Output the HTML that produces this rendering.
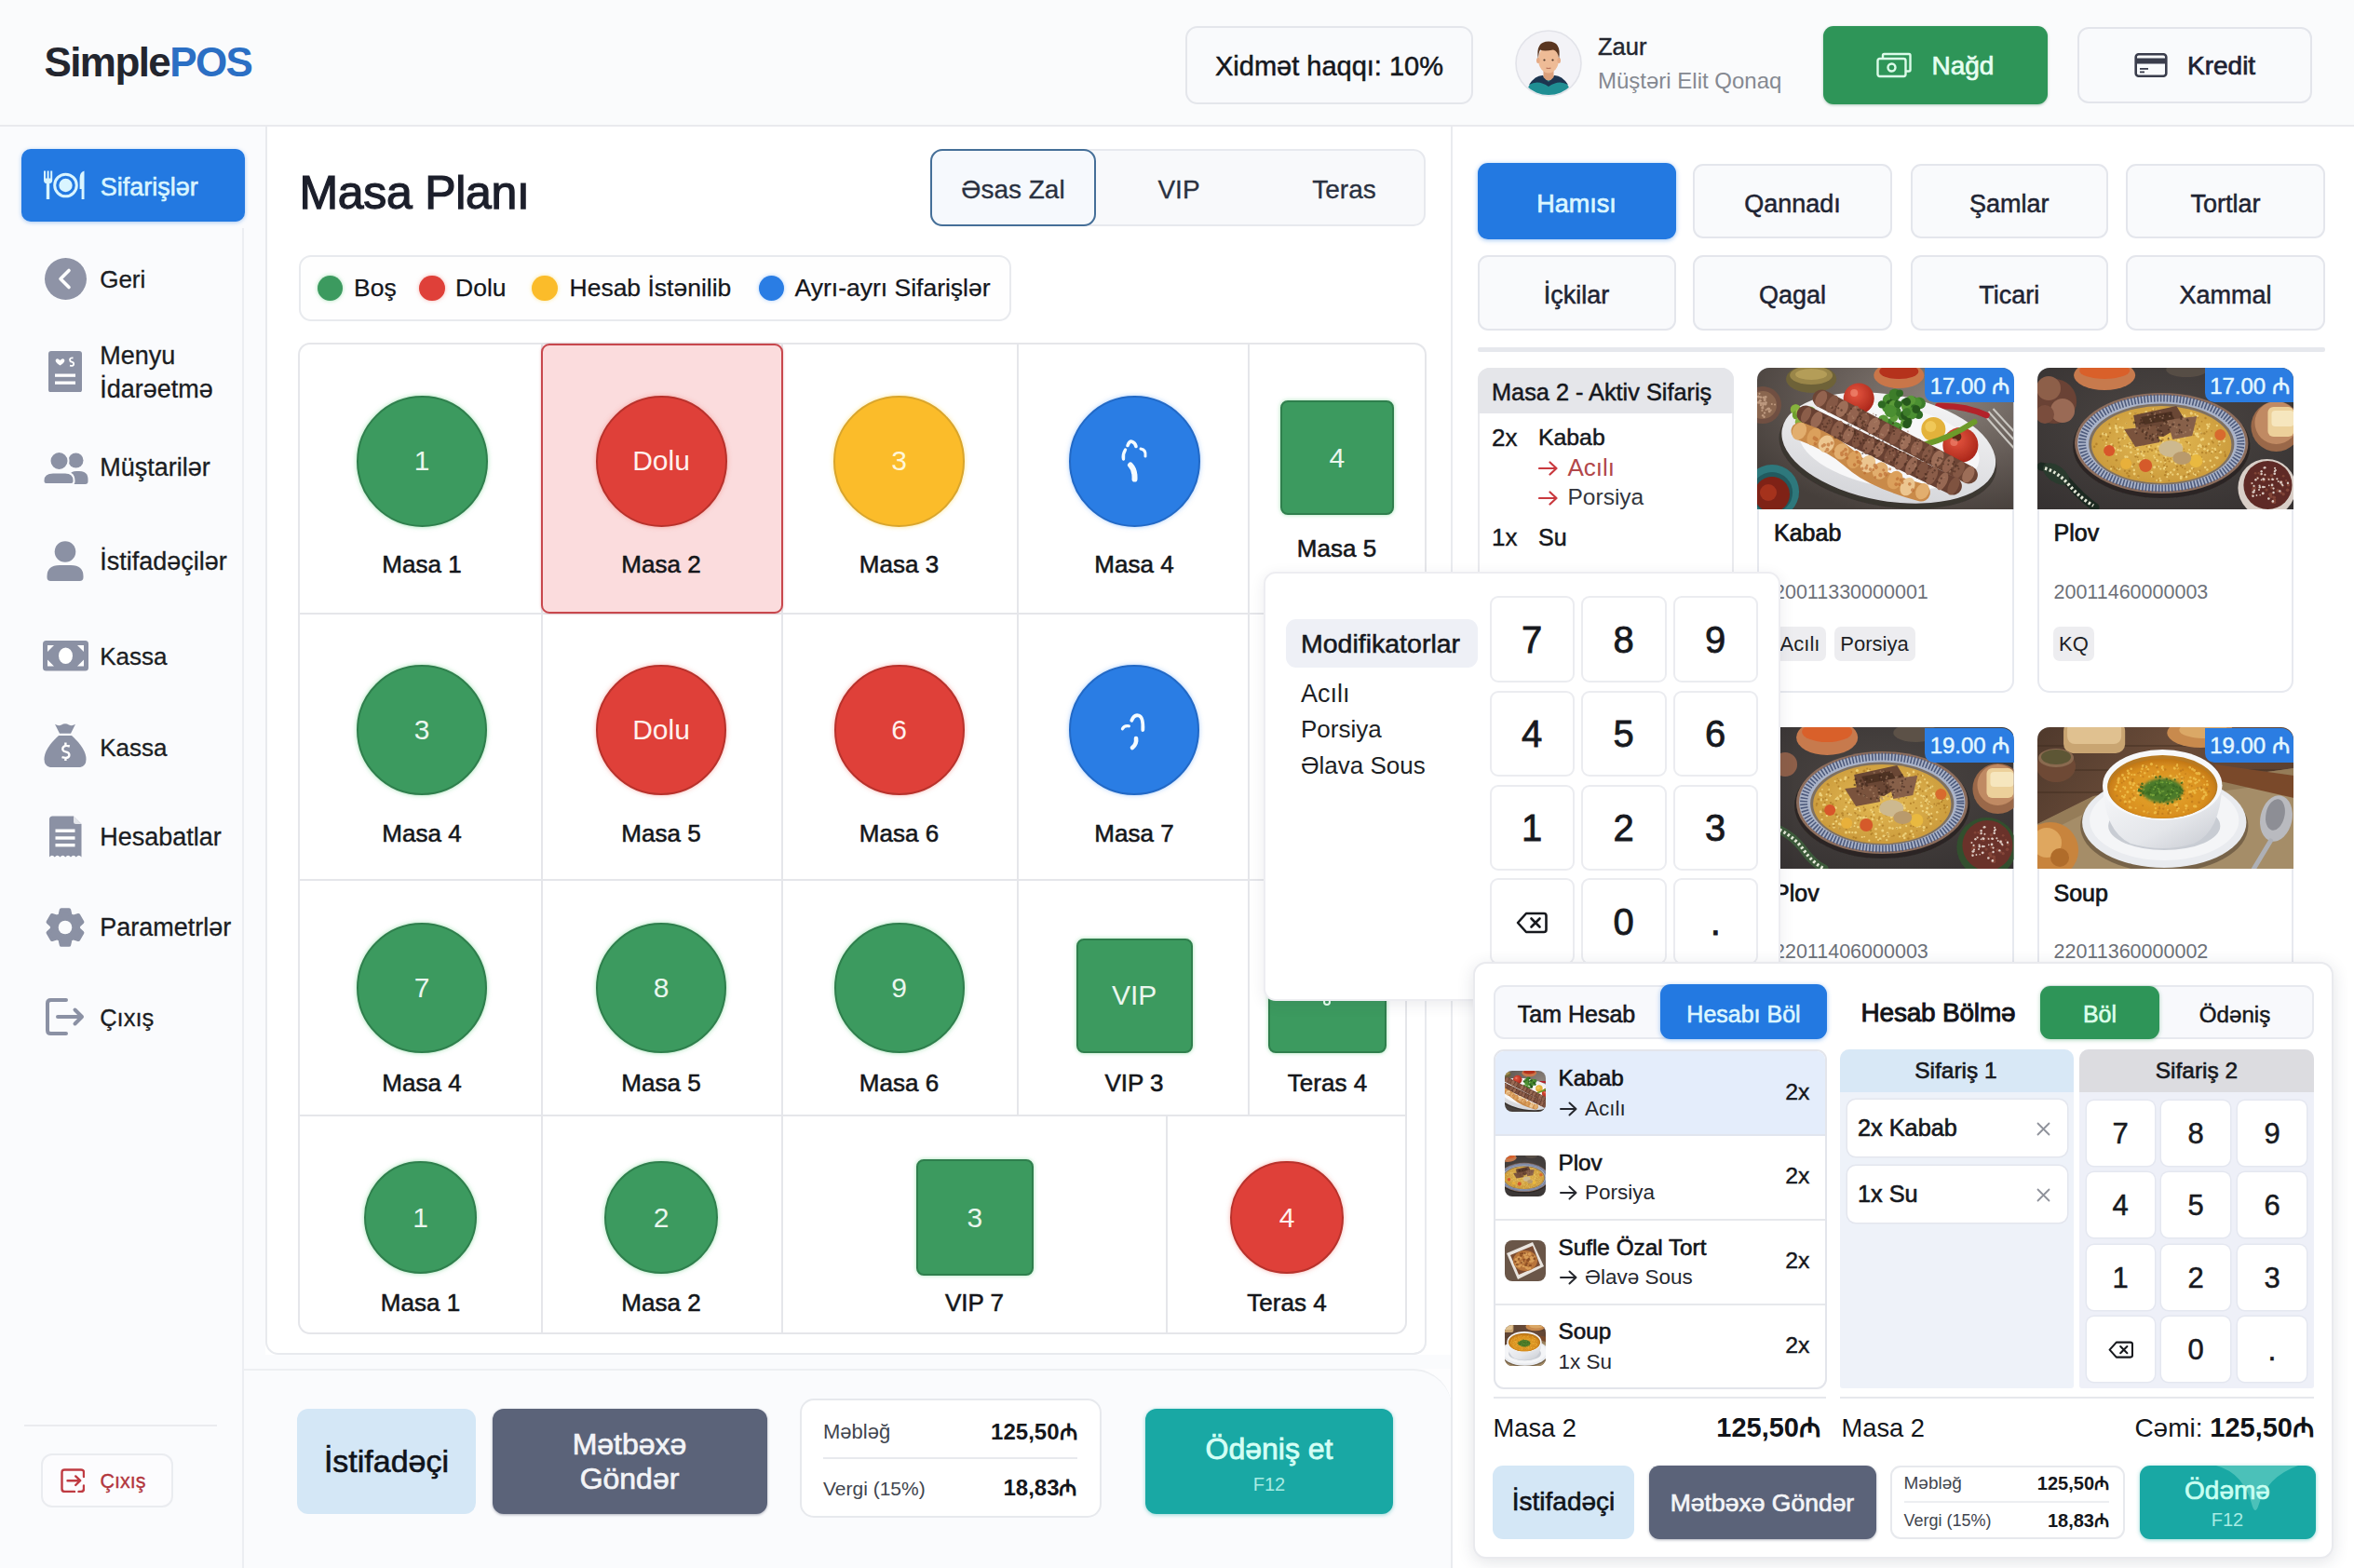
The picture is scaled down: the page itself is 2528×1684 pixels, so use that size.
<!DOCTYPE html><html lang="az"><head><meta charset="utf-8"><title>SimplePOS</title><style>
*{box-sizing:border-box;margin:0;padding:0}
html,body{width:2528px;height:1684px;overflow:hidden}
body{position:relative;background:#fdfdfe;font-family:"Liberation Sans","DejaVu Sans",sans-serif;color:#1b1d22}
div,.a,.t{position:absolute}
.t{line-height:1;white-space:nowrap;display:block}
.key{background:#fff;border:2px solid #ebecf0;border-radius:9px}
.key2{background:#fff;box-shadow:0 0 0 1.5px #e4e7f0;border-radius:8px}
.cat{border:2px solid #e4e6ec;border-radius:11px;background:#f9fafc}
.card{border:2px solid #e7e9ef;border-radius:13px;background:#fff;overflow:hidden}
.tag{background:#ededf0;border-radius:7px}
.circ{border-radius:50%}
</style></head><body>
<svg width="0" height="0" style="position:absolute;left:0;top:0">
<defs>
<filter id="soft" filterUnits="userSpaceOnUse" x="-10" y="-10" width="300" height="180"><feGaussianBlur stdDeviation="0.65"/></filter>
<filter id="soft2" filterUnits="userSpaceOnUse" x="-10" y="-10" width="300" height="180"><feGaussianBlur stdDeviation="1.600"/></filter>
<filter id="soft3" filterUnits="userSpaceOnUse" x="-10" y="-10" width="300" height="180"><feGaussianBlur stdDeviation="3.500"/></filter>
<radialGradient id="bg1" cx="72%" cy="22%" r="85%"><stop offset="0" stop-color="#8a817a"/><stop offset="0.55" stop-color="#645b56"/><stop offset="1" stop-color="#463f3b"/></radialGradient>
<radialGradient id="bg2" cx="50%" cy="40%" r="80%"><stop offset="0" stop-color="#4d4744"/><stop offset="1" stop-color="#343030"/></radialGradient>
<linearGradient id="wood" x1="0" y1="0" x2="1" y2="0.4"><stop offset="0" stop-color="#4f392c"/><stop offset="0.5" stop-color="#6a4c39"/><stop offset="1" stop-color="#5a3f2f"/></linearGradient>
<radialGradient id="rice" cx="50%" cy="45%" r="60%"><stop offset="0" stop-color="#e4bb55"/><stop offset="1" stop-color="#c9983a"/></radialGradient>
<radialGradient id="soupg" cx="50%" cy="55%" r="60%"><stop offset="0" stop-color="#e6a92f"/><stop offset="0.7" stop-color="#d98f1f"/><stop offset="1" stop-color="#b66b12"/></radialGradient>
<radialGradient id="tom" cx="40%" cy="35%" r="70%"><stop offset="0" stop-color="#e5553f"/><stop offset="1" stop-color="#a82418"/></radialGradient>
<linearGradient id="plateg" x1="0" y1="0" x2="0" y2="1"><stop offset="0" stop-color="#f3f3f4"/><stop offset="1" stop-color="#d5d6da"/></linearGradient>
<linearGradient id="bowlg" x1="0" y1="0" x2="1" y2="1"><stop offset="0" stop-color="#f7f8fa"/><stop offset="0.6" stop-color="#e4e6ea"/><stop offset="1" stop-color="#c6c9d0"/></linearGradient>

<symbol id="ph1" viewBox="0 0 275 152" preserveAspectRatio="xMidYMid slice">
 <rect width="275" height="152" fill="url(#bg1)"/>
 <g filter="url(#soft)">
  <circle cx="6" cy="40" r="20" fill="#6f5042"/><circle cx="6" cy="40" r="15" fill="#8a6650"/><g fill="#c9a58a" opacity="0.8"><circle cx="-1.7" cy="41.8" r="1.0"/><circle cx="6.7" cy="39.2" r="1.3"/><circle cx="9.0" cy="37.8" r="1.3"/><circle cx="4.0" cy="38.2" r="1.2"/><circle cx="3.5" cy="31.6" r="1.4"/><circle cx="9.5" cy="45.3" r="1.0"/><circle cx="-6.5" cy="39.5" r="1.3"/><circle cx="7.2" cy="32.0" r="1.4"/><circle cx="11.6" cy="44.2" r="1.4"/><circle cx="4.7" cy="31.7" r="1.0"/><circle cx="5.4" cy="45.9" r="1.1"/><circle cx="8.1" cy="34.6" r="1.5"/><circle cx="8.2" cy="37.9" r="1.2"/><circle cx="4.0" cy="40.1" r="1.2"/><circle cx="9.6" cy="37.6" r="1.3"/><circle cx="13.2" cy="46.8" r="1.5"/><circle cx="6.3" cy="41.1" r="1.0"/><circle cx="4.3" cy="39.6" r="1.0"/><circle cx="-6.5" cy="40.3" r="1.2"/><circle cx="-2.3" cy="46.2" r="1.0"/><circle cx="1.3" cy="37.4" r="1.3"/><circle cx="8.9" cy="39.2" r="1.3"/><circle cx="2.1" cy="36.9" r="1.1"/><circle cx="19.0" cy="39.6" r="1.0"/><circle cx="2.5" cy="27.8" r="1.1"/><circle cx="3.9" cy="38.3" r="1.2"/><circle cx="1.4" cy="31.1" r="1.5"/><circle cx="12.6" cy="44.0" r="1.5"/><circle cx="-1.5" cy="35.6" r="1.2"/><circle cx="15.8" cy="39.1" r="1.0"/><circle cx="8.3" cy="32.9" r="1.2"/><circle cx="8.0" cy="48.4" r="1.2"/><circle cx="14.7" cy="45.5" r="1.0"/><circle cx="6.4" cy="38.0" r="1.5"/><circle cx="9.2" cy="31.4" r="1.4"/><circle cx="6.1" cy="51.2" r="1.2"/><circle cx="7.5" cy="52.7" r="1.2"/><circle cx="-2.4" cy="48.6" r="1.2"/><circle cx="3.3" cy="35.3" r="1.5"/><circle cx="5.8" cy="42.9" r="1.6"/></g>
  <ellipse cx="58" cy="12" rx="27" ry="15" fill="#6e6238"/><ellipse cx="58" cy="8" rx="23" ry="10" fill="#9a8649"/><ellipse cx="58" cy="7" rx="17" ry="6" fill="#b49d58"/>
  <ellipse cx="152" cy="8" rx="27" ry="14" fill="#c9764a"/><ellipse cx="152" cy="4" rx="21" ry="8" fill="#b5301f"/>
  <circle cx="16" cy="133" r="29" fill="#2d787c"/><circle cx="16" cy="134" r="22" fill="#215a5e"/><circle cx="16" cy="136" r="19" fill="#7f2317"/><circle cx="12" cy="134" r="9" fill="#a5321f"/>
  <path d="M243 50 L275 86 M248 47 L275 77 M253 44 L275 68" stroke="#c9c6c0" stroke-width="2" fill="none"/>
  <path d="M194 41 Q222 40 246 51" stroke="#b3202a" stroke-width="6.500" stroke-linecap="round" fill="none"/>
  <g transform="rotate(10 141 86)">
   <ellipse cx="141" cy="91" rx="118" ry="58" fill="#2a2523" opacity=".55"/>
   <ellipse cx="141" cy="86" rx="116" ry="57" fill="url(#plateg)"/>
   <ellipse cx="141" cy="84" rx="98" ry="44" fill="#f7f7f8"/>
  </g>
  <circle cx="41.2" cy="44.7" r="5.5" fill="#86b23c"/><circle cx="56.9" cy="47.3" r="5.8" fill="#6f9f2f"/><circle cx="55.4" cy="51.1" r="5.9" fill="#9cc24a"/><circle cx="41.8" cy="43.3" r="3.9" fill="#86b23c"/><circle cx="42.6" cy="50.8" r="4.9" fill="#6f9f2f"/><circle cx="46.9" cy="49.5" r="4.1" fill="#9cc24a"/><circle cx="46.1" cy="58.3" r="5.4" fill="#86b23c"/><circle cx="53.3" cy="56.6" r="3.9" fill="#6f9f2f"/><circle cx="45.1" cy="47.9" r="3.6" fill="#9cc24a"/><circle cx="51.5" cy="47.1" r="4.1" fill="#86b23c"/><circle cx="58.2" cy="49.1" r="4.3" fill="#6f9f2f"/><circle cx="55.8" cy="48.5" r="5.2" fill="#9cc24a"/>
  <circle cx="155.7" cy="52.1" r="4.9" fill="#3c7d2a"/><circle cx="158.5" cy="50.1" r="4.9" fill="#2f6a22"/><circle cx="173.7" cy="37.5" r="5.9" fill="#4b8f30"/><circle cx="158.1" cy="59.8" r="4.6" fill="#5a9a38"/><circle cx="158.7" cy="51.5" r="4.5" fill="#28591d"/><circle cx="174.6" cy="38.3" r="6.0" fill="#3c7d2a"/><circle cx="158.3" cy="38.0" r="4.7" fill="#2f6a22"/><circle cx="140.7" cy="34.2" r="6.1" fill="#4b8f30"/><circle cx="160.2" cy="42.1" r="5.5" fill="#5a9a38"/><circle cx="146.9" cy="34.0" r="4.4" fill="#28591d"/><circle cx="147.9" cy="46.9" r="6.3" fill="#3c7d2a"/><circle cx="166.8" cy="35.4" r="4.7" fill="#2f6a22"/><circle cx="170.3" cy="38.1" r="6.2" fill="#4b8f30"/><circle cx="164.9" cy="34.8" r="5.0" fill="#5a9a38"/><circle cx="142.2" cy="38.7" r="4.3" fill="#28591d"/><circle cx="147.7" cy="62.3" r="4.0" fill="#3c7d2a"/><circle cx="173.2" cy="50.4" r="4.6" fill="#2f6a22"/><circle cx="138.9" cy="43.2" r="4.8" fill="#4b8f30"/><circle cx="165.6" cy="45.9" r="5.0" fill="#5a9a38"/><circle cx="160.6" cy="60.6" r="4.6" fill="#28591d"/><circle cx="142.2" cy="59.1" r="4.7" fill="#3c7d2a"/><circle cx="133.7" cy="39.4" r="4.2" fill="#2f6a22"/><circle cx="165.6" cy="49.5" r="5.9" fill="#4b8f30"/><circle cx="146.2" cy="39.8" r="4.8" fill="#5a9a38"/><circle cx="162.1" cy="57.7" r="4.0" fill="#28591d"/><circle cx="147.6" cy="28.8" r="6.4" fill="#3c7d2a"/><circle cx="152.8" cy="27.3" r="3.9" fill="#2f6a22"/><circle cx="149.3" cy="64.3" r="5.9" fill="#4b8f30"/><circle cx="135.3" cy="55.9" r="5.5" fill="#5a9a38"/><circle cx="160.4" cy="36.5" r="4.4" fill="#28591d"/><circle cx="146.7" cy="48.4" r="4.9" fill="#3c7d2a"/><circle cx="168.4" cy="43.4" r="3.9" fill="#2f6a22"/><circle cx="164.5" cy="48.2" r="5.9" fill="#4b8f30"/><circle cx="146.6" cy="53.9" r="4.2" fill="#5a9a38"/><circle cx="170.5" cy="44.6" r="4.4" fill="#28591d"/><circle cx="160.3" cy="47.6" r="4.3" fill="#3c7d2a"/><circle cx="150.9" cy="39.3" r="4.0" fill="#2f6a22"/><circle cx="143.0" cy="46.6" r="6.5" fill="#4b8f30"/>
  <circle cx="189" cy="66" r="13" fill="#e3b23a"/><circle cx="186" cy="63" r="6" fill="#f0c858"/>
  <circle cx="109" cy="33" r="16.500" fill="url(#tom)"/><circle cx="104" cy="27" r="4" fill="#f08a74" opacity=".7"/>
  <circle cx="218" cy="83" r="19" fill="url(#tom)"/><circle cx="214" cy="74" r="5" fill="#5c2a18"/><circle cx="211" cy="80" r="4" fill="#f08a74" opacity=".6"/>
  <path d="M181 82 Q205 76 233 58" stroke="#6d9a2a" stroke-width="6" stroke-linecap="round" fill="none"/>
  <path d="M69 33 L227 115" stroke="#6d4535" stroke-width="19" stroke-linecap="round"/><ellipse cx="68.6" cy="33.4" rx="5.6" ry="9.2" transform="rotate(27 68.6 33.4)" fill="#93644f"/><ellipse cx="80.3" cy="38.8" rx="5.4" ry="10.1" transform="rotate(27 80.3 38.8)" fill="#855845"/><ellipse cx="91.1" cy="44.1" rx="5.7" ry="9.5" transform="rotate(27 91.1 44.1)" fill="#9d6e58"/><ellipse cx="103.2" cy="50.0" rx="5.1" ry="10.0" transform="rotate(27 103.2 50.0)" fill="#93644f"/><ellipse cx="113.8" cy="57.0" rx="5.8" ry="8.8" transform="rotate(27 113.8 57.0)" fill="#855845"/><ellipse cx="124.9" cy="62.3" rx="5.9" ry="9.4" transform="rotate(27 124.9 62.3)" fill="#9d6e58"/><ellipse cx="136.4" cy="68.0" rx="4.4" ry="9.2" transform="rotate(27 136.4 68.0)" fill="#93644f"/><ellipse cx="147.9" cy="74.0" rx="4.8" ry="9.2" transform="rotate(27 147.9 74.0)" fill="#855845"/><ellipse cx="158.9" cy="79.8" rx="4.9" ry="8.8" transform="rotate(27 158.9 79.8)" fill="#9d6e58"/><ellipse cx="171.0" cy="85.8" rx="5.4" ry="9.1" transform="rotate(27 171.0 85.8)" fill="#93644f"/><ellipse cx="182.4" cy="92.0" rx="4.6" ry="9.3" transform="rotate(27 182.4 92.0)" fill="#855845"/><ellipse cx="193.4" cy="97.7" rx="5.9" ry="9.5" transform="rotate(27 193.4 97.7)" fill="#9d6e58"/><ellipse cx="204.8" cy="103.5" rx="4.9" ry="9.7" transform="rotate(27 204.8 103.5)" fill="#93644f"/><ellipse cx="216.2" cy="109.6" rx="5.2" ry="9.7" transform="rotate(27 216.2 109.6)" fill="#855845"/><ellipse cx="226.4" cy="114.7" rx="5.7" ry="9.5" transform="rotate(27 226.4 114.7)" fill="#9d6e58"/><path d="M52 50 L210 127" stroke="#684132" stroke-width="19" stroke-linecap="round"/><ellipse cx="52.5" cy="50.5" rx="4.5" ry="8.9" transform="rotate(26 52.5 50.5)" fill="#8b5d49"/><ellipse cx="63.7" cy="55.8" rx="5.5" ry="9.3" transform="rotate(26 63.7 55.8)" fill="#976852"/><ellipse cx="74.7" cy="61.1" rx="5.3" ry="9.1" transform="rotate(26 74.7 61.1)" fill="#7f5240"/><ellipse cx="85.8" cy="66.4" rx="5.6" ry="10.4" transform="rotate(26 85.8 66.4)" fill="#8b5d49"/><ellipse cx="97.7" cy="72.1" rx="5.1" ry="9.2" transform="rotate(26 97.7 72.1)" fill="#976852"/><ellipse cx="107.9" cy="76.9" rx="5.1" ry="9.3" transform="rotate(26 107.9 76.9)" fill="#7f5240"/><ellipse cx="119.6" cy="83.5" rx="5.2" ry="9.7" transform="rotate(26 119.6 83.5)" fill="#8b5d49"/><ellipse cx="130.7" cy="87.9" rx="4.9" ry="9.0" transform="rotate(26 130.7 87.9)" fill="#976852"/><ellipse cx="142.3" cy="94.6" rx="5.5" ry="9.1" transform="rotate(26 142.3 94.6)" fill="#7f5240"/><ellipse cx="154.0" cy="99.9" rx="5.6" ry="10.3" transform="rotate(26 154.0 99.9)" fill="#8b5d49"/><ellipse cx="165.2" cy="105.3" rx="5.0" ry="10.4" transform="rotate(26 165.2 105.3)" fill="#976852"/><ellipse cx="176.7" cy="110.1" rx="5.6" ry="9.9" transform="rotate(26 176.7 110.1)" fill="#7f5240"/><ellipse cx="187.4" cy="116.0" rx="5.2" ry="10.3" transform="rotate(26 187.4 116.0)" fill="#8b5d49"/><ellipse cx="198.7" cy="121.9" rx="5.0" ry="10.2" transform="rotate(26 198.7 121.9)" fill="#976852"/><ellipse cx="210.5" cy="127.0" rx="5.3" ry="10.3" transform="rotate(26 210.5 127.0)" fill="#7f5240"/><path d="M46 68 Q80 80 102 100 T176 134" stroke="#c98a4a" stroke-width="19" stroke-linecap="round" fill="none"/><ellipse cx="45.2" cy="68.1" rx="7.3" ry="9.7" transform="rotate(27 45.2 68.1)" fill="#e2ae6e"/><ellipse cx="60.8" cy="73.9" rx="6.7" ry="10.0" transform="rotate(27 60.8 73.9)" fill="#dba05c"/><ellipse cx="74.1" cy="81.8" rx="8.3" ry="9.5" transform="rotate(27 74.1 81.8)" fill="#ecc690"/><ellipse cx="90.4" cy="89.9" rx="7.7" ry="8.9" transform="rotate(27 90.4 89.9)" fill="#e2ae6e"/><ellipse cx="104.2" cy="98.5" rx="7.5" ry="9.9" transform="rotate(27 104.2 98.5)" fill="#dba05c"/><ellipse cx="118.8" cy="103.3" rx="7.9" ry="9.6" transform="rotate(27 118.8 103.3)" fill="#ecc690"/><ellipse cx="132.0" cy="110.5" rx="8.1" ry="9.5" transform="rotate(27 132.0 110.5)" fill="#e2ae6e"/><ellipse cx="147.8" cy="120.5" rx="7.8" ry="10.2" transform="rotate(27 147.8 120.5)" fill="#dba05c"/><ellipse cx="161.2" cy="127.6" rx="7.4" ry="10.2" transform="rotate(27 161.2 127.6)" fill="#ecc690"/><ellipse cx="177.2" cy="132.7" rx="6.9" ry="9.0" transform="rotate(27 177.2 132.7)" fill="#e2ae6e"/>
  <g transform="rotate(27.500 148 74)" fill="#3f2419" opacity="0.55"><circle cx="99.9" cy="66.8" r="1.2"/><circle cx="210.8" cy="70.3" r="1.3"/><circle cx="200.3" cy="75.5" r="1.3"/><circle cx="104.1" cy="64.8" r="0.8"/><circle cx="110.0" cy="75.2" r="1.1"/><circle cx="140.0" cy="73.4" r="0.9"/><circle cx="134.2" cy="85.3" r="1.2"/><circle cx="185.5" cy="83.0" r="0.9"/><circle cx="127.5" cy="71.1" r="0.8"/><circle cx="172.7" cy="70.0" r="0.9"/><circle cx="220.4" cy="72.8" r="0.9"/><circle cx="203.6" cy="71.9" r="1.1"/><circle cx="169.2" cy="85.2" r="1.1"/><circle cx="220.1" cy="71.6" r="0.9"/><circle cx="127.6" cy="77.7" r="0.9"/><circle cx="187.3" cy="76.6" r="1.1"/><circle cx="212.2" cy="74.2" r="1.0"/><circle cx="122.0" cy="84.1" r="1.0"/><circle cx="126.3" cy="81.6" r="1.1"/><circle cx="220.1" cy="78.2" r="0.8"/><circle cx="147.9" cy="63.0" r="0.8"/><circle cx="159.1" cy="66.9" r="1.1"/><circle cx="164.8" cy="74.1" r="0.9"/><circle cx="181.2" cy="72.5" r="1.2"/><circle cx="216.4" cy="69.0" r="1.0"/><circle cx="113.4" cy="80.9" r="1.2"/><circle cx="200.5" cy="80.5" r="1.2"/><circle cx="157.5" cy="72.2" r="1.3"/><circle cx="186.3" cy="77.8" r="1.1"/><circle cx="187.6" cy="70.6" r="1.3"/><circle cx="106.1" cy="72.1" r="0.9"/><circle cx="157.6" cy="77.0" r="0.9"/><circle cx="119.0" cy="62.9" r="0.9"/><circle cx="221.9" cy="77.6" r="1.1"/><circle cx="116.5" cy="77.3" r="1.1"/><circle cx="172.3" cy="66.8" r="1.0"/><circle cx="218.1" cy="77.9" r="0.8"/><circle cx="76.6" cy="74.4" r="0.8"/><circle cx="139.3" cy="62.4" r="1.1"/><circle cx="154.0" cy="70.2" r="1.0"/><circle cx="190.4" cy="82.9" r="0.9"/><circle cx="73.4" cy="77.5" r="1.2"/><circle cx="199.9" cy="72.8" r="1.0"/><circle cx="141.1" cy="65.8" r="0.9"/><circle cx="123.4" cy="76.6" r="1.0"/><circle cx="224.2" cy="73.1" r="1.1"/><circle cx="102.6" cy="74.0" r="0.8"/><circle cx="138.4" cy="84.5" r="1.2"/><circle cx="103.5" cy="82.1" r="1.2"/><circle cx="126.3" cy="64.8" r="1.2"/><circle cx="105.2" cy="81.6" r="0.9"/><circle cx="79.8" cy="74.9" r="1.1"/><circle cx="127.4" cy="85.2" r="1.1"/><circle cx="140.7" cy="73.4" r="1.1"/><circle cx="147.7" cy="83.8" r="1.0"/><circle cx="173.5" cy="65.2" r="1.2"/><circle cx="111.9" cy="81.9" r="1.2"/><circle cx="169.8" cy="67.7" r="1.2"/><circle cx="192.3" cy="66.7" r="1.3"/><circle cx="202.1" cy="71.7" r="1.1"/><circle cx="183.9" cy="83.5" r="1.3"/><circle cx="83.8" cy="75.4" r="1.2"/><circle cx="144.0" cy="69.1" r="1.2"/><circle cx="92.4" cy="69.2" r="1.0"/><circle cx="99.1" cy="66.6" r="1.1"/><circle cx="145.6" cy="72.0" r="0.9"/><circle cx="89.4" cy="77.5" r="0.9"/><circle cx="123.7" cy="65.2" r="0.8"/><circle cx="111.5" cy="75.0" r="0.8"/><circle cx="177.4" cy="79.0" r="0.9"/><circle cx="153.1" cy="76.1" r="1.0"/><circle cx="103.4" cy="80.4" r="1.1"/><circle cx="153.7" cy="85.4" r="0.8"/><circle cx="113.9" cy="77.5" r="1.0"/><circle cx="201.3" cy="81.2" r="1.0"/><circle cx="207.5" cy="76.1" r="0.8"/><circle cx="104.4" cy="72.0" r="1.1"/><circle cx="216.2" cy="71.2" r="1.0"/><circle cx="172.1" cy="65.1" r="1.0"/><circle cx="185.8" cy="81.2" r="1.1"/><circle cx="222.0" cy="70.9" r="1.1"/><circle cx="104.2" cy="83.1" r="0.8"/><circle cx="193.7" cy="79.7" r="1.1"/><circle cx="187.2" cy="81.4" r="1.2"/><circle cx="111.6" cy="79.5" r="0.9"/><circle cx="128.2" cy="85.4" r="1.0"/><circle cx="220.3" cy="71.2" r="1.1"/><circle cx="143.2" cy="85.9" r="1.0"/><circle cx="110.0" cy="77.4" r="1.3"/><circle cx="106.3" cy="74.3" r="1.0"/></g><g transform="rotate(26 131 88)" fill="#3f2419" opacity="0.55"><circle cx="150.0" cy="77.5" r="1.0"/><circle cx="130.9" cy="88.3" r="1.1"/><circle cx="64.2" cy="89.9" r="1.0"/><circle cx="136.1" cy="81.8" r="1.2"/><circle cx="124.7" cy="80.3" r="1.1"/><circle cx="116.8" cy="83.2" r="1.1"/><circle cx="144.6" cy="82.2" r="1.2"/><circle cx="102.8" cy="77.9" r="1.0"/><circle cx="189.2" cy="93.9" r="1.2"/><circle cx="108.5" cy="89.2" r="0.9"/><circle cx="103.1" cy="83.1" r="1.3"/><circle cx="101.3" cy="85.2" r="1.1"/><circle cx="82.8" cy="96.9" r="1.3"/><circle cx="68.6" cy="87.1" r="1.1"/><circle cx="157.3" cy="76.9" r="0.8"/><circle cx="92.0" cy="95.1" r="0.9"/><circle cx="111.2" cy="86.1" r="1.2"/><circle cx="104.7" cy="87.4" r="1.1"/><circle cx="117.8" cy="92.9" r="1.0"/><circle cx="154.1" cy="92.2" r="1.2"/><circle cx="128.2" cy="86.7" r="1.2"/><circle cx="175.7" cy="88.7" r="1.3"/><circle cx="99.6" cy="83.4" r="1.0"/><circle cx="109.7" cy="90.7" r="1.3"/><circle cx="178.9" cy="90.6" r="1.2"/><circle cx="69.1" cy="95.1" r="0.9"/><circle cx="204.1" cy="86.5" r="1.1"/><circle cx="171.1" cy="82.9" r="1.2"/><circle cx="147.0" cy="79.7" r="1.0"/><circle cx="117.3" cy="80.6" r="0.8"/><circle cx="130.1" cy="81.8" r="1.0"/><circle cx="137.9" cy="83.1" r="0.8"/><circle cx="173.7" cy="94.5" r="1.0"/><circle cx="128.9" cy="96.1" r="1.3"/><circle cx="129.5" cy="95.7" r="1.2"/><circle cx="100.2" cy="84.0" r="1.0"/><circle cx="101.9" cy="88.6" r="1.0"/><circle cx="107.0" cy="98.1" r="0.9"/><circle cx="89.5" cy="78.0" r="1.3"/><circle cx="87.9" cy="94.5" r="0.9"/><circle cx="87.3" cy="93.0" r="1.2"/><circle cx="169.8" cy="85.5" r="0.8"/><circle cx="113.3" cy="88.9" r="0.8"/><circle cx="134.9" cy="84.0" r="1.2"/><circle cx="82.1" cy="96.9" r="1.2"/><circle cx="162.6" cy="90.0" r="1.3"/><circle cx="92.7" cy="82.9" r="1.2"/><circle cx="152.3" cy="80.2" r="1.0"/><circle cx="168.9" cy="92.2" r="0.9"/><circle cx="88.2" cy="81.4" r="0.9"/><circle cx="114.1" cy="85.3" r="0.8"/><circle cx="98.6" cy="81.5" r="1.2"/><circle cx="86.0" cy="80.7" r="0.8"/><circle cx="142.2" cy="85.0" r="1.1"/><circle cx="194.1" cy="82.0" r="1.2"/><circle cx="69.0" cy="91.0" r="1.2"/><circle cx="180.4" cy="96.8" r="1.3"/><circle cx="66.9" cy="91.8" r="1.0"/><circle cx="120.1" cy="98.0" r="0.8"/><circle cx="154.9" cy="76.7" r="0.9"/><circle cx="152.0" cy="86.7" r="1.2"/><circle cx="116.7" cy="99.6" r="1.0"/><circle cx="143.3" cy="87.0" r="0.8"/><circle cx="156.2" cy="79.2" r="1.1"/><circle cx="162.8" cy="89.0" r="1.0"/><circle cx="204.6" cy="91.8" r="1.2"/><circle cx="193.1" cy="84.9" r="1.0"/><circle cx="189.9" cy="92.8" r="0.8"/><circle cx="80.2" cy="85.6" r="1.0"/><circle cx="149.9" cy="89.5" r="1.1"/><circle cx="186.5" cy="89.7" r="0.9"/><circle cx="125.0" cy="92.6" r="1.1"/><circle cx="102.9" cy="91.7" r="0.9"/><circle cx="62.5" cy="83.5" r="1.0"/><circle cx="153.8" cy="93.8" r="0.9"/><circle cx="68.9" cy="83.3" r="1.1"/><circle cx="147.9" cy="94.3" r="1.0"/><circle cx="85.2" cy="90.7" r="1.3"/><circle cx="70.8" cy="84.9" r="1.2"/><circle cx="88.1" cy="79.5" r="1.0"/><circle cx="92.5" cy="77.8" r="0.9"/><circle cx="96.9" cy="82.7" r="0.8"/><circle cx="196.8" cy="90.6" r="0.8"/><circle cx="125.0" cy="84.3" r="1.0"/><circle cx="187.3" cy="89.8" r="1.2"/><circle cx="140.0" cy="96.9" r="1.3"/><circle cx="116.6" cy="95.9" r="1.2"/><circle cx="152.1" cy="84.3" r="1.1"/><circle cx="150.0" cy="90.8" r="1.3"/><circle cx="202.1" cy="91.6" r="1.2"/></g><g transform="rotate(27 140 80)" fill="#b58a70" opacity="0.5"><circle cx="126.1" cy="87.6" r="0.9"/><circle cx="192.6" cy="87.1" r="0.8"/><circle cx="193.2" cy="85.6" r="0.7"/><circle cx="120.7" cy="82.4" r="0.7"/><circle cx="75.3" cy="89.1" r="0.7"/><circle cx="150.6" cy="97.2" r="1.1"/><circle cx="95.4" cy="73.5" r="1.1"/><circle cx="211.0" cy="85.9" r="0.8"/><circle cx="156.9" cy="85.9" r="0.8"/><circle cx="153.7" cy="71.4" r="0.9"/><circle cx="108.6" cy="69.7" r="0.9"/><circle cx="158.0" cy="82.1" r="0.8"/><circle cx="117.8" cy="67.0" r="0.8"/><circle cx="93.7" cy="72.4" r="0.8"/><circle cx="158.4" cy="62.3" r="0.8"/><circle cx="88.2" cy="72.8" r="1.0"/><circle cx="134.5" cy="68.3" r="1.1"/><circle cx="178.1" cy="89.6" r="1.0"/><circle cx="172.3" cy="92.6" r="0.7"/><circle cx="105.6" cy="63.2" r="0.9"/><circle cx="171.8" cy="71.3" r="1.0"/><circle cx="89.5" cy="70.6" r="0.9"/><circle cx="181.7" cy="61.9" r="0.9"/><circle cx="129.9" cy="75.4" r="1.0"/><circle cx="92.0" cy="62.5" r="1.0"/><circle cx="129.3" cy="93.3" r="1.0"/><circle cx="193.8" cy="82.1" r="0.7"/><circle cx="154.4" cy="83.6" r="1.0"/><circle cx="167.4" cy="87.9" r="0.8"/><circle cx="155.7" cy="75.5" r="0.9"/><circle cx="68.4" cy="73.7" r="1.0"/><circle cx="167.7" cy="71.2" r="0.8"/><circle cx="92.5" cy="96.0" r="1.1"/><circle cx="159.6" cy="87.5" r="0.8"/><circle cx="145.8" cy="95.2" r="0.9"/><circle cx="139.6" cy="81.4" r="0.8"/><circle cx="99.0" cy="92.1" r="1.1"/><circle cx="119.0" cy="65.3" r="0.9"/><circle cx="131.7" cy="75.4" r="1.1"/><circle cx="154.0" cy="59.8" r="1.0"/><circle cx="100.6" cy="88.7" r="0.7"/><circle cx="126.7" cy="75.9" r="0.7"/><circle cx="148.3" cy="88.6" r="0.8"/><circle cx="141.2" cy="80.1" r="0.7"/><circle cx="178.8" cy="87.9" r="0.7"/><circle cx="184.1" cy="67.8" r="0.7"/><circle cx="139.3" cy="93.0" r="0.8"/><circle cx="192.8" cy="94.1" r="1.1"/><circle cx="85.6" cy="83.2" r="0.7"/><circle cx="177.5" cy="87.7" r="0.8"/><circle cx="155.3" cy="72.2" r="0.7"/><circle cx="195.4" cy="75.2" r="0.7"/><circle cx="127.3" cy="79.0" r="0.9"/><circle cx="213.7" cy="77.2" r="1.0"/><circle cx="136.6" cy="93.3" r="0.7"/><circle cx="148.0" cy="64.1" r="1.0"/><circle cx="121.9" cy="89.1" r="1.0"/><circle cx="213.5" cy="78.1" r="1.0"/><circle cx="168.6" cy="62.8" r="0.8"/><circle cx="92.6" cy="78.5" r="0.7"/><circle cx="181.6" cy="82.0" r="0.8"/><circle cx="112.4" cy="59.9" r="0.9"/><circle cx="213.4" cy="71.6" r="1.1"/><circle cx="115.2" cy="87.8" r="0.8"/><circle cx="151.9" cy="89.4" r="0.9"/><circle cx="199.4" cy="68.2" r="0.9"/><circle cx="99.0" cy="63.9" r="0.7"/><circle cx="99.4" cy="62.2" r="1.0"/><circle cx="140.0" cy="64.8" r="0.7"/><circle cx="151.2" cy="67.7" r="1.0"/></g><g transform="rotate(27 111 101)" fill="#b9662c" opacity="0.6"><circle cx="120.4" cy="109.7" r="1.4"/><circle cx="105.6" cy="98.5" r="1.5"/><circle cx="141.2" cy="101.0" r="1.9"/><circle cx="68.0" cy="102.5" r="1.8"/><circle cx="132.4" cy="108.7" r="1.4"/><circle cx="111.9" cy="102.3" r="1.6"/><circle cx="58.6" cy="105.7" r="1.7"/><circle cx="136.3" cy="104.0" r="2.2"/><circle cx="158.9" cy="103.7" r="1.7"/><circle cx="90.6" cy="96.6" r="1.9"/><circle cx="57.8" cy="101.1" r="2.1"/><circle cx="89.3" cy="99.3" r="1.4"/><circle cx="154.5" cy="98.9" r="1.5"/><circle cx="158.4" cy="98.7" r="2.0"/><circle cx="136.9" cy="97.7" r="1.6"/><circle cx="128.5" cy="98.7" r="2.0"/><circle cx="155.8" cy="105.3" r="1.9"/><circle cx="168.6" cy="98.4" r="1.8"/><circle cx="119.3" cy="104.3" r="1.8"/><circle cx="93.4" cy="100.9" r="2.1"/><circle cx="55.8" cy="100.6" r="1.5"/><circle cx="111.3" cy="102.0" r="1.6"/><circle cx="106.5" cy="106.8" r="1.7"/><circle cx="142.5" cy="93.7" r="1.5"/><circle cx="89.6" cy="103.2" r="1.9"/><circle cx="140.3" cy="100.4" r="2.0"/><circle cx="108.7" cy="102.0" r="2.0"/><circle cx="96.2" cy="104.1" r="1.7"/><circle cx="115.8" cy="106.7" r="1.7"/><circle cx="66.9" cy="104.4" r="1.6"/><circle cx="126.9" cy="102.5" r="1.4"/><circle cx="71.7" cy="100.3" r="2.0"/><circle cx="55.5" cy="100.8" r="2.2"/><circle cx="118.9" cy="101.5" r="1.4"/><circle cx="73.2" cy="105.5" r="2.0"/><circle cx="72.4" cy="108.1" r="1.3"/><circle cx="126.5" cy="97.5" r="2.1"/><circle cx="174.4" cy="102.8" r="2.0"/><circle cx="161.2" cy="100.6" r="1.5"/><circle cx="154.1" cy="99.9" r="1.4"/><circle cx="74.3" cy="97.1" r="1.7"/><circle cx="124.0" cy="103.6" r="1.8"/><circle cx="88.6" cy="101.9" r="1.7"/><circle cx="102.4" cy="93.5" r="1.7"/><circle cx="79.9" cy="104.3" r="1.5"/></g>
 </g>
</symbol>

<symbol id="ph2" viewBox="0 0 275 152" preserveAspectRatio="xMidYMid slice">
 <rect width="275" height="152" fill="url(#bg2)"/>
 <g filter="url(#soft)">
  <circle cx="18" cy="36" r="24" fill="#6a4234"/><circle cx="12" cy="22" r="13" fill="#8d5e4a"/><circle cx="27" cy="46" r="13" fill="#9a6a55"/><circle cx="8" cy="50" r="10" fill="#7a4e3e"/>
  <ellipse cx="72" cy="8" rx="33" ry="16" fill="#c77a4e"/><ellipse cx="72" cy="3" rx="27" ry="9" fill="#d9602c"/>
  <ellipse cx="160" cy="2" rx="22" ry="8" fill="#574d45"/>
  <circle cx="256" cy="63" r="27" fill="#9a6848"/><circle cx="256" cy="59" r="23" fill="#c08a63"/>
  <rect x="247" y="42" width="28" height="32" rx="6" fill="#ecd09a"/><rect x="251" y="46" width="24" height="17" rx="4" fill="#f6e6be"/>
  <circle cx="246" cy="129" r="31" fill="#d9cfc8"/><circle cx="247" cy="126" r="26" fill="#5f2c25"/><g fill="#8a4a3c" opacity="0.8"><circle cx="231.3" cy="130.4" r="1.7"/><circle cx="231.7" cy="129.1" r="1.5"/><circle cx="253.3" cy="139.1" r="1.5"/><circle cx="248.8" cy="120.1" r="1.3"/><circle cx="263.7" cy="135.7" r="1.6"/><circle cx="268.1" cy="131.2" r="1.8"/><circle cx="237.2" cy="113.1" r="1.2"/><circle cx="262.9" cy="127.4" r="1.1"/><circle cx="251.0" cy="135.2" r="1.1"/><circle cx="232.8" cy="129.0" r="1.7"/><circle cx="229.5" cy="124.1" r="1.4"/><circle cx="239.2" cy="114.5" r="1.3"/><circle cx="269.0" cy="125.7" r="1.7"/><circle cx="243.8" cy="115.2" r="1.2"/><circle cx="245.6" cy="131.1" r="1.6"/><circle cx="230.6" cy="136.8" r="1.4"/><circle cx="266.6" cy="121.2" r="1.1"/><circle cx="252.3" cy="144.5" r="1.4"/><circle cx="260.8" cy="124.4" r="1.1"/><circle cx="233.7" cy="113.2" r="1.3"/><circle cx="257.8" cy="132.0" r="1.8"/><circle cx="247.4" cy="119.1" r="1.3"/><circle cx="251.3" cy="128.9" r="1.7"/><circle cx="254.2" cy="139.4" r="1.4"/><circle cx="253.9" cy="141.9" r="1.2"/><circle cx="242.3" cy="120.6" r="1.4"/><circle cx="249.6" cy="136.1" r="1.8"/><circle cx="251.0" cy="115.6" r="1.7"/><circle cx="250.4" cy="138.2" r="1.7"/><circle cx="242.6" cy="121.1" r="1.8"/><circle cx="249.6" cy="135.9" r="1.6"/><circle cx="241.3" cy="135.6" r="1.1"/><circle cx="261.2" cy="134.2" r="1.3"/><circle cx="236.2" cy="118.8" r="1.4"/><circle cx="261.8" cy="122.5" r="1.5"/><circle cx="253.3" cy="119.6" r="1.2"/><circle cx="263.7" cy="116.2" r="1.3"/><circle cx="254.0" cy="142.0" r="1.8"/><circle cx="254.1" cy="144.4" r="1.7"/><circle cx="235.6" cy="118.1" r="1.2"/></g><g fill="#efe6df" opacity="0.85"><circle cx="234.0" cy="120.3" r="1.2"/><circle cx="252.4" cy="143.4" r="1.3"/><circle cx="242.0" cy="119.4" r="1.1"/><circle cx="241.8" cy="134.8" r="1.4"/><circle cx="251.6" cy="125.9" r="1.3"/><circle cx="236.2" cy="118.5" r="1.0"/><circle cx="240.2" cy="114.0" r="1.2"/><circle cx="242.8" cy="119.8" r="1.3"/><circle cx="268.5" cy="123.8" r="1.2"/><circle cx="248.3" cy="126.3" r="0.9"/><circle cx="258.3" cy="122.0" r="1.0"/><circle cx="256.9" cy="119.3" r="1.1"/><circle cx="241.8" cy="128.0" r="1.2"/><circle cx="251.8" cy="119.4" r="1.0"/><circle cx="243.4" cy="128.0" r="1.1"/><circle cx="254.4" cy="111.2" r="1.1"/><circle cx="252.2" cy="119.9" r="1.2"/><circle cx="235.0" cy="137.0" r="0.9"/><circle cx="248.1" cy="119.9" r="0.9"/><circle cx="254.6" cy="107.8" r="1.1"/><circle cx="237.6" cy="131.1" r="1.0"/><circle cx="240.1" cy="120.3" r="0.9"/><circle cx="238.4" cy="128.2" r="1.2"/><circle cx="255.4" cy="110.1" r="1.1"/><circle cx="238.7" cy="136.8" r="0.8"/><circle cx="244.0" cy="114.8" r="1.0"/><circle cx="259.9" cy="132.4" r="1.2"/><circle cx="231.1" cy="137.8" r="1.2"/><circle cx="247.9" cy="140.5" r="1.3"/><circle cx="230.1" cy="124.0" r="0.9"/><circle cx="232.1" cy="126.9" r="1.1"/><circle cx="232.2" cy="133.3" r="1.1"/><circle cx="238.1" cy="126.5" r="1.1"/><circle cx="260.9" cy="123.5" r="0.9"/><circle cx="263.1" cy="126.3" r="0.9"/><circle cx="253.1" cy="129.6" r="1.1"/><circle cx="262.3" cy="125.4" r="1.1"/><circle cx="232.6" cy="131.5" r="1.1"/><circle cx="243.9" cy="107.3" r="1.2"/><circle cx="231.3" cy="133.5" r="1.3"/><circle cx="253.1" cy="134.0" r="1.2"/><circle cx="240.2" cy="111.2" r="1.2"/><circle cx="254.3" cy="113.8" r="1.3"/><circle cx="261.1" cy="122.9" r="1.3"/><circle cx="242.9" cy="107.5" r="0.9"/></g>
  <path d="M4 106 Q20 108 34 124 T62 150" stroke="#1f2a22" stroke-width="9" stroke-linecap="round" fill="none"/>
  <ellipse cx="20" cy="114" rx="16" ry="9" transform="rotate(35 20 114)" fill="#2a3a2e"/>
  <path d="M8 108 Q22 112 34 126 T60 148" stroke="#e4e8d8" stroke-width="3.500" stroke-dasharray="2.500 2.500" fill="none"/>
  
  <ellipse cx="133" cy="84" rx="95" ry="56" fill="#241f1d" opacity=".7"/>
  <ellipse cx="133" cy="81" rx="93" ry="54" fill="#8d6d5c"/>
  <ellipse cx="133" cy="81" rx="90" ry="51.5" fill="#aab3c8"/>
  <ellipse cx="133" cy="81" rx="85" ry="48.5" fill="none" stroke="#4d5a7c" stroke-width="8" stroke-dasharray="1.600 1.900"/>
  <ellipse cx="133" cy="82" rx="78" ry="43.5" fill="#7d6f62"/>
  <ellipse cx="133" cy="82.5" rx="75" ry="41.5" fill="url(#rice)"/><g fill="#f3d984" opacity="0.85"><circle cx="163.5" cy="110.9" r="1.3"/><circle cx="99.8" cy="85.4" r="1.4"/><circle cx="151.3" cy="56.9" r="1.2"/><circle cx="133.4" cy="85.2" r="1.1"/><circle cx="116.7" cy="77.8" r="1.4"/><circle cx="136.9" cy="101.7" r="0.9"/><circle cx="194.9" cy="82.5" r="1.4"/><circle cx="123.1" cy="78.2" r="1.1"/><circle cx="108.5" cy="83.2" r="1.5"/><circle cx="113.8" cy="94.3" r="1.4"/><circle cx="182.1" cy="109.5" r="1.2"/><circle cx="93.1" cy="75.7" r="1.2"/><circle cx="138.4" cy="89.9" r="1.4"/><circle cx="139.0" cy="117.3" r="1.0"/><circle cx="199.8" cy="75.8" r="1.4"/><circle cx="137.4" cy="53.4" r="1.3"/><circle cx="168.7" cy="101.7" r="1.4"/><circle cx="153.9" cy="118.7" r="1.4"/><circle cx="96.3" cy="95.7" r="1.2"/><circle cx="78.9" cy="108.6" r="1.1"/><circle cx="154.7" cy="85.0" r="1.3"/><circle cx="183.7" cy="81.8" r="1.2"/><circle cx="73.8" cy="72.5" r="1.0"/><circle cx="91.4" cy="64.6" r="1.3"/><circle cx="145.5" cy="97.6" r="1.1"/><circle cx="171.0" cy="72.8" r="1.3"/><circle cx="124.9" cy="94.7" r="0.9"/><circle cx="157.7" cy="51.3" r="1.1"/><circle cx="108.9" cy="53.7" r="1.4"/><circle cx="177.4" cy="76.6" r="1.5"/><circle cx="186.7" cy="75.8" r="1.4"/><circle cx="88.9" cy="84.4" r="1.0"/><circle cx="153.7" cy="72.0" r="0.9"/><circle cx="154.6" cy="50.7" r="1.2"/><circle cx="141.5" cy="75.4" r="1.1"/><circle cx="121.4" cy="107.5" r="1.0"/><circle cx="170.9" cy="92.6" r="1.4"/><circle cx="194.8" cy="79.5" r="1.2"/><circle cx="132.0" cy="121.2" r="1.2"/><circle cx="131.4" cy="76.5" r="1.0"/><circle cx="166.8" cy="53.4" r="1.4"/><circle cx="95.2" cy="67.9" r="1.2"/><circle cx="156.4" cy="65.4" r="1.2"/><circle cx="122.7" cy="116.7" r="0.9"/><circle cx="105.2" cy="48.0" r="0.9"/><circle cx="85.0" cy="65.6" r="1.4"/><circle cx="101.5" cy="73.0" r="1.1"/><circle cx="199.2" cy="73.5" r="1.0"/><circle cx="151.3" cy="89.7" r="0.9"/><circle cx="107.5" cy="87.8" r="1.4"/><circle cx="118.6" cy="71.5" r="1.2"/><circle cx="110.2" cy="107.5" r="1.0"/><circle cx="148.5" cy="97.5" r="1.1"/><circle cx="119.7" cy="55.0" r="0.9"/><circle cx="116.6" cy="47.6" r="1.4"/><circle cx="134.6" cy="79.7" r="1.2"/><circle cx="191.0" cy="96.2" r="1.0"/><circle cx="124.3" cy="64.0" r="1.3"/><circle cx="127.3" cy="90.4" r="1.1"/><circle cx="108.1" cy="117.5" r="1.1"/><circle cx="79.6" cy="82.4" r="1.5"/><circle cx="178.5" cy="100.6" r="1.2"/><circle cx="126.1" cy="44.8" r="1.1"/><circle cx="116.7" cy="56.1" r="1.2"/><circle cx="192.8" cy="96.7" r="1.5"/><circle cx="108.1" cy="100.4" r="1.5"/><circle cx="148.5" cy="89.7" r="0.9"/><circle cx="157.7" cy="51.7" r="1.2"/><circle cx="125.7" cy="79.2" r="1.3"/><circle cx="84.5" cy="92.9" r="1.1"/><circle cx="105.2" cy="93.7" r="0.9"/><circle cx="100.3" cy="90.8" r="1.3"/><circle cx="158.1" cy="52.7" r="1.2"/><circle cx="136.8" cy="107.1" r="1.2"/><circle cx="85.2" cy="54.8" r="1.0"/><circle cx="82.9" cy="86.5" r="1.3"/><circle cx="182.1" cy="61.1" r="1.3"/><circle cx="136.2" cy="51.2" r="1.4"/><circle cx="114.3" cy="52.4" r="1.0"/><circle cx="171.7" cy="70.9" r="1.3"/><circle cx="165.0" cy="48.9" r="1.5"/><circle cx="173.2" cy="83.9" r="1.1"/><circle cx="111.7" cy="92.4" r="1.2"/><circle cx="167.8" cy="93.3" r="1.5"/><circle cx="130.6" cy="56.5" r="1.0"/><circle cx="191.1" cy="74.1" r="1.0"/><circle cx="103.6" cy="109.9" r="1.3"/><circle cx="128.2" cy="120.9" r="1.1"/><circle cx="131.2" cy="118.8" r="1.0"/><circle cx="119.5" cy="67.2" r="1.3"/><circle cx="125.4" cy="106.7" r="1.5"/><circle cx="86.4" cy="88.3" r="1.3"/><circle cx="127.3" cy="99.0" r="1.1"/><circle cx="128.6" cy="99.8" r="1.5"/><circle cx="196.3" cy="90.5" r="1.5"/><circle cx="130.2" cy="77.8" r="1.2"/><circle cx="187.4" cy="90.4" r="1.3"/><circle cx="133.4" cy="86.4" r="1.2"/><circle cx="166.2" cy="95.1" r="1.2"/><circle cx="167.5" cy="68.4" r="1.0"/><circle cx="149.9" cy="48.8" r="1.2"/><circle cx="162.7" cy="88.1" r="1.1"/><circle cx="100.6" cy="77.1" r="1.4"/><circle cx="171.4" cy="51.8" r="1.4"/><circle cx="187.6" cy="86.3" r="0.9"/><circle cx="183.3" cy="63.1" r="1.4"/><circle cx="139.6" cy="91.8" r="1.4"/><circle cx="88.5" cy="63.9" r="1.2"/><circle cx="146.0" cy="61.4" r="1.1"/><circle cx="109.3" cy="100.0" r="1.3"/><circle cx="147.8" cy="76.4" r="0.9"/><circle cx="73.9" cy="80.6" r="1.0"/><circle cx="130.8" cy="92.4" r="0.9"/><circle cx="73.6" cy="84.0" r="1.3"/><circle cx="145.7" cy="93.5" r="1.5"/><circle cx="88.3" cy="77.0" r="1.3"/><circle cx="125.8" cy="55.0" r="0.9"/><circle cx="148.5" cy="67.1" r="0.9"/><circle cx="101.5" cy="105.8" r="1.3"/><circle cx="160.8" cy="112.2" r="1.2"/><circle cx="167.9" cy="113.6" r="1.4"/><circle cx="182.4" cy="65.2" r="1.0"/><circle cx="144.8" cy="46.5" r="1.2"/><circle cx="192.5" cy="62.1" r="1.1"/><circle cx="198.1" cy="69.5" r="1.4"/><circle cx="175.6" cy="84.6" r="1.3"/><circle cx="84.1" cy="61.9" r="1.3"/><circle cx="169.7" cy="115.0" r="1.2"/><circle cx="157.1" cy="71.0" r="1.5"/><circle cx="73.3" cy="71.4" r="1.3"/><circle cx="165.1" cy="67.2" r="0.9"/><circle cx="107.8" cy="92.2" r="1.2"/><circle cx="150.2" cy="61.5" r="1.0"/><circle cx="179.2" cy="87.3" r="1.2"/><circle cx="190.9" cy="88.2" r="1.0"/><circle cx="187.2" cy="106.4" r="1.2"/><circle cx="173.8" cy="65.9" r="1.0"/><circle cx="135.9" cy="108.4" r="1.3"/><circle cx="141.2" cy="49.5" r="1.3"/><circle cx="132.1" cy="108.6" r="1.1"/><circle cx="96.0" cy="84.3" r="1.2"/><circle cx="119.9" cy="84.9" r="1.4"/><circle cx="77.8" cy="64.9" r="1.3"/><circle cx="124.4" cy="44.4" r="1.1"/><circle cx="129.5" cy="84.5" r="1.3"/><circle cx="85.3" cy="68.5" r="1.5"/><circle cx="144.2" cy="100.6" r="1.3"/><circle cx="152.1" cy="58.0" r="0.9"/><circle cx="88.1" cy="108.8" r="1.2"/><circle cx="89.4" cy="88.8" r="1.3"/><circle cx="84.2" cy="64.2" r="1.4"/><circle cx="133.4" cy="59.1" r="1.1"/><circle cx="145.8" cy="49.0" r="1.5"/><circle cx="154.0" cy="117.1" r="1.4"/><circle cx="168.3" cy="93.1" r="1.3"/><circle cx="172.9" cy="111.3" r="1.1"/><circle cx="116.9" cy="63.7" r="1.0"/><circle cx="146.6" cy="109.5" r="1.3"/><circle cx="145.0" cy="114.7" r="1.1"/><circle cx="107.2" cy="63.9" r="1.0"/><circle cx="143.9" cy="90.3" r="1.3"/><circle cx="111.4" cy="90.1" r="1.4"/><circle cx="127.1" cy="78.3" r="1.3"/><circle cx="93.3" cy="68.4" r="1.2"/><circle cx="175.8" cy="77.4" r="1.3"/><circle cx="104.4" cy="65.2" r="1.1"/><circle cx="134.8" cy="51.9" r="1.2"/><circle cx="99.1" cy="81.4" r="1.4"/><circle cx="190.3" cy="86.9" r="1.2"/><circle cx="142.9" cy="112.4" r="1.2"/><circle cx="176.1" cy="97.2" r="1.0"/><circle cx="145.5" cy="61.8" r="1.1"/><circle cx="136.4" cy="91.4" r="1.0"/><circle cx="165.9" cy="108.1" r="1.4"/><circle cx="137.4" cy="95.8" r="1.2"/><circle cx="167.3" cy="99.5" r="1.4"/><circle cx="150.5" cy="114.2" r="1.2"/><circle cx="163.5" cy="92.8" r="1.3"/><circle cx="159.7" cy="93.0" r="1.2"/><circle cx="154.6" cy="57.4" r="1.3"/><circle cx="172.5" cy="84.2" r="1.1"/><circle cx="169.8" cy="70.9" r="1.4"/><circle cx="182.7" cy="88.9" r="1.4"/><circle cx="140.3" cy="53.6" r="1.0"/><circle cx="151.2" cy="78.1" r="1.5"/><circle cx="143.0" cy="50.4" r="1.2"/><circle cx="154.6" cy="102.5" r="1.3"/><circle cx="108.0" cy="62.8" r="1.4"/><circle cx="169.4" cy="89.9" r="1.0"/><circle cx="104.0" cy="114.0" r="1.4"/><circle cx="156.6" cy="100.5" r="1.0"/><circle cx="107.8" cy="60.9" r="1.0"/><circle cx="85.9" cy="108.8" r="1.2"/><circle cx="112.3" cy="54.2" r="1.2"/><circle cx="92.3" cy="74.8" r="1.0"/><circle cx="93.3" cy="83.8" r="1.1"/><circle cx="159.7" cy="117.3" r="1.2"/><circle cx="136.9" cy="89.6" r="1.0"/><circle cx="161.3" cy="66.4" r="1.3"/><circle cx="140.1" cy="114.2" r="1.2"/><circle cx="128.5" cy="54.8" r="1.1"/><circle cx="122.6" cy="112.5" r="1.4"/><circle cx="115.1" cy="57.8" r="1.1"/><circle cx="184.4" cy="60.4" r="1.0"/><circle cx="105.8" cy="52.1" r="1.3"/><circle cx="198.8" cy="74.9" r="1.0"/><circle cx="174.2" cy="82.5" r="1.1"/><circle cx="162.1" cy="80.6" r="1.1"/><circle cx="106.6" cy="68.5" r="1.1"/><circle cx="148.5" cy="53.6" r="1.3"/><circle cx="149.7" cy="47.7" r="1.4"/><circle cx="164.7" cy="48.5" r="1.2"/><circle cx="117.5" cy="56.3" r="1.5"/><circle cx="106.5" cy="61.8" r="1.3"/><circle cx="125.8" cy="96.5" r="1.1"/><circle cx="136.0" cy="84.9" r="1.0"/><circle cx="72.7" cy="92.6" r="0.9"/><circle cx="117.3" cy="73.1" r="1.2"/><circle cx="119.4" cy="108.0" r="1.3"/><circle cx="94.4" cy="95.6" r="1.3"/><circle cx="164.8" cy="98.3" r="1.3"/><circle cx="169.2" cy="49.8" r="1.1"/><circle cx="104.6" cy="67.6" r="1.3"/><circle cx="148.0" cy="71.2" r="1.1"/><circle cx="172.4" cy="74.0" r="1.3"/><circle cx="148.9" cy="64.3" r="1.4"/><circle cx="175.0" cy="83.5" r="1.0"/><circle cx="114.2" cy="97.8" r="0.9"/><circle cx="142.8" cy="67.7" r="1.2"/><circle cx="70.4" cy="71.0" r="1.4"/><circle cx="111.6" cy="71.9" r="1.4"/><circle cx="189.8" cy="104.6" r="1.1"/><circle cx="132.4" cy="101.1" r="1.1"/><circle cx="150.2" cy="48.2" r="1.3"/><circle cx="128.4" cy="63.9" r="1.1"/><circle cx="117.2" cy="107.2" r="1.4"/><circle cx="153.8" cy="82.7" r="1.5"/><circle cx="175.6" cy="70.0" r="1.3"/><circle cx="139.7" cy="66.5" r="1.3"/><circle cx="200.1" cy="78.8" r="1.4"/><circle cx="185.4" cy="99.7" r="1.2"/><circle cx="157.8" cy="74.4" r="1.2"/><circle cx="179.9" cy="107.0" r="1.3"/><circle cx="172.3" cy="87.2" r="1.0"/><circle cx="95.3" cy="59.7" r="0.9"/><circle cx="200.4" cy="71.4" r="1.2"/><circle cx="94.2" cy="72.4" r="1.3"/><circle cx="94.6" cy="98.4" r="1.3"/><circle cx="148.3" cy="102.6" r="1.4"/><circle cx="136.0" cy="93.1" r="1.4"/><circle cx="157.9" cy="104.1" r="1.1"/><circle cx="129.9" cy="106.1" r="1.2"/><circle cx="172.2" cy="102.0" r="0.9"/><circle cx="161.5" cy="91.3" r="1.0"/><circle cx="111.9" cy="100.7" r="1.4"/><circle cx="105.9" cy="60.5" r="1.4"/><circle cx="117.1" cy="62.9" r="1.3"/><circle cx="131.5" cy="54.5" r="1.4"/><circle cx="86.4" cy="55.2" r="1.1"/><circle cx="99.3" cy="49.0" r="1.2"/></g><g fill="#a87522" opacity="0.65"><circle cx="159.1" cy="79.2" r="0.8"/><circle cx="163.9" cy="82.9" r="0.8"/><circle cx="108.4" cy="64.3" r="1.2"/><circle cx="141.1" cy="121.0" r="0.9"/><circle cx="77.1" cy="60.7" r="1.1"/><circle cx="186.8" cy="67.9" r="0.8"/><circle cx="173.6" cy="62.7" r="0.9"/><circle cx="157.4" cy="116.4" r="1.1"/><circle cx="191.6" cy="70.0" r="1.3"/><circle cx="78.0" cy="69.8" r="1.1"/><circle cx="129.3" cy="121.1" r="0.9"/><circle cx="146.7" cy="45.6" r="1.1"/><circle cx="174.0" cy="110.6" r="1.1"/><circle cx="139.3" cy="90.9" r="1.1"/><circle cx="200.8" cy="90.6" r="1.0"/><circle cx="87.2" cy="80.3" r="1.1"/><circle cx="167.5" cy="72.2" r="1.0"/><circle cx="98.9" cy="72.5" r="1.1"/><circle cx="87.3" cy="76.1" r="1.1"/><circle cx="112.0" cy="81.0" r="1.3"/><circle cx="103.8" cy="103.2" r="1.0"/><circle cx="196.5" cy="66.7" r="1.0"/><circle cx="114.8" cy="90.1" r="1.2"/><circle cx="158.2" cy="108.4" r="1.0"/><circle cx="112.7" cy="103.5" r="0.9"/><circle cx="184.3" cy="89.6" r="1.2"/><circle cx="113.5" cy="69.0" r="1.1"/><circle cx="176.7" cy="91.0" r="1.2"/><circle cx="176.0" cy="70.4" r="1.2"/><circle cx="80.9" cy="83.3" r="1.1"/><circle cx="195.0" cy="81.2" r="1.0"/><circle cx="124.8" cy="52.0" r="1.0"/><circle cx="146.9" cy="48.5" r="1.1"/><circle cx="142.1" cy="81.1" r="1.0"/><circle cx="105.1" cy="66.0" r="0.9"/><circle cx="116.1" cy="59.0" r="0.9"/><circle cx="201.4" cy="93.0" r="1.0"/><circle cx="157.7" cy="95.3" r="0.9"/><circle cx="153.4" cy="70.6" r="0.9"/><circle cx="173.4" cy="98.4" r="0.9"/><circle cx="98.6" cy="110.8" r="1.3"/><circle cx="140.1" cy="76.4" r="1.0"/><circle cx="140.6" cy="77.2" r="0.9"/><circle cx="88.6" cy="84.5" r="1.2"/><circle cx="123.2" cy="57.0" r="0.9"/><circle cx="137.5" cy="103.0" r="0.8"/><circle cx="118.6" cy="69.6" r="1.2"/><circle cx="122.6" cy="75.6" r="1.0"/><circle cx="121.2" cy="78.1" r="1.0"/><circle cx="194.9" cy="89.4" r="0.8"/><circle cx="84.7" cy="54.4" r="1.2"/><circle cx="138.5" cy="111.4" r="0.9"/><circle cx="96.3" cy="113.3" r="1.2"/><circle cx="177.3" cy="84.4" r="1.1"/><circle cx="162.1" cy="114.2" r="1.2"/><circle cx="91.9" cy="75.6" r="1.2"/><circle cx="101.9" cy="81.6" r="0.9"/><circle cx="168.6" cy="113.1" r="1.0"/><circle cx="111.6" cy="49.7" r="1.3"/><circle cx="149.7" cy="106.1" r="1.2"/><circle cx="136.3" cy="58.8" r="1.1"/><circle cx="142.8" cy="97.8" r="0.8"/><circle cx="107.5" cy="96.0" r="1.0"/><circle cx="160.6" cy="80.1" r="1.1"/><circle cx="169.7" cy="60.3" r="1.1"/><circle cx="134.2" cy="77.3" r="1.3"/><circle cx="107.9" cy="50.7" r="1.2"/><circle cx="148.1" cy="88.8" r="0.9"/><circle cx="63.3" cy="81.9" r="1.3"/><circle cx="84.7" cy="99.2" r="1.2"/><circle cx="97.9" cy="116.4" r="1.3"/><circle cx="123.1" cy="46.4" r="1.2"/><circle cx="109.5" cy="64.9" r="0.9"/><circle cx="134.2" cy="92.3" r="1.3"/><circle cx="129.7" cy="88.8" r="0.9"/><circle cx="171.3" cy="98.7" r="1.0"/><circle cx="155.4" cy="107.0" r="1.0"/><circle cx="93.5" cy="110.9" r="0.9"/><circle cx="67.8" cy="73.6" r="1.3"/><circle cx="122.8" cy="88.6" r="1.3"/><circle cx="99.5" cy="81.4" r="0.8"/><circle cx="135.8" cy="104.7" r="0.9"/><circle cx="201.4" cy="94.8" r="1.2"/><circle cx="170.8" cy="100.7" r="1.2"/><circle cx="114.1" cy="82.7" r="1.0"/><circle cx="82.6" cy="108.4" r="1.1"/><circle cx="77.7" cy="90.9" r="0.8"/><circle cx="107.7" cy="50.7" r="1.1"/><circle cx="108.3" cy="99.0" r="0.8"/><circle cx="157.6" cy="90.6" r="1.0"/><circle cx="138.9" cy="65.1" r="1.0"/><circle cx="95.5" cy="59.7" r="0.8"/><circle cx="181.4" cy="68.7" r="0.9"/><circle cx="137.0" cy="115.3" r="1.3"/><circle cx="109.3" cy="104.0" r="1.1"/><circle cx="153.8" cy="105.1" r="1.3"/><circle cx="71.7" cy="70.7" r="0.9"/><circle cx="176.2" cy="57.7" r="0.9"/><circle cx="74.6" cy="77.0" r="1.1"/><circle cx="104.7" cy="71.6" r="1.1"/><circle cx="93.7" cy="110.6" r="1.0"/><circle cx="187.4" cy="79.2" r="0.9"/><circle cx="110.8" cy="90.1" r="1.2"/><circle cx="186.7" cy="91.6" r="0.9"/><circle cx="137.3" cy="69.3" r="1.1"/><circle cx="125.2" cy="64.6" r="0.8"/><circle cx="92.6" cy="105.6" r="0.9"/><circle cx="180.8" cy="84.4" r="1.2"/><circle cx="171.2" cy="114.7" r="1.0"/><circle cx="145.1" cy="93.4" r="1.0"/><circle cx="103.2" cy="85.4" r="0.8"/><circle cx="96.7" cy="82.8" r="1.0"/><circle cx="75.7" cy="92.9" r="1.1"/><circle cx="137.1" cy="99.4" r="1.2"/><circle cx="157.0" cy="87.3" r="0.8"/><circle cx="157.4" cy="57.5" r="1.3"/><circle cx="103.8" cy="66.9" r="1.0"/><circle cx="129.2" cy="64.4" r="1.2"/><circle cx="120.6" cy="87.4" r="1.0"/><circle cx="107.4" cy="77.5" r="1.3"/><circle cx="179.0" cy="70.5" r="1.3"/><circle cx="113.5" cy="56.4" r="0.9"/><circle cx="199.0" cy="72.1" r="1.0"/><circle cx="118.4" cy="90.0" r="1.1"/><circle cx="160.5" cy="63.8" r="0.9"/><circle cx="84.3" cy="60.4" r="0.9"/><circle cx="121.4" cy="113.6" r="0.8"/><circle cx="149.5" cy="63.0" r="1.2"/><circle cx="104.9" cy="87.4" r="0.8"/><circle cx="160.8" cy="96.0" r="1.2"/><circle cx="148.6" cy="53.2" r="0.9"/><circle cx="101.3" cy="54.4" r="1.0"/><circle cx="176.0" cy="96.1" r="0.9"/><circle cx="149.9" cy="105.6" r="0.8"/><circle cx="163.6" cy="70.6" r="1.2"/><circle cx="132.4" cy="79.0" r="1.2"/><circle cx="152.0" cy="56.7" r="1.2"/><circle cx="121.7" cy="83.8" r="0.9"/><circle cx="108.2" cy="116.5" r="1.2"/><circle cx="164.4" cy="98.6" r="0.8"/><circle cx="138.8" cy="105.9" r="1.0"/><circle cx="167.3" cy="108.6" r="0.9"/><circle cx="171.5" cy="65.8" r="1.0"/><circle cx="137.2" cy="60.2" r="0.9"/><circle cx="161.1" cy="97.7" r="0.9"/><circle cx="129.0" cy="59.9" r="1.1"/><circle cx="130.0" cy="93.2" r="0.9"/><circle cx="79.4" cy="106.2" r="0.9"/><circle cx="139.8" cy="98.0" r="0.9"/><circle cx="200.4" cy="73.7" r="0.9"/><circle cx="180.8" cy="91.4" r="1.1"/><circle cx="168.6" cy="99.3" r="1.2"/><circle cx="194.0" cy="83.3" r="1.1"/><circle cx="144.4" cy="56.5" r="1.0"/><circle cx="106.6" cy="81.3" r="1.0"/><circle cx="135.7" cy="105.0" r="0.8"/><circle cx="142.2" cy="90.7" r="1.1"/><circle cx="137.6" cy="112.0" r="1.0"/><circle cx="135.7" cy="96.8" r="1.1"/><circle cx="106.4" cy="54.0" r="1.0"/><circle cx="123.1" cy="80.1" r="0.9"/><circle cx="146.8" cy="60.2" r="0.8"/><circle cx="75.2" cy="100.0" r="0.8"/><circle cx="171.8" cy="100.8" r="1.2"/><circle cx="105.3" cy="95.3" r="1.2"/><circle cx="165.5" cy="94.8" r="1.1"/><circle cx="172.1" cy="53.6" r="0.9"/><circle cx="128.6" cy="106.4" r="0.8"/><circle cx="124.1" cy="116.8" r="1.3"/><circle cx="130.5" cy="93.4" r="1.2"/><circle cx="195.7" cy="75.7" r="1.0"/><circle cx="130.7" cy="49.0" r="1.2"/><circle cx="61.1" cy="84.8" r="1.2"/><circle cx="137.4" cy="108.5" r="0.8"/><circle cx="87.1" cy="108.0" r="1.0"/><circle cx="70.2" cy="77.8" r="0.8"/><circle cx="102.6" cy="104.6" r="1.0"/><circle cx="105.2" cy="48.4" r="1.2"/><circle cx="75.9" cy="73.9" r="1.1"/><circle cx="188.4" cy="80.4" r="1.1"/><circle cx="96.0" cy="98.4" r="1.2"/><circle cx="85.2" cy="109.6" r="1.2"/><circle cx="191.1" cy="73.9" r="1.1"/><circle cx="126.5" cy="86.9" r="1.1"/><circle cx="133.5" cy="49.8" r="1.2"/><circle cx="191.1" cy="90.2" r="0.9"/><circle cx="81.7" cy="106.4" r="1.0"/><circle cx="117.1" cy="84.8" r="0.9"/><circle cx="141.3" cy="100.5" r="1.1"/><circle cx="153.5" cy="86.4" r="0.8"/><circle cx="125.7" cy="44.8" r="1.2"/><circle cx="107.1" cy="81.7" r="1.2"/><circle cx="146.7" cy="90.9" r="1.0"/><circle cx="159.0" cy="66.5" r="1.2"/><circle cx="98.1" cy="116.3" r="1.2"/><circle cx="180.2" cy="54.0" r="1.2"/><circle cx="150.1" cy="109.4" r="1.1"/><circle cx="127.0" cy="64.6" r="1.1"/><circle cx="126.4" cy="99.4" r="1.0"/><circle cx="150.7" cy="55.6" r="1.0"/></g>
  <circle cx="77" cy="89" r="6" fill="#d8562a"/><circle cx="116" cy="105" r="7" fill="#d55a2b"/><circle cx="196" cy="72" r="6" fill="#d86a2d"/><circle cx="170" cy="100" r="7" fill="#e9b93f"/><circle cx="95" cy="103" r="6" fill="#e8b03a"/>
  <ellipse cx="143" cy="87" rx="13" ry="9" fill="#cdb98f"/><ellipse cx="155" cy="97" rx="10" ry="7" fill="#b99a6c"/>
  <path d="M103 51 L149 41 L160 59 L135 74 L107 72 Z" fill="#6a4634"/>
  <path d="M93 66 L127 62 L131 80 L105 85 Z" fill="#7a523c"/>
  <path d="M139 56 L171 52 L166 73 L145 77 Z" fill="#87604a"/>
  <path d="M111 53 L143 47 L147 55 L115 61 Z" fill="#4e3124"/><g fill="#3d261b" opacity="0.6"><circle cx="160.8" cy="55.9" r="1.3"/><circle cx="154.3" cy="69.2" r="1.1"/><circle cx="121.7" cy="61.9" r="0.9"/><circle cx="118.9" cy="65.6" r="1.1"/><circle cx="142.3" cy="63.7" r="1.2"/><circle cx="112.8" cy="68.4" r="1.3"/><circle cx="128.1" cy="66.0" r="1.3"/><circle cx="111.0" cy="56.1" r="1.2"/><circle cx="151.9" cy="61.2" r="1.3"/><circle cx="116.6" cy="71.9" r="1.2"/><circle cx="129.3" cy="67.3" r="1.1"/><circle cx="128.1" cy="51.0" r="1.1"/><circle cx="124.5" cy="57.7" r="0.9"/><circle cx="120.1" cy="75.9" r="0.9"/><circle cx="140.6" cy="66.3" r="0.9"/><circle cx="129.1" cy="75.0" r="1.3"/><circle cx="123.5" cy="71.5" r="1.0"/><circle cx="123.5" cy="76.3" r="1.1"/><circle cx="132.4" cy="68.2" r="1.3"/><circle cx="125.3" cy="49.0" r="1.0"/><circle cx="103.6" cy="58.7" r="1.2"/><circle cx="145.3" cy="60.8" r="1.4"/><circle cx="152.4" cy="66.6" r="0.9"/><circle cx="142.7" cy="50.7" r="1.4"/><circle cx="143.6" cy="48.3" r="1.1"/><circle cx="160.6" cy="62.0" r="1.0"/><circle cx="152.4" cy="61.4" r="0.9"/><circle cx="152.4" cy="68.0" r="1.0"/><circle cx="161.5" cy="56.7" r="1.0"/><circle cx="151.5" cy="70.0" r="0.9"/><circle cx="105.2" cy="59.1" r="1.0"/><circle cx="106.2" cy="70.2" r="1.1"/><circle cx="116.4" cy="75.6" r="1.3"/><circle cx="154.0" cy="54.9" r="1.1"/><circle cx="122.8" cy="49.3" r="1.2"/><circle cx="134.3" cy="71.7" r="1.1"/><circle cx="136.2" cy="51.2" r="1.1"/><circle cx="137.9" cy="58.3" r="1.2"/><circle cx="121.1" cy="73.4" r="1.3"/><circle cx="133.3" cy="78.6" r="0.9"/><circle cx="111.2" cy="58.5" r="1.0"/><circle cx="112.6" cy="58.9" r="1.1"/><circle cx="132.6" cy="62.0" r="1.1"/><circle cx="135.7" cy="57.1" r="1.3"/><circle cx="140.6" cy="75.6" r="0.9"/><circle cx="113.2" cy="66.3" r="0.9"/><circle cx="126.1" cy="52.5" r="1.2"/><circle cx="109.9" cy="60.1" r="1.1"/><circle cx="124.0" cy="77.5" r="0.9"/><circle cx="154.2" cy="52.6" r="1.1"/><circle cx="137.4" cy="50.1" r="1.2"/><circle cx="128.3" cy="71.7" r="1.0"/><circle cx="122.9" cy="77.8" r="1.0"/><circle cx="117.2" cy="69.7" r="1.3"/><circle cx="109.4" cy="64.7" r="1.0"/><circle cx="131.3" cy="67.7" r="1.0"/><circle cx="130.4" cy="77.7" r="1.1"/><circle cx="149.7" cy="70.0" r="0.9"/><circle cx="113.5" cy="58.7" r="1.3"/><circle cx="131.3" cy="77.7" r="1.0"/></g><g fill="#a98468" opacity="0.6"><circle cx="126.1" cy="48.7" r="0.8"/><circle cx="147.1" cy="62.9" r="1.0"/><circle cx="156.4" cy="70.6" r="0.8"/><circle cx="125.7" cy="49.9" r="1.1"/><circle cx="105.2" cy="68.4" r="1.2"/><circle cx="150.2" cy="70.6" r="1.2"/><circle cx="131.5" cy="52.4" r="0.9"/><circle cx="141.9" cy="61.6" r="1.1"/><circle cx="140.0" cy="57.7" r="0.9"/><circle cx="125.0" cy="74.1" r="0.9"/><circle cx="157.2" cy="53.5" r="0.9"/><circle cx="139.7" cy="60.4" r="0.8"/><circle cx="118.5" cy="50.7" r="1.1"/><circle cx="162.6" cy="62.3" r="0.8"/><circle cx="131.6" cy="47.6" r="0.8"/><circle cx="120.4" cy="63.2" r="0.8"/><circle cx="107.0" cy="64.7" r="1.2"/><circle cx="148.4" cy="71.4" r="1.2"/><circle cx="135.2" cy="51.4" r="0.8"/><circle cx="121.9" cy="57.0" r="1.0"/><circle cx="121.1" cy="55.0" r="1.1"/><circle cx="115.0" cy="69.2" r="1.1"/><circle cx="133.0" cy="69.9" r="1.0"/><circle cx="105.6" cy="69.0" r="0.8"/><circle cx="127.7" cy="65.8" r="0.9"/><circle cx="124.8" cy="72.9" r="1.1"/><circle cx="163.9" cy="66.7" r="1.1"/><circle cx="141.8" cy="52.1" r="1.0"/><circle cx="116.0" cy="68.4" r="0.8"/><circle cx="127.3" cy="71.2" r="0.9"/><circle cx="156.9" cy="55.1" r="1.0"/><circle cx="149.3" cy="63.9" r="1.0"/><circle cx="125.6" cy="53.3" r="1.0"/><circle cx="146.7" cy="58.4" r="0.9"/><circle cx="134.2" cy="54.0" r="1.1"/><circle cx="129.4" cy="64.3" r="0.9"/><circle cx="158.8" cy="68.9" r="1.1"/><circle cx="103.2" cy="60.2" r="0.8"/><circle cx="120.4" cy="65.2" r="0.7"/><circle cx="136.3" cy="59.7" r="1.2"/></g>
 </g>
</symbol>

<symbol id="ph3" viewBox="0 0 275 152" preserveAspectRatio="xMidYMid slice">
 <rect width="275" height="152" fill="url(#bg2)"/>
 <g filter="url(#soft)">
  <ellipse cx="75" cy="11" rx="33" ry="19" fill="#c77a4e"/><ellipse cx="75" cy="5" rx="27" ry="11" fill="#d9602c"/>
  <circle cx="30" cy="40" r="13" fill="#8d5e4a"/>
  <ellipse cx="170" cy="6" rx="24" ry="10" fill="#5b5147"/>
  <circle cx="258" cy="66" r="27" fill="#9a6848"/><circle cx="258" cy="62" r="22" fill="#c08a63"/>
  <rect x="246" y="44" width="29" height="32" rx="6" fill="#ecd09a"/><rect x="250" y="48" width="25" height="16" rx="4" fill="#f6e6be"/>
  <circle cx="246" cy="129" r="32" fill="#31502e"/><circle cx="247" cy="127" r="27" fill="#6a322a"/><g fill="#8a4a3c" opacity="0.8"><circle cx="231.3" cy="130.4" r="1.7"/><circle cx="231.7" cy="129.1" r="1.5"/><circle cx="253.3" cy="139.1" r="1.5"/><circle cx="248.8" cy="120.1" r="1.3"/><circle cx="263.7" cy="135.7" r="1.6"/><circle cx="268.1" cy="131.2" r="1.8"/><circle cx="237.2" cy="113.1" r="1.2"/><circle cx="262.9" cy="127.4" r="1.1"/><circle cx="251.0" cy="135.2" r="1.1"/><circle cx="232.8" cy="129.0" r="1.7"/><circle cx="229.5" cy="124.1" r="1.4"/><circle cx="239.2" cy="114.5" r="1.3"/><circle cx="269.0" cy="125.7" r="1.7"/><circle cx="243.8" cy="115.2" r="1.2"/><circle cx="245.6" cy="131.1" r="1.6"/><circle cx="230.6" cy="136.8" r="1.4"/><circle cx="266.6" cy="121.2" r="1.1"/><circle cx="252.3" cy="144.5" r="1.4"/><circle cx="260.8" cy="124.4" r="1.1"/><circle cx="233.7" cy="113.2" r="1.3"/><circle cx="257.8" cy="132.0" r="1.8"/><circle cx="247.4" cy="119.1" r="1.3"/><circle cx="251.3" cy="128.9" r="1.7"/><circle cx="254.2" cy="139.4" r="1.4"/><circle cx="253.9" cy="141.9" r="1.2"/><circle cx="242.3" cy="120.6" r="1.4"/><circle cx="249.6" cy="136.1" r="1.8"/><circle cx="251.0" cy="115.6" r="1.7"/><circle cx="250.4" cy="138.2" r="1.7"/><circle cx="242.6" cy="121.1" r="1.8"/><circle cx="249.6" cy="135.9" r="1.6"/><circle cx="241.3" cy="135.6" r="1.1"/><circle cx="261.2" cy="134.2" r="1.3"/><circle cx="236.2" cy="118.8" r="1.4"/><circle cx="261.8" cy="122.5" r="1.5"/><circle cx="253.3" cy="119.6" r="1.2"/><circle cx="263.7" cy="116.2" r="1.3"/><circle cx="254.0" cy="142.0" r="1.8"/><circle cx="254.1" cy="144.4" r="1.7"/><circle cx="235.6" cy="118.1" r="1.2"/></g><g fill="#efe6df" opacity="0.85"><circle cx="234.0" cy="120.3" r="1.2"/><circle cx="252.4" cy="143.4" r="1.3"/><circle cx="242.0" cy="119.4" r="1.1"/><circle cx="241.8" cy="134.8" r="1.4"/><circle cx="251.6" cy="125.9" r="1.3"/><circle cx="236.2" cy="118.5" r="1.0"/><circle cx="240.2" cy="114.0" r="1.2"/><circle cx="242.8" cy="119.8" r="1.3"/><circle cx="268.5" cy="123.8" r="1.2"/><circle cx="248.3" cy="126.3" r="0.9"/><circle cx="258.3" cy="122.0" r="1.0"/><circle cx="256.9" cy="119.3" r="1.1"/><circle cx="241.8" cy="128.0" r="1.2"/><circle cx="251.8" cy="119.4" r="1.0"/><circle cx="243.4" cy="128.0" r="1.1"/><circle cx="254.4" cy="111.2" r="1.1"/><circle cx="252.2" cy="119.9" r="1.2"/><circle cx="235.0" cy="137.0" r="0.9"/><circle cx="248.1" cy="119.9" r="0.9"/><circle cx="254.6" cy="107.8" r="1.1"/><circle cx="237.6" cy="131.1" r="1.0"/><circle cx="240.1" cy="120.3" r="0.9"/><circle cx="238.4" cy="128.2" r="1.2"/><circle cx="255.4" cy="110.1" r="1.1"/><circle cx="238.7" cy="136.8" r="0.8"/><circle cx="244.0" cy="114.8" r="1.0"/><circle cx="259.9" cy="132.4" r="1.2"/><circle cx="231.1" cy="137.8" r="1.2"/><circle cx="247.9" cy="140.5" r="1.3"/><circle cx="230.1" cy="124.0" r="0.9"/><circle cx="232.1" cy="126.9" r="1.1"/><circle cx="232.2" cy="133.3" r="1.1"/><circle cx="238.1" cy="126.5" r="1.1"/><circle cx="260.9" cy="123.5" r="0.9"/><circle cx="263.1" cy="126.3" r="0.9"/><circle cx="253.1" cy="129.6" r="1.1"/><circle cx="262.3" cy="125.4" r="1.1"/><circle cx="232.6" cy="131.5" r="1.1"/><circle cx="243.9" cy="107.3" r="1.2"/><circle cx="231.3" cy="133.5" r="1.3"/><circle cx="253.1" cy="134.0" r="1.2"/><circle cx="240.2" cy="111.2" r="1.2"/><circle cx="254.3" cy="113.8" r="1.3"/><circle cx="261.1" cy="122.9" r="1.3"/><circle cx="242.9" cy="107.5" r="0.9"/></g>
  <path d="M24 110 Q40 118 50 132 T72 152" stroke="#3c5a3a" stroke-width="9" stroke-linecap="round" fill="none"/>
  <path d="M24 110 Q40 118 50 132 T72 152" stroke="#e4e8d8" stroke-width="3.500" stroke-dasharray="2.500 2.500" fill="none"/>
  
  <ellipse cx="134" cy="84" rx="94" ry="57" fill="#241f1d" opacity=".7"/>
  <ellipse cx="134" cy="81" rx="92" ry="55" fill="#8d6d5c"/>
  <ellipse cx="134" cy="81" rx="89" ry="52.5" fill="#aab3c8"/>
  <ellipse cx="134" cy="81" rx="84" ry="49.5" fill="none" stroke="#4d5a7c" stroke-width="8" stroke-dasharray="1.600 1.900"/>
  <ellipse cx="134" cy="82" rx="77" ry="44.5" fill="#7d6f62"/>
  <ellipse cx="134" cy="82.5" rx="74" ry="42.5" fill="url(#rice)"/><g fill="#f3d984" opacity="0.85"><circle cx="157.7" cy="84.0" r="1.1"/><circle cx="123.3" cy="69.4" r="1.0"/><circle cx="141.1" cy="117.6" r="1.0"/><circle cx="130.6" cy="50.5" r="1.0"/><circle cx="87.7" cy="77.1" r="1.1"/><circle cx="155.7" cy="82.7" r="0.9"/><circle cx="175.9" cy="73.6" r="1.0"/><circle cx="113.3" cy="104.2" r="1.5"/><circle cx="142.2" cy="101.1" r="1.3"/><circle cx="67.7" cy="71.5" r="1.4"/><circle cx="114.3" cy="97.2" r="1.4"/><circle cx="146.3" cy="82.5" r="1.3"/><circle cx="172.8" cy="59.2" r="1.0"/><circle cx="151.5" cy="50.3" r="1.0"/><circle cx="113.0" cy="68.5" r="0.9"/><circle cx="112.9" cy="102.8" r="1.1"/><circle cx="94.8" cy="53.9" r="1.5"/><circle cx="204.0" cy="77.1" r="1.4"/><circle cx="123.7" cy="98.8" r="1.3"/><circle cx="78.1" cy="73.7" r="1.0"/><circle cx="158.0" cy="118.9" r="1.3"/><circle cx="126.6" cy="71.4" r="1.1"/><circle cx="182.3" cy="65.7" r="1.5"/><circle cx="149.7" cy="108.5" r="1.4"/><circle cx="74.7" cy="95.1" r="1.2"/><circle cx="150.5" cy="91.5" r="1.5"/><circle cx="156.9" cy="95.0" r="1.1"/><circle cx="119.1" cy="47.0" r="1.2"/><circle cx="71.0" cy="83.4" r="1.1"/><circle cx="95.3" cy="105.5" r="1.3"/><circle cx="157.1" cy="86.2" r="1.0"/><circle cx="124.8" cy="50.1" r="1.5"/><circle cx="137.9" cy="62.9" r="1.4"/><circle cx="175.7" cy="80.8" r="0.9"/><circle cx="107.3" cy="98.0" r="1.0"/><circle cx="158.1" cy="87.0" r="1.4"/><circle cx="186.9" cy="92.7" r="1.0"/><circle cx="156.4" cy="117.0" r="1.1"/><circle cx="153.3" cy="107.7" r="1.3"/><circle cx="68.9" cy="77.3" r="1.1"/><circle cx="74.6" cy="77.9" r="1.2"/><circle cx="124.0" cy="56.3" r="1.0"/><circle cx="178.9" cy="107.8" r="1.3"/><circle cx="189.2" cy="71.3" r="1.2"/><circle cx="167.0" cy="114.9" r="1.0"/><circle cx="110.3" cy="89.8" r="1.1"/><circle cx="117.7" cy="107.4" r="1.3"/><circle cx="100.2" cy="77.9" r="1.4"/><circle cx="128.0" cy="46.8" r="0.9"/><circle cx="83.5" cy="58.0" r="1.1"/><circle cx="153.0" cy="117.5" r="1.1"/><circle cx="81.8" cy="104.0" r="1.1"/><circle cx="144.5" cy="100.6" r="1.1"/><circle cx="120.1" cy="60.0" r="1.4"/><circle cx="166.4" cy="91.0" r="1.3"/><circle cx="84.2" cy="86.6" r="1.5"/><circle cx="128.8" cy="99.8" r="0.9"/><circle cx="95.5" cy="85.4" r="1.2"/><circle cx="135.0" cy="83.0" r="1.1"/><circle cx="135.9" cy="61.1" r="1.4"/><circle cx="94.4" cy="70.8" r="1.4"/><circle cx="139.8" cy="113.9" r="1.4"/><circle cx="95.2" cy="77.2" r="1.0"/><circle cx="106.5" cy="75.2" r="1.1"/><circle cx="67.6" cy="72.8" r="1.3"/><circle cx="68.7" cy="78.5" r="1.1"/><circle cx="89.5" cy="104.4" r="1.2"/><circle cx="142.1" cy="108.2" r="1.4"/><circle cx="136.9" cy="116.6" r="0.9"/><circle cx="190.4" cy="73.7" r="1.1"/><circle cx="197.0" cy="79.2" r="0.9"/><circle cx="134.5" cy="111.0" r="1.5"/><circle cx="143.8" cy="89.8" r="1.1"/><circle cx="177.6" cy="90.1" r="1.2"/><circle cx="109.2" cy="88.5" r="0.9"/><circle cx="149.4" cy="57.9" r="1.2"/><circle cx="75.8" cy="87.6" r="1.4"/><circle cx="162.2" cy="52.8" r="1.1"/><circle cx="144.4" cy="93.5" r="1.4"/><circle cx="184.2" cy="93.6" r="1.4"/><circle cx="114.6" cy="105.4" r="1.2"/><circle cx="189.2" cy="71.7" r="1.4"/><circle cx="192.9" cy="91.3" r="1.2"/><circle cx="81.7" cy="104.0" r="1.3"/><circle cx="185.6" cy="64.7" r="1.4"/><circle cx="86.4" cy="96.0" r="1.4"/><circle cx="108.8" cy="87.3" r="1.3"/><circle cx="179.7" cy="56.0" r="1.0"/><circle cx="109.1" cy="96.0" r="1.1"/><circle cx="178.6" cy="76.5" r="1.1"/><circle cx="127.3" cy="109.3" r="1.3"/><circle cx="117.2" cy="97.4" r="1.0"/><circle cx="129.8" cy="121.0" r="1.0"/><circle cx="134.6" cy="69.8" r="1.4"/><circle cx="127.7" cy="118.1" r="1.2"/><circle cx="153.2" cy="88.8" r="1.4"/><circle cx="86.2" cy="75.7" r="1.1"/><circle cx="116.2" cy="57.1" r="0.9"/><circle cx="102.0" cy="69.7" r="1.4"/><circle cx="74.5" cy="72.3" r="1.0"/><circle cx="119.2" cy="52.9" r="1.4"/><circle cx="173.4" cy="63.2" r="1.3"/><circle cx="137.9" cy="62.6" r="1.2"/><circle cx="146.6" cy="53.0" r="1.2"/><circle cx="177.3" cy="51.9" r="1.1"/><circle cx="183.6" cy="97.2" r="1.0"/><circle cx="182.0" cy="77.8" r="1.2"/><circle cx="161.2" cy="49.0" r="1.0"/><circle cx="105.1" cy="87.9" r="1.2"/><circle cx="178.5" cy="110.8" r="1.1"/><circle cx="82.4" cy="107.3" r="1.4"/><circle cx="108.2" cy="107.3" r="1.3"/><circle cx="144.0" cy="96.6" r="1.4"/><circle cx="165.3" cy="111.6" r="1.3"/><circle cx="99.0" cy="70.2" r="1.4"/><circle cx="138.3" cy="72.6" r="1.4"/><circle cx="109.0" cy="66.7" r="1.0"/><circle cx="186.2" cy="103.8" r="1.4"/><circle cx="116.6" cy="96.9" r="0.9"/><circle cx="100.8" cy="94.2" r="0.9"/><circle cx="115.0" cy="117.6" r="0.9"/><circle cx="92.1" cy="99.3" r="1.0"/><circle cx="152.8" cy="85.5" r="1.0"/><circle cx="199.1" cy="77.1" r="1.3"/><circle cx="166.7" cy="69.5" r="1.0"/><circle cx="171.8" cy="60.3" r="1.5"/><circle cx="105.1" cy="102.9" r="1.3"/><circle cx="155.4" cy="72.0" r="1.1"/><circle cx="186.9" cy="85.6" r="1.5"/><circle cx="109.1" cy="76.6" r="1.3"/><circle cx="120.4" cy="72.5" r="1.4"/><circle cx="107.3" cy="59.3" r="1.1"/><circle cx="159.9" cy="106.1" r="1.1"/><circle cx="140.1" cy="115.0" r="1.3"/><circle cx="201.0" cy="71.9" r="1.2"/><circle cx="124.8" cy="59.1" r="1.2"/><circle cx="69.8" cy="66.8" r="0.9"/><circle cx="93.9" cy="88.3" r="1.4"/><circle cx="180.4" cy="74.6" r="0.9"/><circle cx="88.9" cy="65.9" r="1.3"/><circle cx="142.0" cy="56.2" r="1.2"/><circle cx="135.3" cy="76.4" r="1.0"/><circle cx="107.2" cy="46.4" r="1.5"/><circle cx="120.1" cy="121.7" r="1.1"/><circle cx="106.9" cy="87.7" r="1.3"/><circle cx="88.3" cy="103.8" r="1.5"/><circle cx="174.0" cy="106.3" r="1.3"/><circle cx="132.0" cy="90.4" r="1.5"/><circle cx="115.0" cy="53.2" r="1.0"/><circle cx="170.3" cy="68.1" r="1.2"/><circle cx="89.5" cy="73.7" r="1.5"/><circle cx="76.8" cy="89.7" r="1.4"/><circle cx="160.7" cy="76.2" r="1.1"/><circle cx="186.6" cy="73.4" r="1.1"/><circle cx="152.0" cy="73.7" r="1.1"/><circle cx="186.7" cy="96.8" r="1.2"/><circle cx="118.2" cy="108.0" r="1.1"/><circle cx="118.3" cy="49.3" r="1.1"/><circle cx="144.2" cy="76.8" r="1.2"/><circle cx="147.9" cy="94.3" r="1.2"/><circle cx="150.5" cy="88.7" r="1.0"/><circle cx="87.8" cy="108.5" r="1.1"/><circle cx="178.7" cy="107.4" r="1.4"/><circle cx="149.7" cy="82.8" r="1.0"/><circle cx="69.4" cy="99.1" r="1.2"/><circle cx="159.0" cy="70.3" r="1.2"/><circle cx="120.9" cy="65.4" r="1.2"/><circle cx="163.1" cy="50.8" r="1.3"/><circle cx="167.7" cy="47.9" r="1.3"/><circle cx="134.2" cy="101.8" r="0.9"/><circle cx="180.8" cy="68.2" r="1.3"/><circle cx="175.1" cy="59.2" r="1.1"/><circle cx="116.5" cy="77.1" r="1.1"/><circle cx="98.9" cy="112.7" r="1.3"/><circle cx="98.5" cy="67.7" r="1.1"/><circle cx="122.1" cy="88.9" r="1.1"/><circle cx="188.0" cy="63.5" r="1.0"/><circle cx="72.7" cy="83.3" r="1.0"/><circle cx="100.4" cy="107.1" r="1.0"/><circle cx="142.2" cy="80.0" r="1.4"/><circle cx="112.2" cy="61.0" r="1.1"/><circle cx="174.5" cy="58.2" r="1.0"/><circle cx="125.1" cy="94.1" r="1.3"/><circle cx="98.5" cy="93.4" r="1.3"/><circle cx="133.3" cy="98.1" r="1.4"/><circle cx="182.3" cy="59.5" r="1.2"/><circle cx="120.5" cy="46.6" r="0.9"/><circle cx="121.1" cy="105.7" r="1.3"/><circle cx="102.1" cy="113.0" r="1.1"/><circle cx="178.2" cy="74.3" r="1.3"/><circle cx="89.5" cy="56.8" r="1.2"/><circle cx="145.3" cy="108.8" r="1.2"/><circle cx="192.1" cy="99.0" r="1.1"/><circle cx="172.0" cy="71.3" r="1.5"/><circle cx="126.2" cy="58.3" r="1.3"/><circle cx="154.7" cy="83.0" r="1.2"/><circle cx="118.0" cy="106.9" r="1.3"/><circle cx="79.2" cy="88.2" r="1.3"/><circle cx="145.8" cy="71.8" r="1.4"/><circle cx="132.5" cy="64.0" r="1.0"/><circle cx="141.4" cy="94.2" r="1.2"/><circle cx="183.5" cy="82.2" r="1.1"/><circle cx="167.6" cy="117.6" r="1.2"/><circle cx="139.0" cy="121.1" r="1.2"/><circle cx="184.5" cy="80.3" r="1.1"/><circle cx="137.5" cy="87.7" r="1.4"/><circle cx="105.6" cy="113.2" r="1.4"/><circle cx="92.5" cy="99.5" r="1.3"/><circle cx="107.3" cy="64.2" r="1.0"/><circle cx="131.8" cy="88.6" r="1.3"/><circle cx="94.4" cy="55.8" r="1.2"/><circle cx="127.9" cy="53.3" r="1.4"/><circle cx="78.7" cy="72.8" r="1.3"/><circle cx="139.7" cy="93.6" r="1.4"/><circle cx="116.0" cy="56.3" r="1.4"/><circle cx="159.1" cy="114.2" r="1.2"/><circle cx="154.1" cy="91.8" r="0.9"/><circle cx="157.3" cy="115.7" r="1.2"/><circle cx="181.7" cy="91.2" r="1.5"/><circle cx="143.0" cy="61.7" r="1.2"/><circle cx="111.1" cy="97.3" r="1.3"/><circle cx="182.3" cy="87.0" r="1.5"/><circle cx="136.3" cy="50.6" r="1.4"/><circle cx="169.3" cy="76.8" r="1.5"/><circle cx="173.2" cy="65.6" r="1.0"/><circle cx="85.0" cy="77.2" r="1.5"/><circle cx="135.6" cy="116.9" r="1.4"/><circle cx="103.5" cy="70.3" r="1.4"/><circle cx="131.9" cy="120.0" r="1.4"/><circle cx="118.1" cy="81.2" r="1.1"/><circle cx="162.0" cy="90.0" r="1.1"/><circle cx="77.1" cy="66.9" r="0.9"/><circle cx="133.2" cy="69.7" r="1.3"/><circle cx="176.3" cy="84.6" r="1.5"/><circle cx="145.5" cy="76.5" r="1.1"/><circle cx="159.6" cy="74.4" r="1.2"/><circle cx="131.2" cy="104.7" r="1.2"/><circle cx="151.9" cy="95.0" r="1.5"/><circle cx="138.3" cy="52.2" r="1.0"/><circle cx="171.6" cy="106.4" r="1.3"/><circle cx="203.6" cy="85.5" r="1.1"/><circle cx="127.3" cy="114.7" r="1.4"/><circle cx="104.3" cy="106.2" r="0.9"/><circle cx="68.2" cy="90.8" r="1.5"/><circle cx="95.3" cy="113.0" r="1.5"/><circle cx="112.5" cy="118.0" r="1.1"/><circle cx="199.7" cy="74.7" r="1.5"/><circle cx="84.8" cy="101.1" r="1.3"/><circle cx="120.0" cy="78.5" r="1.3"/><circle cx="152.6" cy="52.7" r="1.4"/><circle cx="189.3" cy="75.7" r="1.1"/><circle cx="103.8" cy="82.2" r="1.0"/><circle cx="180.8" cy="79.5" r="1.2"/><circle cx="182.2" cy="59.8" r="0.9"/><circle cx="89.9" cy="98.3" r="1.0"/><circle cx="139.2" cy="51.7" r="1.4"/><circle cx="154.4" cy="96.0" r="1.1"/><circle cx="98.4" cy="80.8" r="1.2"/><circle cx="123.9" cy="91.2" r="1.4"/><circle cx="68.9" cy="73.2" r="1.2"/></g><g fill="#a87522" opacity="0.65"><circle cx="163.0" cy="91.6" r="0.9"/><circle cx="174.5" cy="66.5" r="1.2"/><circle cx="174.9" cy="99.8" r="1.2"/><circle cx="65.7" cy="77.4" r="1.2"/><circle cx="132.7" cy="83.8" r="1.2"/><circle cx="138.8" cy="85.8" r="1.2"/><circle cx="169.8" cy="52.5" r="1.3"/><circle cx="140.1" cy="93.9" r="0.8"/><circle cx="157.5" cy="81.1" r="0.9"/><circle cx="149.6" cy="84.1" r="0.8"/><circle cx="116.7" cy="95.9" r="0.9"/><circle cx="160.2" cy="75.9" r="1.2"/><circle cx="130.1" cy="52.9" r="1.1"/><circle cx="140.9" cy="52.6" r="0.9"/><circle cx="117.2" cy="100.3" r="1.0"/><circle cx="180.2" cy="80.9" r="0.8"/><circle cx="70.7" cy="88.2" r="1.0"/><circle cx="127.7" cy="71.5" r="0.8"/><circle cx="125.8" cy="75.5" r="0.9"/><circle cx="110.6" cy="94.7" r="0.8"/><circle cx="203.2" cy="84.7" r="1.1"/><circle cx="181.5" cy="74.6" r="1.3"/><circle cx="170.3" cy="59.1" r="1.1"/><circle cx="100.3" cy="82.0" r="1.0"/><circle cx="128.7" cy="65.6" r="1.2"/><circle cx="78.9" cy="81.1" r="1.2"/><circle cx="118.0" cy="71.2" r="0.9"/><circle cx="145.7" cy="83.0" r="1.3"/><circle cx="75.7" cy="61.3" r="1.2"/><circle cx="105.9" cy="119.0" r="1.3"/><circle cx="114.3" cy="86.1" r="0.9"/><circle cx="155.6" cy="103.9" r="0.8"/><circle cx="117.9" cy="44.5" r="0.9"/><circle cx="144.2" cy="53.0" r="1.0"/><circle cx="170.4" cy="69.5" r="1.2"/><circle cx="202.1" cy="91.5" r="0.9"/><circle cx="200.6" cy="83.9" r="1.2"/><circle cx="105.7" cy="51.8" r="1.0"/><circle cx="164.1" cy="97.9" r="1.3"/><circle cx="167.8" cy="80.8" r="1.0"/><circle cx="69.7" cy="94.6" r="0.8"/><circle cx="151.1" cy="65.3" r="1.1"/><circle cx="148.2" cy="91.4" r="1.2"/><circle cx="64.0" cy="82.3" r="1.2"/><circle cx="134.3" cy="72.1" r="1.1"/><circle cx="184.3" cy="81.6" r="0.8"/><circle cx="162.1" cy="119.5" r="1.3"/><circle cx="134.7" cy="105.6" r="1.2"/><circle cx="103.5" cy="82.2" r="1.3"/><circle cx="102.9" cy="66.4" r="0.8"/><circle cx="72.6" cy="80.7" r="0.9"/><circle cx="185.6" cy="100.7" r="1.3"/><circle cx="99.1" cy="102.2" r="1.1"/><circle cx="108.8" cy="81.2" r="0.9"/><circle cx="142.6" cy="100.1" r="0.8"/><circle cx="108.2" cy="94.8" r="1.2"/><circle cx="103.5" cy="118.3" r="1.2"/><circle cx="130.6" cy="98.6" r="1.1"/><circle cx="82.8" cy="87.8" r="0.8"/><circle cx="73.3" cy="76.2" r="1.0"/><circle cx="131.8" cy="121.4" r="0.9"/><circle cx="192.9" cy="82.0" r="0.8"/><circle cx="108.1" cy="88.0" r="1.2"/><circle cx="115.7" cy="88.6" r="1.3"/><circle cx="150.9" cy="53.3" r="1.1"/><circle cx="196.8" cy="100.8" r="0.9"/><circle cx="84.9" cy="78.8" r="1.0"/><circle cx="200.7" cy="87.3" r="1.0"/><circle cx="82.4" cy="106.0" r="1.2"/><circle cx="120.9" cy="45.6" r="1.0"/><circle cx="167.1" cy="97.4" r="1.1"/><circle cx="148.0" cy="49.6" r="1.1"/><circle cx="87.3" cy="63.7" r="1.1"/><circle cx="186.3" cy="85.8" r="0.9"/><circle cx="183.9" cy="96.7" r="1.2"/><circle cx="122.2" cy="115.1" r="1.1"/><circle cx="106.3" cy="49.1" r="1.1"/><circle cx="183.0" cy="98.1" r="1.0"/><circle cx="83.5" cy="99.4" r="0.9"/><circle cx="86.0" cy="55.3" r="0.8"/><circle cx="169.6" cy="56.0" r="1.0"/><circle cx="136.0" cy="71.8" r="0.9"/><circle cx="190.0" cy="82.5" r="0.9"/><circle cx="166.6" cy="102.4" r="1.1"/><circle cx="164.6" cy="81.9" r="1.1"/><circle cx="84.7" cy="93.9" r="1.3"/><circle cx="181.8" cy="107.7" r="1.2"/><circle cx="131.3" cy="96.8" r="1.2"/><circle cx="159.2" cy="64.3" r="0.9"/><circle cx="79.3" cy="71.9" r="1.0"/><circle cx="114.8" cy="89.8" r="0.9"/><circle cx="144.7" cy="117.3" r="0.8"/><circle cx="149.5" cy="108.8" r="0.9"/><circle cx="137.9" cy="117.3" r="0.9"/><circle cx="114.9" cy="78.6" r="1.0"/><circle cx="118.8" cy="57.6" r="0.9"/><circle cx="170.6" cy="87.0" r="1.0"/><circle cx="171.4" cy="98.5" r="1.0"/><circle cx="187.2" cy="95.8" r="1.3"/><circle cx="120.0" cy="57.4" r="1.2"/><circle cx="199.1" cy="69.8" r="1.3"/><circle cx="140.8" cy="44.3" r="1.2"/><circle cx="122.2" cy="96.1" r="1.0"/><circle cx="123.3" cy="63.2" r="1.0"/><circle cx="146.5" cy="87.0" r="0.9"/><circle cx="144.1" cy="75.0" r="0.9"/><circle cx="77.6" cy="106.2" r="0.9"/><circle cx="149.1" cy="85.4" r="1.0"/><circle cx="192.1" cy="84.1" r="0.8"/><circle cx="141.2" cy="93.3" r="0.9"/><circle cx="158.5" cy="91.5" r="0.9"/><circle cx="139.9" cy="114.7" r="1.0"/><circle cx="136.1" cy="87.2" r="1.2"/><circle cx="175.9" cy="52.0" r="1.1"/><circle cx="96.9" cy="92.4" r="0.9"/><circle cx="91.3" cy="92.5" r="1.3"/><circle cx="152.3" cy="114.8" r="1.2"/><circle cx="103.7" cy="56.7" r="0.8"/><circle cx="164.8" cy="106.0" r="1.1"/><circle cx="195.2" cy="74.7" r="0.9"/><circle cx="171.3" cy="111.2" r="0.8"/><circle cx="151.8" cy="76.8" r="1.1"/><circle cx="145.6" cy="73.4" r="0.8"/><circle cx="93.2" cy="58.0" r="0.8"/><circle cx="72.0" cy="90.0" r="1.2"/><circle cx="129.0" cy="85.2" r="1.1"/><circle cx="89.1" cy="77.1" r="1.1"/><circle cx="91.5" cy="69.0" r="1.1"/><circle cx="76.2" cy="69.7" r="1.2"/><circle cx="196.3" cy="87.8" r="0.9"/><circle cx="104.8" cy="91.8" r="0.9"/><circle cx="95.6" cy="99.1" r="0.8"/><circle cx="120.9" cy="109.0" r="1.0"/><circle cx="115.7" cy="81.0" r="1.1"/><circle cx="184.5" cy="63.7" r="1.1"/><circle cx="149.0" cy="59.8" r="0.9"/><circle cx="107.3" cy="70.2" r="0.9"/><circle cx="140.0" cy="54.7" r="0.9"/><circle cx="146.5" cy="116.5" r="1.1"/><circle cx="183.0" cy="62.5" r="0.9"/><circle cx="114.4" cy="47.1" r="1.2"/><circle cx="157.1" cy="75.1" r="0.9"/><circle cx="163.8" cy="115.0" r="1.1"/><circle cx="104.6" cy="76.7" r="1.0"/><circle cx="129.4" cy="76.3" r="1.2"/><circle cx="114.9" cy="46.7" r="1.3"/><circle cx="95.2" cy="80.9" r="1.0"/><circle cx="78.9" cy="85.4" r="0.9"/><circle cx="121.8" cy="110.8" r="1.2"/><circle cx="201.2" cy="86.3" r="1.1"/><circle cx="81.1" cy="82.7" r="1.2"/><circle cx="97.5" cy="92.8" r="0.8"/><circle cx="125.2" cy="91.5" r="0.9"/><circle cx="107.2" cy="64.4" r="1.3"/><circle cx="70.3" cy="90.0" r="0.9"/><circle cx="198.9" cy="77.9" r="1.3"/><circle cx="151.5" cy="55.9" r="0.9"/><circle cx="172.4" cy="50.4" r="1.0"/><circle cx="139.5" cy="51.5" r="1.2"/><circle cx="182.1" cy="65.5" r="0.9"/><circle cx="85.6" cy="94.2" r="0.9"/><circle cx="122.8" cy="61.0" r="0.8"/><circle cx="95.6" cy="109.6" r="1.1"/><circle cx="113.4" cy="106.2" r="1.1"/><circle cx="147.7" cy="72.4" r="0.9"/><circle cx="105.6" cy="92.6" r="0.9"/><circle cx="125.4" cy="97.3" r="0.8"/><circle cx="91.9" cy="94.7" r="1.1"/><circle cx="196.5" cy="66.8" r="1.0"/><circle cx="123.3" cy="113.9" r="1.0"/><circle cx="76.6" cy="62.1" r="1.2"/><circle cx="197.7" cy="80.0" r="1.2"/><circle cx="194.9" cy="82.0" r="1.2"/><circle cx="101.2" cy="48.2" r="1.1"/><circle cx="91.0" cy="102.8" r="0.9"/><circle cx="145.9" cy="54.9" r="1.0"/><circle cx="107.4" cy="52.8" r="1.1"/><circle cx="114.0" cy="109.5" r="0.8"/><circle cx="124.9" cy="86.3" r="1.1"/><circle cx="164.2" cy="92.0" r="1.2"/><circle cx="125.0" cy="64.9" r="0.8"/><circle cx="178.9" cy="76.0" r="0.8"/><circle cx="70.6" cy="77.4" r="1.1"/><circle cx="121.5" cy="110.8" r="1.0"/><circle cx="193.7" cy="71.0" r="0.9"/><circle cx="85.4" cy="59.8" r="0.9"/><circle cx="167.6" cy="106.5" r="1.1"/><circle cx="87.7" cy="96.6" r="1.1"/><circle cx="126.8" cy="71.1" r="1.0"/><circle cx="154.0" cy="98.1" r="1.3"/><circle cx="87.4" cy="57.6" r="1.0"/><circle cx="138.5" cy="94.4" r="1.2"/><circle cx="173.1" cy="56.8" r="0.9"/><circle cx="139.6" cy="45.4" r="0.9"/><circle cx="63.6" cy="84.1" r="0.9"/><circle cx="98.0" cy="54.2" r="1.1"/><circle cx="177.4" cy="68.7" r="0.9"/><circle cx="108.4" cy="100.2" r="1.0"/><circle cx="88.2" cy="108.7" r="1.1"/><circle cx="150.8" cy="53.5" r="0.8"/></g>
  <circle cx="78" cy="89" r="6" fill="#d8562a"/><circle cx="117" cy="105" r="7" fill="#d55a2b"/><circle cx="197" cy="72" r="6" fill="#d86a2d"/><circle cx="171" cy="100" r="7" fill="#e9b93f"/><circle cx="96" cy="103" r="6" fill="#e8b03a"/>
  <ellipse cx="144" cy="87" rx="13" ry="9" fill="#cdb98f"/><ellipse cx="156" cy="97" rx="10" ry="7" fill="#b99a6c"/>
  <path d="M104 51 L150 41 L161 59 L136 74 L108 72 Z" fill="#6a4634"/>
  <path d="M94 66 L128 62 L132 80 L106 85 Z" fill="#7a523c"/>
  <path d="M140 56 L172 52 L167 73 L146 77 Z" fill="#87604a"/>
  <path d="M112 53 L144 47 L148 55 L116 61 Z" fill="#4e3124"/><g fill="#3d261b" opacity="0.6"><circle cx="111.0" cy="57.6" r="1.3"/><circle cx="129.6" cy="75.7" r="1.3"/><circle cx="145.6" cy="59.3" r="1.2"/><circle cx="117.2" cy="55.4" r="1.4"/><circle cx="113.0" cy="61.1" r="1.4"/><circle cx="122.4" cy="56.4" r="1.0"/><circle cx="126.7" cy="63.1" r="1.2"/><circle cx="132.1" cy="52.6" r="1.3"/><circle cx="155.5" cy="57.8" r="1.2"/><circle cx="139.6" cy="65.5" r="1.4"/><circle cx="130.8" cy="70.2" r="1.3"/><circle cx="134.0" cy="57.4" r="1.0"/><circle cx="134.8" cy="71.3" r="0.8"/><circle cx="116.6" cy="61.6" r="1.1"/><circle cx="138.2" cy="67.9" r="0.9"/><circle cx="153.3" cy="53.1" r="1.2"/><circle cx="142.8" cy="67.3" r="0.9"/><circle cx="130.9" cy="66.5" r="1.0"/><circle cx="138.1" cy="69.7" r="1.2"/><circle cx="112.8" cy="65.9" r="1.0"/><circle cx="106.5" cy="59.6" r="1.0"/><circle cx="154.1" cy="67.7" r="1.1"/><circle cx="136.0" cy="57.8" r="1.3"/><circle cx="157.5" cy="64.1" r="1.1"/><circle cx="122.0" cy="76.8" r="1.2"/><circle cx="145.7" cy="72.6" r="1.2"/><circle cx="143.3" cy="64.0" r="1.2"/><circle cx="131.2" cy="52.2" r="1.1"/><circle cx="117.7" cy="62.6" r="1.3"/><circle cx="155.6" cy="60.4" r="0.9"/><circle cx="111.1" cy="71.6" r="1.0"/><circle cx="144.9" cy="67.2" r="1.2"/><circle cx="121.7" cy="57.1" r="1.2"/><circle cx="136.1" cy="47.3" r="1.3"/><circle cx="107.7" cy="68.8" r="1.4"/><circle cx="152.8" cy="52.8" r="1.2"/><circle cx="104.6" cy="61.9" r="1.2"/><circle cx="131.3" cy="55.5" r="0.9"/><circle cx="130.9" cy="75.1" r="1.2"/><circle cx="138.4" cy="69.6" r="1.4"/><circle cx="161.7" cy="69.7" r="1.3"/><circle cx="105.4" cy="55.9" r="1.2"/><circle cx="165.0" cy="63.7" r="1.1"/><circle cx="159.0" cy="55.8" r="0.9"/><circle cx="138.5" cy="63.6" r="1.3"/><circle cx="137.9" cy="55.6" r="0.9"/><circle cx="114.9" cy="73.6" r="1.3"/><circle cx="155.1" cy="51.3" r="1.3"/><circle cx="136.1" cy="61.2" r="0.8"/><circle cx="150.3" cy="53.4" r="1.0"/><circle cx="146.8" cy="69.7" r="1.0"/><circle cx="112.5" cy="63.3" r="1.0"/><circle cx="146.5" cy="66.6" r="0.9"/><circle cx="150.6" cy="69.1" r="0.9"/><circle cx="141.3" cy="51.8" r="1.1"/><circle cx="124.1" cy="57.1" r="0.9"/><circle cx="150.4" cy="67.4" r="1.0"/><circle cx="133.7" cy="71.9" r="1.3"/><circle cx="155.4" cy="63.6" r="1.1"/><circle cx="128.6" cy="76.3" r="1.0"/></g><g fill="#a98468" opacity="0.6"><circle cx="109.9" cy="60.8" r="1.1"/><circle cx="158.2" cy="54.1" r="0.9"/><circle cx="153.8" cy="59.7" r="0.9"/><circle cx="153.0" cy="69.4" r="0.8"/><circle cx="130.2" cy="75.4" r="1.1"/><circle cx="134.2" cy="58.3" r="0.7"/><circle cx="133.2" cy="74.9" r="1.1"/><circle cx="143.6" cy="48.3" r="1.0"/><circle cx="122.7" cy="56.5" r="0.9"/><circle cx="140.4" cy="74.3" r="1.0"/><circle cx="116.0" cy="58.6" r="0.9"/><circle cx="134.3" cy="77.4" r="1.0"/><circle cx="133.8" cy="48.6" r="0.9"/><circle cx="146.6" cy="68.7" r="1.2"/><circle cx="139.3" cy="53.2" r="1.1"/><circle cx="117.7" cy="75.5" r="0.8"/><circle cx="132.2" cy="47.2" r="0.9"/><circle cx="122.8" cy="64.4" r="0.9"/><circle cx="135.8" cy="71.7" r="0.8"/><circle cx="130.8" cy="67.9" r="1.0"/><circle cx="121.3" cy="67.2" r="1.2"/><circle cx="125.5" cy="73.9" r="1.1"/><circle cx="135.6" cy="47.3" r="1.0"/><circle cx="139.6" cy="60.0" r="1.1"/><circle cx="124.7" cy="70.8" r="1.1"/><circle cx="133.0" cy="53.7" r="0.9"/><circle cx="128.5" cy="78.2" r="1.0"/><circle cx="132.5" cy="74.7" r="0.7"/><circle cx="131.2" cy="74.2" r="1.2"/><circle cx="148.9" cy="53.8" r="1.1"/><circle cx="133.7" cy="76.3" r="1.2"/><circle cx="151.5" cy="75.7" r="1.2"/><circle cx="114.5" cy="73.6" r="1.2"/><circle cx="147.1" cy="71.7" r="1.0"/><circle cx="138.5" cy="55.1" r="1.1"/><circle cx="125.5" cy="48.8" r="1.1"/><circle cx="150.0" cy="53.5" r="1.0"/><circle cx="114.2" cy="65.4" r="0.9"/><circle cx="114.0" cy="63.4" r="0.8"/><circle cx="109.1" cy="72.3" r="0.9"/></g>
 </g>
</symbol>

<symbol id="ph4" viewBox="0 0 275 152" preserveAspectRatio="xMidYMid slice">
 <rect width="275" height="152" fill="url(#wood)"/>
 <g filter="url(#soft)">
  <path d="M0 20 H275 M0 46 H275 M0 70 H120" stroke="#3d2a20" stroke-width="1.500" opacity=".5"/>
  <path d="M0 104 L60 74 L275 44 L275 152 L0 152 Z" fill="#a58d68"/>
  <path d="M0 104 L60 74 L275 44 L275 58 L60 88 L0 118 Z" fill="#8a7250" opacity=".6"/>
  <rect x="28" y="-6" width="66" height="34" rx="10" fill="#c9a572"/><rect x="32" y="-6" width="58" height="24" rx="8" fill="#e0c190"/>
  <ellipse cx="175" cy="6" rx="36" ry="16" fill="#c88a4e"/><ellipse cx="178" cy="3" rx="26" ry="9" fill="#dba866"/>
  <path d="M190 40 L275 52 L275 76 L196 58 Z" fill="#7a4a2c"/>
  <ellipse cx="20" cy="42" rx="21" ry="17" fill="#6e4a36"/><ellipse cx="20" cy="33" rx="19" ry="10" fill="#8a6a50"/><ellipse cx="20" cy="32" rx="16" ry="8" fill="#5d5636"/>
  <circle cx="14" cy="132" r="30" fill="#c8843e"/><circle cx="10" cy="124" r="16" fill="#dfa75e"/><circle cx="24" cy="140" r="10" fill="#b06c2c"/>
  <ellipse cx="136" cy="106" rx="90" ry="50" fill="#4a3c2c" opacity=".5"/>
  <ellipse cx="136" cy="102" rx="88" ry="49" fill="#e9ebef"/>
  <ellipse cx="136" cy="100" rx="80" ry="43" fill="#f4f5f7"/>
  <ellipse cx="136" cy="106" rx="60" ry="26" fill="#c8ccd3"/>
  <path d="M70 62 Q72 112 100 125 Q134 135 168 125 Q196 112 198 62 Z" fill="url(#bowlg)"/>
  <ellipse cx="134" cy="62" rx="64" ry="38" fill="#f7f8fa"/>
  <ellipse cx="134" cy="64" rx="59" ry="34" fill="#b87a20"/>
  <ellipse cx="134" cy="66" rx="57" ry="32" fill="url(#soupg)"/>
  <g fill="#f3c650" opacity="0.75"><circle cx="115.7" cy="75.1" r="1.1"/><circle cx="167.9" cy="55.0" r="1.4"/><circle cx="103.6" cy="60.3" r="1.4"/><circle cx="93.2" cy="54.6" r="1.4"/><circle cx="152.3" cy="50.3" r="1.1"/><circle cx="160.0" cy="85.2" r="1.1"/><circle cx="110.9" cy="47.8" r="1.0"/><circle cx="136.0" cy="61.0" r="1.5"/><circle cx="147.1" cy="55.1" r="1.4"/><circle cx="132.0" cy="56.2" r="1.4"/><circle cx="169.4" cy="84.8" r="1.4"/><circle cx="145.9" cy="65.2" r="1.2"/><circle cx="104.4" cy="51.1" r="1.1"/><circle cx="170.4" cy="49.3" r="1.2"/><circle cx="159.9" cy="84.2" r="1.2"/><circle cx="115.1" cy="49.2" r="1.2"/><circle cx="152.9" cy="67.4" r="1.3"/><circle cx="129.4" cy="47.9" r="1.4"/><circle cx="86.7" cy="59.5" r="1.4"/><circle cx="125.5" cy="75.4" r="1.0"/><circle cx="180.8" cy="72.4" r="1.5"/><circle cx="134.1" cy="56.7" r="1.4"/><circle cx="168.1" cy="85.0" r="1.4"/><circle cx="133.9" cy="44.1" r="1.2"/><circle cx="163.6" cy="43.6" r="1.1"/><circle cx="92.9" cy="75.2" r="1.4"/><circle cx="104.5" cy="76.0" r="1.6"/><circle cx="130.1" cy="78.7" r="1.4"/><circle cx="125.7" cy="92.1" r="1.2"/><circle cx="162.5" cy="58.1" r="1.5"/><circle cx="134.3" cy="42.0" r="1.1"/><circle cx="138.7" cy="70.2" r="1.1"/><circle cx="127.4" cy="59.9" r="1.1"/><circle cx="115.3" cy="61.5" r="1.2"/><circle cx="139.8" cy="88.8" r="1.0"/><circle cx="174.2" cy="65.7" r="1.4"/><circle cx="99.3" cy="59.6" r="1.6"/><circle cx="171.0" cy="50.3" r="1.0"/><circle cx="91.3" cy="51.5" r="1.4"/><circle cx="92.2" cy="64.2" r="1.1"/><circle cx="127.6" cy="41.5" r="1.0"/><circle cx="94.0" cy="64.7" r="1.2"/><circle cx="113.2" cy="41.6" r="1.5"/><circle cx="126.8" cy="76.2" r="1.5"/><circle cx="97.9" cy="49.5" r="1.5"/><circle cx="126.7" cy="87.1" r="1.2"/><circle cx="146.7" cy="43.7" r="1.1"/><circle cx="93.9" cy="66.0" r="1.1"/><circle cx="148.7" cy="83.6" r="1.0"/><circle cx="83.6" cy="66.8" r="1.5"/><circle cx="178.5" cy="74.5" r="1.4"/><circle cx="131.8" cy="61.6" r="1.4"/><circle cx="149.7" cy="89.6" r="1.2"/><circle cx="119.6" cy="74.6" r="1.5"/><circle cx="142.6" cy="91.7" r="1.3"/><circle cx="159.1" cy="84.2" r="1.3"/><circle cx="180.5" cy="70.3" r="1.1"/><circle cx="179.0" cy="69.7" r="1.4"/><circle cx="117.1" cy="73.9" r="1.3"/><circle cx="97.0" cy="54.0" r="1.3"/><circle cx="93.8" cy="56.2" r="1.1"/><circle cx="149.3" cy="83.7" r="1.4"/><circle cx="149.6" cy="41.5" r="1.2"/><circle cx="130.2" cy="57.1" r="1.2"/><circle cx="177.4" cy="76.4" r="1.6"/><circle cx="112.2" cy="44.7" r="1.2"/><circle cx="138.2" cy="58.2" r="1.2"/><circle cx="105.4" cy="87.0" r="1.1"/><circle cx="142.4" cy="73.0" r="1.5"/><circle cx="114.3" cy="90.4" r="1.2"/><circle cx="145.9" cy="55.4" r="1.5"/><circle cx="182.1" cy="61.7" r="1.4"/><circle cx="173.5" cy="49.8" r="1.6"/><circle cx="126.4" cy="91.5" r="1.5"/><circle cx="121.9" cy="75.5" r="1.5"/><circle cx="96.7" cy="69.5" r="1.5"/><circle cx="108.0" cy="67.4" r="1.4"/><circle cx="107.4" cy="63.1" r="1.4"/><circle cx="155.2" cy="58.1" r="1.5"/><circle cx="134.9" cy="45.8" r="1.1"/><circle cx="119.9" cy="53.2" r="1.1"/><circle cx="150.4" cy="54.4" r="1.0"/><circle cx="163.3" cy="42.9" r="1.2"/><circle cx="102.3" cy="77.6" r="1.4"/><circle cx="175.7" cy="67.7" r="1.1"/><circle cx="164.2" cy="58.2" r="1.6"/><circle cx="94.0" cy="73.0" r="1.0"/><circle cx="142.3" cy="80.6" r="1.2"/><circle cx="149.7" cy="82.1" r="1.0"/><circle cx="87.3" cy="54.9" r="1.5"/><circle cx="96.9" cy="46.8" r="1.4"/><circle cx="110.6" cy="51.9" r="1.0"/><circle cx="172.6" cy="49.5" r="1.5"/><circle cx="116.5" cy="42.6" r="1.6"/><circle cx="178.9" cy="61.7" r="1.0"/><circle cx="171.1" cy="59.1" r="1.2"/><circle cx="109.5" cy="72.1" r="1.0"/><circle cx="103.9" cy="51.1" r="1.0"/><circle cx="177.7" cy="53.6" r="1.5"/><circle cx="102.6" cy="62.0" r="1.3"/><circle cx="99.1" cy="85.9" r="1.5"/><circle cx="164.1" cy="54.0" r="1.3"/><circle cx="123.2" cy="52.1" r="1.1"/><circle cx="160.9" cy="64.6" r="1.1"/><circle cx="118.6" cy="66.4" r="1.3"/><circle cx="159.3" cy="87.5" r="1.0"/><circle cx="142.7" cy="52.3" r="1.5"/><circle cx="149.9" cy="40.0" r="1.1"/><circle cx="153.9" cy="65.0" r="1.2"/><circle cx="170.5" cy="66.9" r="1.0"/><circle cx="86.8" cy="56.7" r="1.5"/><circle cx="124.6" cy="59.2" r="1.6"/><circle cx="100.5" cy="86.5" r="1.1"/><circle cx="118.7" cy="92.0" r="1.4"/><circle cx="147.7" cy="83.4" r="1.3"/><circle cx="133.7" cy="79.1" r="1.0"/><circle cx="100.5" cy="64.9" r="1.2"/><circle cx="103.6" cy="68.1" r="1.2"/><circle cx="135.7" cy="55.3" r="1.0"/><circle cx="107.6" cy="70.9" r="1.3"/><circle cx="166.2" cy="45.0" r="1.5"/><circle cx="155.9" cy="59.6" r="1.2"/><circle cx="155.4" cy="75.7" r="1.1"/><circle cx="135.9" cy="82.1" r="1.6"/><circle cx="84.9" cy="63.5" r="1.3"/><circle cx="133.7" cy="43.1" r="1.3"/><circle cx="169.6" cy="56.1" r="1.3"/><circle cx="136.1" cy="74.7" r="1.2"/><circle cx="118.4" cy="71.6" r="1.6"/><circle cx="168.3" cy="68.1" r="1.1"/><circle cx="94.1" cy="80.0" r="1.6"/><circle cx="98.7" cy="80.1" r="1.5"/><circle cx="125.8" cy="83.1" r="1.2"/><circle cx="148.9" cy="52.8" r="1.5"/><circle cx="151.0" cy="87.2" r="1.4"/><circle cx="163.1" cy="69.4" r="1.5"/><circle cx="123.9" cy="69.9" r="1.3"/><circle cx="99.5" cy="61.1" r="1.2"/><circle cx="173.4" cy="57.3" r="1.2"/><circle cx="90.9" cy="74.1" r="1.1"/><circle cx="88.9" cy="68.8" r="1.0"/><circle cx="141.0" cy="71.1" r="1.4"/><circle cx="147.1" cy="44.3" r="1.4"/><circle cx="164.7" cy="69.3" r="1.3"/><circle cx="120.5" cy="78.0" r="1.2"/><circle cx="135.9" cy="73.3" r="1.3"/><circle cx="167.8" cy="68.8" r="1.2"/><circle cx="150.2" cy="44.1" r="1.3"/><circle cx="177.8" cy="66.9" r="1.4"/><circle cx="100.5" cy="44.8" r="1.3"/><circle cx="103.8" cy="78.5" r="1.0"/><circle cx="120.8" cy="58.7" r="1.4"/><circle cx="101.2" cy="51.0" r="1.1"/><circle cx="122.2" cy="39.6" r="1.6"/><circle cx="136.0" cy="54.9" r="1.5"/><circle cx="156.7" cy="90.9" r="1.0"/><circle cx="166.8" cy="67.9" r="1.0"/><circle cx="181.9" cy="58.0" r="1.1"/><circle cx="155.0" cy="53.9" r="1.5"/><circle cx="169.8" cy="85.2" r="1.2"/><circle cx="137.1" cy="84.6" r="1.0"/><circle cx="168.9" cy="70.5" r="1.3"/><circle cx="171.5" cy="65.6" r="1.2"/><circle cx="133.5" cy="70.1" r="1.5"/><circle cx="125.7" cy="52.3" r="1.4"/><circle cx="118.7" cy="45.2" r="1.2"/><circle cx="168.3" cy="46.4" r="1.4"/><circle cx="147.7" cy="83.2" r="1.4"/><circle cx="169.3" cy="60.1" r="1.3"/><circle cx="146.0" cy="68.9" r="1.1"/></g>
  <g fill="#b8721a" opacity="0.6"><circle cx="128.7" cy="62.6" r="1.0"/><circle cx="141.5" cy="89.7" r="1.2"/><circle cx="145.9" cy="60.8" r="1.1"/><circle cx="157.9" cy="68.4" r="1.1"/><circle cx="156.9" cy="68.1" r="1.2"/><circle cx="110.6" cy="62.3" r="1.2"/><circle cx="135.5" cy="63.9" r="1.3"/><circle cx="124.3" cy="50.5" r="0.9"/><circle cx="163.1" cy="61.7" r="0.9"/><circle cx="173.3" cy="80.7" r="1.2"/><circle cx="149.6" cy="43.6" r="1.1"/><circle cx="165.5" cy="63.1" r="1.1"/><circle cx="153.6" cy="46.7" r="1.3"/><circle cx="95.4" cy="55.0" r="0.9"/><circle cx="137.9" cy="80.9" r="0.9"/><circle cx="135.8" cy="74.8" r="1.0"/><circle cx="113.3" cy="53.3" r="1.0"/><circle cx="140.8" cy="80.0" r="1.4"/><circle cx="109.7" cy="48.5" r="0.9"/><circle cx="131.3" cy="54.8" r="1.1"/><circle cx="175.5" cy="64.5" r="1.2"/><circle cx="114.9" cy="42.4" r="1.3"/><circle cx="135.2" cy="71.0" r="1.0"/><circle cx="131.3" cy="78.8" r="1.4"/><circle cx="154.8" cy="55.0" r="1.2"/><circle cx="94.6" cy="82.3" r="1.1"/><circle cx="131.6" cy="79.8" r="1.2"/><circle cx="130.8" cy="87.3" r="1.3"/><circle cx="114.4" cy="73.7" r="1.4"/><circle cx="118.3" cy="65.5" r="0.9"/><circle cx="165.8" cy="80.1" r="1.3"/><circle cx="122.4" cy="69.3" r="1.1"/><circle cx="171.8" cy="65.5" r="1.4"/><circle cx="137.6" cy="63.7" r="1.2"/><circle cx="118.1" cy="47.3" r="1.0"/><circle cx="123.0" cy="58.8" r="1.1"/><circle cx="85.3" cy="73.8" r="1.3"/><circle cx="130.9" cy="85.7" r="0.9"/><circle cx="175.4" cy="52.4" r="1.0"/><circle cx="107.9" cy="49.3" r="0.9"/><circle cx="137.0" cy="45.5" r="1.3"/><circle cx="132.8" cy="65.9" r="1.0"/><circle cx="183.7" cy="69.3" r="1.3"/><circle cx="148.2" cy="52.5" r="0.9"/><circle cx="170.5" cy="47.1" r="0.9"/><circle cx="120.4" cy="66.6" r="1.3"/><circle cx="135.9" cy="56.0" r="1.1"/><circle cx="108.5" cy="61.6" r="1.3"/><circle cx="112.8" cy="72.0" r="1.1"/><circle cx="131.1" cy="53.5" r="1.0"/><circle cx="175.9" cy="65.3" r="1.1"/><circle cx="116.0" cy="64.9" r="1.0"/><circle cx="113.0" cy="84.3" r="1.0"/><circle cx="136.6" cy="73.3" r="1.2"/><circle cx="140.5" cy="92.4" r="1.3"/><circle cx="156.9" cy="71.9" r="1.2"/><circle cx="138.2" cy="75.9" r="1.4"/><circle cx="101.8" cy="57.7" r="1.3"/><circle cx="142.0" cy="54.6" r="0.9"/><circle cx="103.3" cy="73.6" r="1.1"/><circle cx="128.4" cy="43.2" r="1.4"/><circle cx="160.9" cy="76.3" r="1.0"/><circle cx="150.7" cy="55.3" r="0.9"/><circle cx="102.0" cy="71.8" r="1.0"/><circle cx="134.1" cy="92.9" r="1.1"/><circle cx="158.8" cy="50.1" r="0.9"/><circle cx="181.5" cy="65.9" r="1.4"/><circle cx="176.9" cy="54.5" r="0.9"/><circle cx="110.1" cy="67.2" r="1.1"/><circle cx="163.9" cy="72.2" r="1.4"/><circle cx="129.6" cy="90.7" r="1.1"/><circle cx="89.0" cy="78.7" r="1.4"/><circle cx="92.6" cy="57.9" r="0.9"/><circle cx="119.2" cy="92.4" r="1.2"/><circle cx="90.6" cy="59.7" r="0.9"/><circle cx="102.2" cy="56.0" r="1.3"/><circle cx="162.0" cy="88.9" r="0.9"/><circle cx="149.7" cy="85.9" r="1.2"/><circle cx="135.7" cy="75.7" r="1.3"/><circle cx="135.0" cy="87.6" r="1.2"/><circle cx="99.3" cy="76.4" r="1.1"/><circle cx="155.6" cy="61.0" r="1.2"/><circle cx="136.3" cy="83.6" r="1.2"/><circle cx="125.0" cy="81.0" r="1.3"/><circle cx="165.6" cy="74.3" r="1.4"/><circle cx="148.1" cy="65.8" r="1.0"/><circle cx="129.2" cy="92.9" r="1.3"/><circle cx="156.9" cy="54.3" r="0.9"/><circle cx="155.9" cy="45.7" r="1.2"/><circle cx="175.9" cy="64.2" r="0.8"/></g>
  <ellipse cx="256" cy="98" rx="17" ry="25" transform="rotate(12 256 98)" fill="#b9babf"/><ellipse cx="255" cy="94" rx="10" ry="17" transform="rotate(12 255 94)" fill="#8d8e95"/>
  <path d="M250 122 L232 152" stroke="#aeb0b6" stroke-width="5" stroke-linecap="round"/>
 </g>
 <g filter="url(#soft2)"><ellipse cx="134" cy="68" rx="22" ry="13" fill="#4c7a2a"/></g>
 <g filter="url(#soft)"><g fill="#3d6a22" opacity="0.9"><circle cx="155.1" cy="71.0" r="1.0"/><circle cx="113.3" cy="70.9" r="1.4"/><circle cx="116.4" cy="71.1" r="0.9"/><circle cx="119.5" cy="71.8" r="1.4"/><circle cx="112.4" cy="64.2" r="1.2"/><circle cx="144.7" cy="80.4" r="1.4"/><circle cx="128.3" cy="71.3" r="1.2"/><circle cx="111.2" cy="68.3" r="1.3"/><circle cx="114.3" cy="67.5" r="1.1"/><circle cx="140.1" cy="69.1" r="1.5"/><circle cx="141.5" cy="61.1" r="1.4"/><circle cx="125.7" cy="67.3" r="1.4"/><circle cx="112.3" cy="60.7" r="1.3"/><circle cx="151.0" cy="74.6" r="1.4"/><circle cx="146.0" cy="62.9" r="1.2"/><circle cx="130.8" cy="62.2" r="1.4"/><circle cx="135.1" cy="64.7" r="1.3"/><circle cx="126.4" cy="72.8" r="1.3"/><circle cx="153.0" cy="65.9" r="1.0"/><circle cx="111.1" cy="68.4" r="1.5"/><circle cx="132.9" cy="65.0" r="1.5"/><circle cx="128.0" cy="65.4" r="1.0"/><circle cx="152.2" cy="74.3" r="1.0"/><circle cx="137.0" cy="63.4" r="1.2"/><circle cx="129.3" cy="69.0" r="0.9"/><circle cx="155.1" cy="59.6" r="1.0"/><circle cx="131.5" cy="53.2" r="1.4"/><circle cx="145.3" cy="62.2" r="1.3"/><circle cx="108.8" cy="68.2" r="1.3"/><circle cx="147.4" cy="56.4" r="1.1"/><circle cx="132.1" cy="63.6" r="1.0"/><circle cx="149.2" cy="64.3" r="1.3"/><circle cx="122.2" cy="64.5" r="1.3"/><circle cx="146.7" cy="63.5" r="1.1"/><circle cx="138.3" cy="73.8" r="1.4"/><circle cx="127.1" cy="53.8" r="1.3"/><circle cx="145.8" cy="66.2" r="1.0"/><circle cx="137.4" cy="77.1" r="1.5"/><circle cx="136.8" cy="78.0" r="0.9"/><circle cx="152.9" cy="69.9" r="1.3"/><circle cx="109.2" cy="67.0" r="1.4"/><circle cx="152.9" cy="64.5" r="1.1"/><circle cx="149.6" cy="77.6" r="1.0"/><circle cx="155.7" cy="68.5" r="1.0"/><circle cx="125.6" cy="63.3" r="1.2"/><circle cx="149.9" cy="68.9" r="1.1"/><circle cx="133.3" cy="73.5" r="1.2"/><circle cx="129.9" cy="61.7" r="0.9"/><circle cx="131.5" cy="80.5" r="1.1"/><circle cx="129.8" cy="64.7" r="1.3"/><circle cx="141.7" cy="73.5" r="1.3"/><circle cx="113.4" cy="69.9" r="1.1"/><circle cx="127.0" cy="60.9" r="1.2"/><circle cx="110.7" cy="72.9" r="1.4"/><circle cx="111.2" cy="63.9" r="1.3"/><circle cx="130.9" cy="57.3" r="1.2"/><circle cx="139.7" cy="82.1" r="1.3"/><circle cx="142.6" cy="57.4" r="0.9"/><circle cx="153.0" cy="76.9" r="1.3"/><circle cx="154.3" cy="60.0" r="1.0"/><circle cx="154.2" cy="66.9" r="1.3"/><circle cx="120.9" cy="67.2" r="1.2"/><circle cx="120.2" cy="69.9" r="1.1"/><circle cx="121.4" cy="70.7" r="1.0"/><circle cx="139.2" cy="59.5" r="1.1"/><circle cx="138.5" cy="55.7" r="1.2"/><circle cx="125.5" cy="80.5" r="1.0"/><circle cx="118.5" cy="70.1" r="1.5"/><circle cx="135.3" cy="79.5" r="1.2"/><circle cx="144.6" cy="69.9" r="1.4"/></g><g fill="#7aa83c" opacity="0.9"><circle cx="121.6" cy="72.4" r="1.1"/><circle cx="138.2" cy="72.7" r="0.7"/><circle cx="135.4" cy="68.7" r="0.8"/><circle cx="114.2" cy="67.1" r="1.1"/><circle cx="124.8" cy="72.8" r="1.1"/><circle cx="131.5" cy="70.6" r="1.1"/><circle cx="129.0" cy="65.5" r="0.8"/><circle cx="150.2" cy="74.0" r="0.8"/><circle cx="120.1" cy="60.3" r="0.7"/><circle cx="123.6" cy="73.0" r="1.2"/><circle cx="137.8" cy="73.2" r="0.8"/><circle cx="149.6" cy="70.7" r="1.1"/><circle cx="130.4" cy="68.8" r="1.1"/><circle cx="132.7" cy="59.1" r="0.9"/><circle cx="141.7" cy="60.4" r="1.0"/><circle cx="124.7" cy="66.7" r="0.9"/><circle cx="138.5" cy="59.3" r="0.9"/><circle cx="141.8" cy="58.9" r="0.7"/><circle cx="139.2" cy="72.3" r="0.7"/><circle cx="134.3" cy="59.2" r="1.0"/><circle cx="145.9" cy="67.8" r="0.8"/><circle cx="142.9" cy="72.1" r="1.1"/><circle cx="130.2" cy="66.3" r="0.9"/><circle cx="149.1" cy="70.6" r="0.8"/><circle cx="140.9" cy="76.0" r="1.1"/><circle cx="126.1" cy="63.9" r="1.0"/><circle cx="133.8" cy="68.9" r="0.9"/><circle cx="128.0" cy="59.9" r="0.8"/><circle cx="143.8" cy="59.6" r="0.9"/><circle cx="143.9" cy="66.6" r="0.8"/></g></g>
</symbol>

<symbol id="ph5" viewBox="0 0 44 44" preserveAspectRatio="xMidYMid slice">
 <rect width="44" height="44" fill="#6a5648"/>
 <g filter="url(#soft)"><path d="M2 14 L30 2 L42 28 L14 42 Z" fill="#e9e4de"/><path d="M6 16 L30 6 L38 27 L15 37 Z" fill="#7a4c30"/>
 <ellipse cx="22" cy="22" rx="13" ry="11" fill="#b8743a"/><g fill="#e0a860" opacity="0.8"><circle cx="22.3" cy="28.4" r="1.2"/><circle cx="24.3" cy="18.1" r="1.5"/><circle cx="28.2" cy="19.5" r="1.8"/><circle cx="21.1" cy="15.4" r="1.5"/><circle cx="16.3" cy="19.2" r="1.8"/><circle cx="13.0" cy="27.1" r="1.7"/><circle cx="27.5" cy="22.8" r="1.4"/><circle cx="23.8" cy="18.5" r="1.5"/><circle cx="15.5" cy="27.9" r="1.7"/><circle cx="22.4" cy="18.1" r="1.6"/><circle cx="12.7" cy="25.1" r="1.4"/><circle cx="31.1" cy="17.1" r="1.7"/><circle cx="26.6" cy="14.8" r="1.5"/><circle cx="27.0" cy="30.0" r="1.4"/><circle cx="29.2" cy="22.6" r="1.4"/><circle cx="25.3" cy="30.4" r="1.2"/><circle cx="28.7" cy="18.2" r="1.2"/><circle cx="17.4" cy="26.7" r="1.2"/><circle cx="22.7" cy="14.8" r="1.8"/><circle cx="26.7" cy="15.0" r="1.8"/><circle cx="30.0" cy="19.0" r="1.5"/><circle cx="12.2" cy="20.8" r="1.7"/><circle cx="26.9" cy="14.8" r="1.1"/><circle cx="19.1" cy="23.3" r="1.5"/><circle cx="14.8" cy="18.7" r="1.7"/><circle cx="23.5" cy="29.6" r="1.5"/><circle cx="24.5" cy="30.7" r="1.1"/><circle cx="14.1" cy="23.4" r="1.5"/><circle cx="30.1" cy="21.2" r="1.7"/><circle cx="19.9" cy="28.0" r="1.2"/></g><g fill="#7a3f1c" opacity="0.7"><circle cx="24.5" cy="21.7" r="1.3"/><circle cx="11.4" cy="22.9" r="1.1"/><circle cx="25.8" cy="20.3" r="1.5"/><circle cx="18.0" cy="24.0" r="1.1"/><circle cx="20.6" cy="20.8" r="1.1"/><circle cx="24.9" cy="22.2" r="1.0"/><circle cx="22.7" cy="26.7" r="1.4"/><circle cx="13.2" cy="26.2" r="1.4"/><circle cx="30.5" cy="16.6" r="1.2"/><circle cx="17.1" cy="14.6" r="1.2"/><circle cx="27.0" cy="27.1" r="1.2"/><circle cx="23.4" cy="24.5" r="1.0"/><circle cx="18.8" cy="14.3" r="1.3"/><circle cx="20.3" cy="22.7" r="0.9"/><circle cx="17.5" cy="16.6" r="1.2"/><circle cx="23.8" cy="24.8" r="1.0"/><circle cx="27.9" cy="27.0" r="1.1"/><circle cx="15.2" cy="20.0" r="1.2"/><circle cx="21.7" cy="14.1" r="1.0"/><circle cx="31.8" cy="19.9" r="1.4"/></g></g>
</symbol>
</defs></svg>
<div style="left:0.0px;top:0.0px;width:2528.0px;height:136.0px;background:#fafbfc;border-bottom:2px solid #e9eaee"></div>
<div style="left:0.0px;top:136.0px;width:287.0px;height:1548.0px;background:#fafbfd"></div>
<div style="left:285.0px;top:136.0px;width:1273.0px;height:1334.0px;background:#fff"></div>
<div style="left:285.0px;top:136.0px;width:1247.0px;height:1319.0px;background:#fff;border-left:2px solid #e8eaee;border-bottom:2px solid #e8eaee;border-radius:0 0 14px 14px"></div>
<div style="left:1490.0px;top:946.0px;width:42.0px;height:509.0px;border-right:2px solid #e8eaee;border-bottom:2px solid #e8eaee;border-radius:0 0 14px 0"></div>
<div style="left:285.0px;top:1455.0px;width:1273.0px;height:15.0px;background:#fafbfd"></div>
<div style="left:260.0px;top:1470.0px;width:1299.0px;height:214.0px;background:#fafbfd;border-top:2px solid #edeff2;border-left:2px solid #eceef2;border-radius:0 42px 0 0"></div>
<div style="left:260.0px;top:245.0px;width:2.0px;height:1227.0px;background:#eceef2"></div>
<div style="left:1558.0px;top:136.0px;width:970.0px;height:1548.0px;background:#fff;border-left:2px solid #e9ebef"></div>
<span class="t" style="left:47.5px;top:44.8px;font-size:44px;font-weight:700;letter-spacing:-1.6px;color:#23262f">Simple<span style="color:#2b6fc4">POS</span></span>
<div style="left:1273.0px;top:27.5px;width:309.0px;height:84.0px;border:2px solid #e4e6eb;border-radius:13px;background:#f9fafc"></div>
<span class="t" style="top:56.5px;font-size:29px;color:#15171c;-webkit-text-stroke:0.5px #15171c;left:1427.5px;transform:translateX(-50%);">Xidmət haqqı: 10%</span>
<svg class="a" style="left:1627.0px;top:31.5px;" width="72.0" height="72.0" viewBox="0 0 72 72">
<defs><clipPath id="avc"><circle cx="36" cy="36" r="34"/></clipPath></defs>
<circle cx="36" cy="36" r="35" fill="#f3f3f7" stroke="#e2e3e9" stroke-width="1.600"/>
<g clip-path="url(#avc)">
<path d="M12 72 Q13 50 36 50 Q59 50 60 72 Z" fill="#1f8e93"/>
<path d="M15 59 Q22 48.500 30 49 L36 56 L42 49 Q50 48.500 57 59 Q47 53 36 61 Q25 53 15 59 Z" fill="#1c3550"/>
<path d="M30.500 42 h11 v9 q-5.500 7 -11 0 Z" fill="#dba07c"/>
<ellipse cx="36" cy="32" rx="11" ry="14.500" fill="#eebb96"/>
<ellipse cx="24.800" cy="33" rx="1.800" ry="3" fill="#e5ab86"/><ellipse cx="47.200" cy="33" rx="1.800" ry="3" fill="#e5ab86"/>
<path d="M24.800 31 Q22 12.500 36 12.500 Q50 12.500 47.200 31 Q46 22.500 41 21.500 Q31 23.500 27 21.500 Q25.500 24 24.800 31 Z" fill="#5a3620"/>
<circle cx="31.500" cy="32.500" r="1.100" fill="#4a3426"/><circle cx="40.500" cy="32.500" r="1.100" fill="#4a3426"/>
<path d="M33.500 41 q2.500 1 5 0" stroke="#b8745c" stroke-width="1.100" fill="none"/>
</g></svg>
<span class="t" style="top:38.4px;font-size:25.5px;color:#23262e;-webkit-text-stroke:0.4px #23262e;left:1716.0px;">Zaur</span>
<span class="t" style="top:74.7px;font-size:24px;color:#858991;left:1716.0px;">Müştəri Elit Qonaq</span>
<div style="left:1957.5px;top:28.0px;width:241.5px;height:83.5px;background:#2e9558;border-radius:11px;box-shadow:0 1px 3px rgba(30,110,60,.35)"></div>
<svg class="a" style="left:2015.0px;top:56.0px;" width="38.0" height="28.0" viewBox="0 0 38 28">
<g fill="none" stroke="#dcfbe9" stroke-width="2.4" stroke-linejoin="round">
<path d="M7 6 V3.5 Q7 2 8.500 2 H35 Q36.500 2 36.500 3.500 V19 Q36.500 20.500 35 20.500 H32"/>
<rect x="1.500" y="7" width="30" height="19" rx="2.200"/>
<circle cx="16.500" cy="16.500" r="4"/></g></svg>
<span class="t" style="top:56.8px;font-size:28px;color:#e6fff1;-webkit-text-stroke:0.7px #e6fff1;left:2074.5px;">Nağd</span>
<div style="left:2231.0px;top:28.5px;width:251.5px;height:82.5px;border:2px solid #e3e5eb;border-radius:12px;background:#f9fafc"></div>
<svg class="a" style="left:2292.0px;top:56.0px;" width="36.0" height="28.0" viewBox="0 0 36 28">
<rect x="1.700" y="2.200" width="32.600" height="23.600" rx="3" fill="none" stroke="#3a3d4c" stroke-width="2.600"/>
<rect x="1.700" y="6.500" width="32.600" height="6" fill="#3a3d4c"/>
<rect x="6" y="17" width="9" height="1.800" fill="#3a3d4c"/><rect x="6" y="20.500" width="5" height="1.800" fill="#3a3d4c"/></svg>
<span class="t" style="top:56.8px;font-size:28px;color:#1f2233;-webkit-text-stroke:0.7px #1f2233;left:2349.0px;">Kredit</span>
<div style="left:23.0px;top:160.0px;width:240.0px;height:77.5px;background:#2379e1;border-radius:10px;box-shadow:0 1px 4px rgba(35,121,225,.4)"></div>
<svg class="a" style="left:46.0px;top:183.0px;" width="46.0" height="32.0" viewBox="0 0 46 32">
<g fill="#d9f5ff">
<path d="M1 0.500 h2 v8 h1.600 v-8 h2 v8 h1.600 v-8 h2 v10 q0 3 -3 3.600 V31 h-3.400 V14.100 Q1 13.500 1 10.500 Z"/>
<path d="M44.500 0.500 V31 h-2.900 V20 h-2 V8 Q39.800 1.800 44.500 0.500 Z"/>
</g>
<circle cx="24.500" cy="16" r="11.800" fill="none" stroke="#d9f5ff" stroke-width="3"/>
<circle cx="24.500" cy="16" r="7.200" fill="#d9f5ff"/></svg>
<span class="t" style="top:188.4px;font-size:27px;color:#d9f5ff;-webkit-text-stroke:0.6px #d9f5ff;left:107.7px;">Sifarişlər</span>
<div style="left:47.5px;top:276.5px;width:45.0px;height:45.0px;background:#8e93a6;border-radius:50%"></div>
<svg class="a" style="left:47.5px;top:276.5px;" width="45.0" height="45.0" viewBox="0 0 45 45"><path d="M26 13.500 L17 22.500 L26 31.500" fill="none" stroke="#fff" stroke-width="3.600" stroke-linecap="round" stroke-linejoin="round"/></svg>
<span class="t" style="top:287.2px;font-size:26px;color:#1b1d22;-webkit-text-stroke:0.3px #1b1d22;left:107.2px;">Geri</span>
<svg class="a" style="left:52.0px;top:376.5px;" width="36.0" height="44.5" viewBox="0 0 36 44.500">
<rect width="36" height="44.500" rx="3" fill="#8b91a4"/>
<path d="M12.500 10 q-2.800 -3 -4.600 -0.800 q-1.500 2.500 4.600 6.300 q6.100 -3.800 4.600 -6.300 q-1.800 -2.200 -4.600 0.800 Z" fill="#fff"/>
<path d="M26.500 7.500 q-3.500 -0.500 -3.500 2 q0 1.800 2 2.200 q2.200 0.500 2.200 2.200 q0 2.400 -4.200 1.800" fill="none" stroke="#fff" stroke-width="1.800"/>
<rect x="7" y="24.500" width="22" height="3.300" fill="#fff"/><rect x="7" y="32.500" width="22" height="3.300" fill="#fff"/></svg>
<span class="t" style="top:368.6px;font-size:27px;color:#1b1d22;-webkit-text-stroke:0.3px #1b1d22;left:107.2px;">Menyu</span>
<span class="t" style="top:404.9px;font-size:27px;color:#1b1d22;-webkit-text-stroke:0.3px #1b1d22;left:107.2px;">İdarəetmə</span>
<svg class="a" style="left:45.5px;top:483.5px;" width="49.0" height="36.0" viewBox="0 0 49 36">
<g fill="#8b91a4"><circle cx="35.500" cy="10.500" r="8"/>
<path d="M28 36 V30 Q28 22 36 22 h3 Q48.500 22 48.500 31 V33 Q48.500 36 45.500 36 Z"/>
<circle cx="17.500" cy="11" r="10" stroke="#fafbfd" stroke-width="2"/>
<path d="M0.500 33 V32 Q0.500 23.500 11 23.500 H24 Q33.500 23.500 33.500 32 V33 Q33.500 36 30.500 36 H3.500 Q0.500 36 0.500 33 Z" stroke="#fafbfd" stroke-width="2"/></g></svg>
<span class="t" style="top:489.4px;font-size:27px;color:#1b1d22;-webkit-text-stroke:0.3px #1b1d22;left:107.2px;">Müştarilər</span>
<svg class="a" style="left:50.0px;top:580.5px;" width="40.0" height="43.0" viewBox="0 0 40 43">
<g fill="#8b91a4"><circle cx="20" cy="11.500" r="11.300"/>
<path d="M0.500 39 V38 Q0.500 26 14 26 H26 Q39.500 26 39.500 38 V39 Q39.500 43 35.500 43 H4.500 Q0.500 43 0.500 39 Z"/></g></svg>
<span class="t" style="top:590.1px;font-size:27px;color:#1b1d22;-webkit-text-stroke:0.3px #1b1d22;left:107.2px;">İstifadəçilər</span>
<svg class="a" style="left:45.5px;top:688.0px;" width="49.0" height="32.5" viewBox="0 0 49 32.500">
<rect width="49" height="32.500" rx="3.500" fill="#8b91a4"/>
<ellipse cx="24.500" cy="16.250" rx="7.500" ry="8.800" fill="#fff"/>
<g fill="#fff"><path d="M5 5 h7 l-7 7 Z"/><path d="M44 5 h-7 l7 7 Z"/><path d="M5 27.500 h7 l-7 -7 Z"/><path d="M44 27.500 h-7 l7 -7 Z"/></g></svg>
<span class="t" style="top:692.3px;font-size:26px;color:#1b1d22;-webkit-text-stroke:0.3px #1b1d22;left:107.2px;">Kassa</span>
<svg class="a" style="left:47.0px;top:776.5px;" width="46.0" height="47.5" viewBox="0 0 46 47.500">
<path d="M12 0.800 q4 2.400 7 0.600 q4 -2.200 8 0 q3 1.800 7 -0.600 l-5 10 h-12 Z" fill="#8b91a4"/>
<path d="M16 13 h14 Q45.500 27 45.500 38.500 Q45.500 47.300 36 47.300 H10 Q0.500 47.300 0.500 38.500 Q0.500 27 16 13 Z" fill="#8b91a4"/>
<path d="M27.800 24.500 q-5.800 -1.800 -7.300 1.600 q-1 3.300 3 4.300 q4.500 1 3.800 4.300 q-1.300 3.400 -7.800 1.400 M23.400 20.500 v3 M23.400 37 v3" fill="none" stroke="#fff" stroke-width="2.400"/></svg>
<span class="t" style="top:790.0px;font-size:26px;color:#1b1d22;-webkit-text-stroke:0.3px #1b1d22;left:107.2px;">Kassa</span>
<svg class="a" style="left:52.5px;top:876.0px;" width="35.0" height="45.0" viewBox="0 0 35 45">
<path d="M3 0.500 H26 L34.500 9 V44.500 q-2.870 -3.600 -5.750 0 q-2.870 -3.600 -5.750 0 q-2.870 -3.600 -5.750 0 q-2.870 -3.600 -5.750 0 q-2.870 -3.600 -5.750 0 q-2.870 -3.600 -5.750 0 V3 Q0.500 0.500 3 0.500 Z" fill="#8b91a4"/>
<path d="M26 0.500 V6.500 Q26 9 28.500 9 H34.500 Z" fill="#fafbfd" opacity=".8"/>
<g fill="#fff"><rect x="6.500" y="14.500" width="21" height="3.400"/><rect x="6.500" y="22.300" width="21" height="3.400"/><rect x="6.500" y="30" width="21" height="3.400"/></g></svg>
<span class="t" style="top:886.1px;font-size:27px;color:#1b1d22;-webkit-text-stroke:0.3px #1b1d22;left:107.2px;">Hesabatlar</span>
<svg class="a" style="left:48.0px;top:974.0px;" width="44.0" height="44.0" viewBox="0 0 44 44"><polygon points="17.79,3.17 26.21,3.17 27.53,8.92 30.56,10.67 36.21,8.94 40.42,16.23 36.09,20.25 36.09,23.75 40.42,27.77 36.21,35.06 30.56,33.33 27.53,35.08 26.21,40.83 17.79,40.83 16.47,35.08 13.44,33.33 7.79,35.06 3.58,27.77 7.91,23.75 7.91,20.25 3.58,16.23 7.79,8.94 13.44,10.67 16.47,8.92" fill="#8b91a4" stroke="#8b91a4" stroke-width="4" stroke-linejoin="round"/><circle cx="22" cy="22" r="7.300" fill="#fafbfd"/></svg>
<span class="t" style="top:982.6px;font-size:27px;color:#1b1d22;-webkit-text-stroke:0.3px #1b1d22;left:107.2px;">Parametrlər</span>
<svg class="a" style="left:48.0px;top:1070.5px;" width="44.0" height="42.0" viewBox="0 0 44 42">
<g fill="none" stroke="#8b91a4" stroke-width="4" stroke-linecap="round" stroke-linejoin="round">
<path d="M23 3 H6.500 Q3 3 3 6.500 V35.500 Q3 39 6.500 39 H23"/>
<path d="M14 21 H40 M32.500 13.500 L40 21 L32.500 28.500"/></g></svg>
<span class="t" style="top:1080.9px;font-size:25.5px;color:#1b1d22;-webkit-text-stroke:0.3px #1b1d22;left:107.2px;">Çıxış</span>
<div style="left:26.0px;top:1530.0px;width:207.0px;height:2.0px;background:#eaebef"></div>
<div style="left:44.0px;top:1560.5px;width:142.0px;height:58.5px;border:2px solid #eaecf0;border-radius:12px;background:#fcfcfe"></div>
<svg class="a" style="left:64.5px;top:1576.5px;" width="26.5" height="26.5" viewBox="0 0 26.500 26.500">
<g fill="none" stroke="#bf3b42" stroke-width="2.400" stroke-linecap="round" stroke-linejoin="round">
<path d="M25 9 V4.500 Q25 1.500 22 1.500 H4.500 Q1.500 1.500 1.500 4.500 V22 Q1.500 25 4.500 25 H15"/>
<path d="M19.500 25 H22 Q25 25 25 22 V18.500"/>
<path d="M7.500 13.200 H21 M16.200 8.400 L21.200 13.200 L16.200 18"/></g></svg>
<span class="t" style="top:1581.4px;font-size:21.5px;color:#b2353c;-webkit-text-stroke:0.35px #b2353c;left:107.5px;">Çıxış</span>
<span class="t" style="top:181.7px;font-size:50px;color:#1c1f2b;-webkit-text-stroke:1.25px #1c1f2b;letter-spacing:-0.3px;left:321.5px;">Masa Planı</span>
<div style="left:998.5px;top:160.0px;width:532.5px;height:83.0px;border:2px solid #e7e9ee;border-radius:13px;background:#f8f9fb"></div>
<div style="left:998.5px;top:160.0px;width:178.5px;height:83.0px;border:2px solid #456f98;border-radius:13px;background:#f6f9fd"></div>
<span class="t" style="top:189.8px;font-size:28px;color:#2a3140;-webkit-text-stroke:0.3px #2a3140;left:1088.0px;transform:translateX(-50%);">Əsas Zal</span>
<span class="t" style="top:189.8px;font-size:28px;color:#2a3140;-webkit-text-stroke:0.3px #2a3140;left:1266.0px;transform:translateX(-50%);">VIP</span>
<span class="t" style="top:189.8px;font-size:28px;color:#2a3140;-webkit-text-stroke:0.3px #2a3140;left:1443.5px;transform:translateX(-50%);">Teras</span>
<div style="left:320.5px;top:273.5px;width:765.5px;height:71.5px;border:2px solid #e8eaee;border-radius:13px;background:#fefefe"></div>
<div style="left:340.8px;top:295.6px;width:27.5px;height:27.5px;background:#3c9a5f;border-radius:50%;box-shadow:0 0 4px rgba(90,200,120,.55)"></div>
<span class="t" style="top:296.3px;font-size:26.5px;color:#15171c;-webkit-text-stroke:0.25px #15171c;left:380.0px;">Boş</span>
<div style="left:450.2px;top:295.6px;width:27.5px;height:27.5px;background:#df4039;border-radius:50%;box-shadow:0 0 4px rgba(240,110,100,.5)"></div>
<span class="t" style="top:296.3px;font-size:26.5px;color:#15171c;-webkit-text-stroke:0.25px #15171c;left:489.0px;">Dolu</span>
<div style="left:571.2px;top:295.6px;width:27.5px;height:27.5px;background:#fbbc2a;border-radius:50%;box-shadow:0 0 4px rgba(250,215,90,.6)"></div>
<span class="t" style="top:296.3px;font-size:26.5px;color:#15171c;-webkit-text-stroke:0.25px #15171c;left:611.5px;">Hesab İstənilib</span>
<div style="left:814.8px;top:295.6px;width:27.5px;height:27.5px;background:#2a7de4;border-radius:50%;box-shadow:0 0 4px rgba(90,160,250,.5)"></div>
<span class="t" style="top:296.3px;font-size:26.5px;color:#15171c;-webkit-text-stroke:0.25px #15171c;left:853.5px;">Ayrı-ayrı Sifarişlər</span>
<div style="left:319.5px;top:368.0px;width:1212.5px;height:578.0px;border:2px solid #e5e6ea;border-bottom:none;border-radius:13px 13px 0 0"></div>
<div style="left:319.5px;top:944.0px;width:1191.5px;height:489.0px;border:2px solid #e5e6ea;border-top:none;border-radius:0 0 13px 13px"></div>
<div style="left:320.5px;top:657.5px;width:1210.5px;height:2.0px;background:#e5e6ea"></div>
<div style="left:320.5px;top:944.0px;width:1210.5px;height:2.0px;background:#e5e6ea"></div>
<div style="left:320.5px;top:1197.0px;width:1189.5px;height:2.0px;background:#e5e6ea"></div>
<div style="left:580.5px;top:369.0px;width:2.0px;height:829.0px;background:#e5e6ea"></div>
<div style="left:838.5px;top:369.0px;width:2.0px;height:829.0px;background:#e5e6ea"></div>
<div style="left:1092.0px;top:369.0px;width:2.0px;height:829.0px;background:#e5e6ea"></div>
<div style="left:1339.5px;top:369.0px;width:2.0px;height:829.0px;background:#e5e6ea"></div>
<div style="left:580.5px;top:1198.0px;width:2.0px;height:234.0px;background:#e5e6ea"></div>
<div style="left:838.5px;top:1198.0px;width:2.0px;height:234.0px;background:#e5e6ea"></div>
<div style="left:1252.0px;top:1198.0px;width:2.0px;height:234.0px;background:#e5e6ea"></div>
<div style="left:581.0px;top:368.5px;width:259.5px;height:290.5px;background:#fbdcdd;border:2px solid #c8474d;border-radius:9px;box-shadow:0 0 3px rgba(200,70,77,.35)"></div>
<div style="left:382.5px;top:424.5px;width:141.0px;height:141.0px;background:#3c9a5f;border:2px solid #2f7f4d;border-radius:50%;box-shadow:0 0 5px rgba(90,200,120,.55)"></div>
<span class="t" style="top:480.4px;font-size:30px;color:#eaf6ee;left:453.0px;transform:translateX(-50%);">1</span>
<div style="left:639.5px;top:424.5px;width:141.0px;height:141.0px;background:#df4039;border:2px solid #b8322c;border-radius:50%;box-shadow:0 0 5px rgba(240,110,100,.5)"></div>
<span class="t" style="top:480.4px;font-size:30px;color:#fff1ee;left:710.0px;transform:translateX(-50%);">Dolu</span>
<div style="left:895.0px;top:424.5px;width:141.0px;height:141.0px;background:#fbbc2a;border:2px solid #d9a52c;border-radius:50%;box-shadow:0 0 5px rgba(250,215,90,.6)"></div>
<span class="t" style="top:480.4px;font-size:30px;color:#fff6d8;left:965.5px;transform:translateX(-50%);">3</span>
<div style="left:1147.5px;top:424.5px;width:141.0px;height:141.0px;background:#2a7de4;border:2px solid #2269c6;border-radius:50%;box-shadow:0 0 5px rgba(90,160,250,.5)"></div>
<svg class="a" style="left:1196.0px;top:470.0px;" width="44.0" height="52.0" viewBox="0 0 44 52"><g fill="none" stroke="#f4fbff" stroke-linecap="round">
<path d="M15 8.500 q2 -5.500 5 -4 q3 1 4 5" stroke-width="3.600"/><path d="M12.500 13 q-3 5 -2 10" stroke-width="3.400"/><path d="M29 12 q6 1 5 8" stroke-width="3"/><path d="M18 29.500 q5 5 4.500 15" stroke-width="6"/></g></svg>
<div style="left:1374.5px;top:430.0px;width:122.5px;height:122.5px;background:#3c9a5f;border:2px solid #2f7f4d;border-radius:8px;box-shadow:0 0 4px rgba(90,200,120,.55)"></div>
<span class="t" style="top:476.7px;font-size:30px;color:#eaf6ee;left:1435.8px;transform:translateX(-50%);">4</span>
<span class="t" style="top:593.0px;font-size:26px;color:#14161a;-webkit-text-stroke:0.55px #14161a;left:453.0px;transform:translateX(-50%);">Masa 1</span>
<span class="t" style="top:593.0px;font-size:26px;color:#14161a;-webkit-text-stroke:0.55px #14161a;left:710.0px;transform:translateX(-50%);">Masa 2</span>
<span class="t" style="top:593.0px;font-size:26px;color:#14161a;-webkit-text-stroke:0.55px #14161a;left:965.5px;transform:translateX(-50%);">Masa 3</span>
<span class="t" style="top:593.0px;font-size:26px;color:#14161a;-webkit-text-stroke:0.55px #14161a;left:1218.0px;transform:translateX(-50%);">Masa 4</span>
<span class="t" style="top:575.5px;font-size:26px;color:#14161a;-webkit-text-stroke:0.55px #14161a;left:1435.5px;transform:translateX(-50%);">Masa 5</span>
<div style="left:383.0px;top:714.0px;width:140.0px;height:140.0px;background:#3c9a5f;border:2px solid #2f7f4d;border-radius:50%;box-shadow:0 0 5px rgba(90,200,120,.55)"></div>
<span class="t" style="top:769.4px;font-size:30px;color:#eaf6ee;left:453.0px;transform:translateX(-50%);">3</span>
<div style="left:640.0px;top:714.0px;width:140.0px;height:140.0px;background:#df4039;border:2px solid #b8322c;border-radius:50%;box-shadow:0 0 5px rgba(240,110,100,.5)"></div>
<span class="t" style="top:769.4px;font-size:30px;color:#fff1ee;left:710.0px;transform:translateX(-50%);">Dolu</span>
<div style="left:895.5px;top:714.0px;width:140.0px;height:140.0px;background:#df4039;border:2px solid #b8322c;border-radius:50%;box-shadow:0 0 5px rgba(240,110,100,.5)"></div>
<span class="t" style="top:769.4px;font-size:30px;color:#fff1ee;left:965.5px;transform:translateX(-50%);">6</span>
<div style="left:1148.0px;top:714.0px;width:140.0px;height:140.0px;background:#2a7de4;border:2px solid #2269c6;border-radius:50%;box-shadow:0 0 5px rgba(90,160,250,.5)"></div>
<svg class="a" style="left:1196.0px;top:760.0px;" width="44.0" height="52.0" viewBox="0 0 44 52"><g fill="none" stroke="#f4fbff" stroke-linecap="round">
<path d="M19.300 13.800 Q22 7 27 8.500 Q32 10 31.300 24" stroke-width="3.800"/><path d="M9.400 22.800 q2 -4 7 -3" stroke-width="3.200"/><path d="M24 33 q1 6 -4 10" stroke-width="4.600"/></g></svg>
<span class="t" style="top:882.0px;font-size:26px;color:#14161a;-webkit-text-stroke:0.55px #14161a;left:453.0px;transform:translateX(-50%);">Masa 4</span>
<span class="t" style="top:882.0px;font-size:26px;color:#14161a;-webkit-text-stroke:0.55px #14161a;left:710.0px;transform:translateX(-50%);">Masa 5</span>
<span class="t" style="top:882.0px;font-size:26px;color:#14161a;-webkit-text-stroke:0.55px #14161a;left:965.5px;transform:translateX(-50%);">Masa 6</span>
<span class="t" style="top:882.0px;font-size:26px;color:#14161a;-webkit-text-stroke:0.55px #14161a;left:1218.0px;transform:translateX(-50%);">Masa 7</span>
<div style="left:383.0px;top:990.5px;width:140.0px;height:140.0px;background:#3c9a5f;border:2px solid #2f7f4d;border-radius:50%;box-shadow:0 0 5px rgba(90,200,120,.55)"></div>
<span class="t" style="top:1045.9px;font-size:30px;color:#eaf6ee;left:453.0px;transform:translateX(-50%);">7</span>
<div style="left:640.0px;top:990.5px;width:140.0px;height:140.0px;background:#3c9a5f;border:2px solid #2f7f4d;border-radius:50%;box-shadow:0 0 5px rgba(90,200,120,.55)"></div>
<span class="t" style="top:1045.9px;font-size:30px;color:#eaf6ee;left:710.0px;transform:translateX(-50%);">8</span>
<div style="left:895.5px;top:990.5px;width:140.0px;height:140.0px;background:#3c9a5f;border:2px solid #2f7f4d;border-radius:50%;box-shadow:0 0 5px rgba(90,200,120,.55)"></div>
<span class="t" style="top:1045.9px;font-size:30px;color:#eaf6ee;left:965.5px;transform:translateX(-50%);">9</span>
<div style="left:1155.5px;top:1007.5px;width:125.5px;height:123.0px;background:#3c9a5f;border:2px solid #2f7f4d;border-radius:8px;box-shadow:0 0 4px rgba(90,200,120,.55)"></div>
<span class="t" style="top:1054.4px;font-size:30px;color:#eaf6ee;left:1218.2px;transform:translateX(-50%);">VIP</span>
<div style="left:1362.0px;top:1007.5px;width:126.5px;height:123.0px;background:#3c9a5f;border:2px solid #2f7f4d;border-radius:8px;box-shadow:0 0 4px rgba(90,200,120,.55)"></div>
<div style="left:1420.5px;top:1072.0px;width:8.0px;height:8.0px;border:2.500px solid #e8fff0;border-radius:50%"></div>
<span class="t" style="top:1149.5px;font-size:26px;color:#14161a;-webkit-text-stroke:0.55px #14161a;left:453.0px;transform:translateX(-50%);">Masa 4</span>
<span class="t" style="top:1149.5px;font-size:26px;color:#14161a;-webkit-text-stroke:0.55px #14161a;left:710.0px;transform:translateX(-50%);">Masa 5</span>
<span class="t" style="top:1149.5px;font-size:26px;color:#14161a;-webkit-text-stroke:0.55px #14161a;left:965.5px;transform:translateX(-50%);">Masa 6</span>
<span class="t" style="top:1149.5px;font-size:26px;color:#14161a;-webkit-text-stroke:0.55px #14161a;left:1218.0px;transform:translateX(-50%);">VIP 3</span>
<span class="t" style="top:1149.5px;font-size:26px;color:#14161a;-webkit-text-stroke:0.55px #14161a;left:1425.5px;transform:translateX(-50%);">Teras 4</span>
<div style="left:390.8px;top:1246.8px;width:121.5px;height:121.5px;background:#3c9a5f;border:2px solid #2f7f4d;border-radius:50%;box-shadow:0 0 5px rgba(90,200,120,.55)"></div>
<span class="t" style="top:1292.9px;font-size:30px;color:#eaf6ee;left:451.5px;transform:translateX(-50%);">1</span>
<div style="left:649.2px;top:1246.8px;width:121.5px;height:121.5px;background:#3c9a5f;border:2px solid #2f7f4d;border-radius:50%;box-shadow:0 0 5px rgba(90,200,120,.55)"></div>
<span class="t" style="top:1292.9px;font-size:30px;color:#eaf6ee;left:710.0px;transform:translateX(-50%);">2</span>
<div style="left:983.5px;top:1245.0px;width:126.5px;height:125.0px;background:#3c9a5f;border:2px solid #2f7f4d;border-radius:8px;box-shadow:0 0 4px rgba(90,200,120,.55)"></div>
<span class="t" style="top:1292.9px;font-size:30px;color:#eaf6ee;left:1046.8px;transform:translateX(-50%);">3</span>
<div style="left:1321.2px;top:1246.8px;width:121.5px;height:121.5px;background:#df4039;border:2px solid #b8322c;border-radius:50%;box-shadow:0 0 5px rgba(240,110,100,.5)"></div>
<span class="t" style="top:1292.9px;font-size:30px;color:#fff1ee;left:1382.0px;transform:translateX(-50%);">4</span>
<span class="t" style="top:1386.0px;font-size:26px;color:#14161a;-webkit-text-stroke:0.55px #14161a;left:451.5px;transform:translateX(-50%);">Masa 1</span>
<span class="t" style="top:1386.0px;font-size:26px;color:#14161a;-webkit-text-stroke:0.55px #14161a;left:710.0px;transform:translateX(-50%);">Masa 2</span>
<span class="t" style="top:1386.0px;font-size:26px;color:#14161a;-webkit-text-stroke:0.55px #14161a;left:1046.5px;transform:translateX(-50%);">VIP 7</span>
<span class="t" style="top:1386.0px;font-size:26px;color:#14161a;-webkit-text-stroke:0.55px #14161a;left:1382.0px;transform:translateX(-50%);">Teras 4</span>
<div style="left:319.0px;top:1512.5px;width:192.0px;height:113.0px;background:#d4e7f6;border-radius:12px"></div>
<span class="t" style="top:1552.2px;font-size:34px;color:#10131a;-webkit-text-stroke:0.6px #10131a;left:415.0px;transform:translateX(-50%);">İstifadəçi</span>
<div style="left:528.5px;top:1512.5px;width:295.5px;height:113.0px;background:#5b6379;border-radius:12px;box-shadow:0 1px 3px rgba(60,66,90,.4)"></div>
<span class="t" style="top:1534.9px;font-size:32px;color:#f3f4f7;-webkit-text-stroke:0.7px #f3f4f7;left:676.0px;transform:translateX(-50%);">Mətbəxə</span>
<span class="t" style="top:1572.4px;font-size:32px;color:#f3f4f7;-webkit-text-stroke:0.7px #f3f4f7;left:676.0px;transform:translateX(-50%);">Göndər</span>
<div style="left:859.0px;top:1502.0px;width:323.5px;height:127.5px;background:#fff;border:2px solid #e7e9ed;border-radius:15px"></div>
<span class="t" style="top:1527.4px;font-size:22px;color:#41454e;left:884.0px;">Məbləğ</span>
<span class="t" style="top:1525.7px;font-size:24px;color:#15171c;font-weight:700;right:1371.5px;">125,50₼</span>
<div style="left:884.0px;top:1565.0px;width:273.0px;height:2.0px;background:#e8eaee"></div>
<span class="t" style="top:1588.2px;font-size:21px;color:#41454e;left:884.0px;">Vergi (15%)</span>
<span class="t" style="top:1585.7px;font-size:24px;color:#15171c;font-weight:700;right:1371.5px;">18,83₼</span>
<div style="left:1229.5px;top:1512.5px;width:266.5px;height:113.0px;background:#19a8a4;border-radius:12px;box-shadow:0 1px 4px rgba(25,168,164,.45)"></div>
<span class="t" style="top:1539.9px;font-size:32px;color:#d4fff5;-webkit-text-stroke:0.8px #d4fff5;left:1363.0px;transform:translateX(-50%);">Ödəniş et</span>
<span class="t" style="top:1584.1px;font-size:20px;color:#a8ebe3;left:1363.0px;transform:translateX(-50%);">F12</span>
<div style="left:1586.5px;top:175.0px;width:213.0px;height:81.5px;background:#2379e1;border-radius:11px;box-shadow:0 1px 5px rgba(35,121,225,.45)"></div>
<span class="t" style="top:205.6px;font-size:27px;color:#dbf6ff;-webkit-text-stroke:0.7px #dbf6ff;left:1693.0px;transform:translateX(-50%);">Hamısı</span>
<div class="cat" style="left:1818.0px;top:175.5px;width:214.0px;height:80.5px;"></div>
<span class="t" style="top:205.6px;font-size:27px;color:#1f2433;-webkit-text-stroke:0.5px #1f2433;left:1925.0px;transform:translateX(-50%);">Qannadı</span>
<div class="cat" style="left:2051.5px;top:175.5px;width:212.5px;height:80.5px;"></div>
<span class="t" style="top:205.6px;font-size:27px;color:#1f2433;-webkit-text-stroke:0.5px #1f2433;left:2157.8px;transform:translateX(-50%);">Şamlar</span>
<div class="cat" style="left:2283.0px;top:175.5px;width:214.0px;height:80.5px;"></div>
<span class="t" style="top:205.6px;font-size:27px;color:#1f2433;-webkit-text-stroke:0.5px #1f2433;left:2390.0px;transform:translateX(-50%);">Tortlar</span>
<div class="cat" style="left:1586.5px;top:274.0px;width:213.0px;height:81.0px;"></div>
<span class="t" style="top:303.6px;font-size:27px;color:#1f2433;-webkit-text-stroke:0.5px #1f2433;left:1693.0px;transform:translateX(-50%);">İçkilar</span>
<div class="cat" style="left:1818.0px;top:274.0px;width:214.0px;height:81.0px;"></div>
<span class="t" style="top:303.6px;font-size:27px;color:#1f2433;-webkit-text-stroke:0.5px #1f2433;left:1925.0px;transform:translateX(-50%);">Qagal</span>
<div class="cat" style="left:2051.5px;top:274.0px;width:212.5px;height:81.0px;"></div>
<span class="t" style="top:303.6px;font-size:27px;color:#1f2433;-webkit-text-stroke:0.5px #1f2433;left:2157.8px;transform:translateX(-50%);">Ticari</span>
<div class="cat" style="left:2283.0px;top:274.0px;width:214.0px;height:81.0px;"></div>
<span class="t" style="top:303.6px;font-size:27px;color:#1f2433;-webkit-text-stroke:0.5px #1f2433;left:2390.0px;transform:translateX(-50%);">Xammal</span>
<div style="left:1586.5px;top:372.5px;width:910.5px;height:5.0px;background:#e6e8ed;border-radius:2px"></div>
<div style="left:1586.5px;top:395.0px;width:275.0px;height:245.0px;background:#fff;border:2px solid #e9eaee;border-radius:13px 13px 0 0"></div>
<div style="left:1586.5px;top:395.0px;width:275.0px;height:49.0px;background:#e5e6ea;border-radius:13px 13px 0 0"></div>
<span class="t" style="top:408.6px;font-size:25.3px;color:#16181d;-webkit-text-stroke:0.5px #16181d;left:1602.0px;">Masa 2 - Aktiv Sifariş</span>
<span class="t" style="top:457.0px;font-size:26px;color:#16181d;-webkit-text-stroke:0.4px #16181d;left:1602.0px;">2x</span>
<span class="t" style="top:458.0px;font-size:24.8px;color:#16181d;-webkit-text-stroke:0.5px #16181d;left:1652.0px;">Kabab</span>
<svg class="a" style="left:1652.0px;top:494.0px;" width="21.0" height="18.0" viewBox="0 0 21 18"><path d="M1 9 H19.5 M12.5 2.500 L19.5 9 L12.5 15.500" fill="none" stroke="#c9393f" stroke-width="2.2" stroke-linecap="round" stroke-linejoin="round"/></svg>
<span class="t" style="top:489.0px;font-size:26px;color:#b2474a;left:1683.5px;">Acılı</span>
<svg class="a" style="left:1652.0px;top:526.0px;" width="21.0" height="18.0" viewBox="0 0 21 18"><path d="M1 9 H19.5 M12.5 2.500 L19.5 9 L12.5 15.500" fill="none" stroke="#c9393f" stroke-width="2.2" stroke-linecap="round" stroke-linejoin="round"/></svg>
<span class="t" style="top:522.3px;font-size:24.5px;color:#33363d;left:1683.5px;">Porsiya</span>
<span class="t" style="top:564.0px;font-size:26px;color:#16181d;-webkit-text-stroke:0.4px #16181d;left:1602.0px;">1x</span>
<span class="t" style="top:564.8px;font-size:25px;color:#16181d;-webkit-text-stroke:0.5px #16181d;left:1652.0px;">Su</span>
<div class="card" style="left:1887.0px;top:395.0px;width:275.5px;height:349.0px;"></div>
<svg class="a" style="left:1887px;top:394.5px;border-radius:13px 13px 0 0" width="275.500" height="152" viewBox="0 0 275 152" preserveAspectRatio="none"><use href="#ph1" width="275" height="152"/></svg>
<div style="left:2067.0px;top:395.0px;width:95.5px;height:37.0px;background:#2b7de2;border-radius:0 13px 0 10px"></div>
<span class="t" style="top:402.7px;font-size:24px;color:#e4f8ff;-webkit-text-stroke:0.5px #e4f8ff;left:2115.5px;transform:translateX(-50%);">17.00 ₼</span>
<span class="t" style="top:560.3px;font-size:25px;color:#121418;-webkit-text-stroke:0.7px #121418;left:1905.0px;">Kabab</span>
<span class="t" style="top:625.8px;font-size:21.5px;color:#6d7179;left:1905.0px;">20011330000001</span>
<div class="tag" style="left:1905.0px;top:672.5px;width:56.0px;height:37.0px;"></div>
<span class="t" style="top:680.9px;font-size:22px;color:#1d1f25;left:1933.0px;transform:translateX(-50%);">Acılı</span>
<div class="tag" style="left:1969.5px;top:672.5px;width:87.0px;height:37.0px;"></div>
<span class="t" style="top:680.9px;font-size:22px;color:#1d1f25;left:2013.0px;transform:translateX(-50%);">Porsiya</span>
<div class="card" style="left:2187.5px;top:395.0px;width:275.5px;height:349.0px;"></div>
<svg class="a" style="left:2187.5px;top:394.5px;border-radius:13px 13px 0 0" width="275.500" height="152" viewBox="0 0 275 152" preserveAspectRatio="none"><use href="#ph2" width="275" height="152"/></svg>
<div style="left:2367.5px;top:395.0px;width:95.5px;height:37.0px;background:#2b7de2;border-radius:0 13px 0 10px"></div>
<span class="t" style="top:402.7px;font-size:24px;color:#e4f8ff;-webkit-text-stroke:0.5px #e4f8ff;left:2416.0px;transform:translateX(-50%);">17.00 ₼</span>
<span class="t" style="top:560.3px;font-size:25px;color:#121418;-webkit-text-stroke:0.7px #121418;left:2205.5px;">Plov</span>
<span class="t" style="top:625.8px;font-size:21.5px;color:#6d7179;left:2205.5px;">20011460000003</span>
<div class="tag" style="left:2205.0px;top:672.5px;width:44.0px;height:37.0px;"></div>
<span class="t" style="top:680.9px;font-size:22px;color:#1d1f25;left:2227.0px;transform:translateX(-50%);">KQ</span>
<div class="card" style="left:1887.0px;top:781.5px;width:275.5px;height:348.5px;"></div>
<svg class="a" style="left:1887px;top:781.0px;border-radius:13px 13px 0 0" width="275.500" height="152" viewBox="0 0 275 152" preserveAspectRatio="none"><use href="#ph3" width="275" height="152"/></svg>
<div style="left:2067.0px;top:781.5px;width:95.5px;height:37.0px;background:#2b7de2;border-radius:0 13px 0 10px"></div>
<span class="t" style="top:789.2px;font-size:24px;color:#e4f8ff;-webkit-text-stroke:0.5px #e4f8ff;left:2115.5px;transform:translateX(-50%);">19.00 ₼</span>
<span class="t" style="top:946.8px;font-size:25px;color:#121418;-webkit-text-stroke:0.7px #121418;left:1905.0px;">Plov</span>
<span class="t" style="top:1012.3px;font-size:21.5px;color:#6d7179;left:1905.0px;">22011406000003</span>
<div class="card" style="left:2187.5px;top:781.5px;width:275.5px;height:348.5px;"></div>
<svg class="a" style="left:2187.5px;top:781.0px;border-radius:13px 13px 0 0" width="275.500" height="152" viewBox="0 0 275 152" preserveAspectRatio="none"><use href="#ph4" width="275" height="152"/></svg>
<div style="left:2367.5px;top:781.5px;width:95.5px;height:37.0px;background:#2b7de2;border-radius:0 13px 0 10px"></div>
<span class="t" style="top:789.2px;font-size:24px;color:#e4f8ff;-webkit-text-stroke:0.5px #e4f8ff;left:2416.0px;transform:translateX(-50%);">19.00 ₼</span>
<span class="t" style="top:946.8px;font-size:25px;color:#121418;-webkit-text-stroke:0.7px #121418;left:2205.5px;">Soup</span>
<span class="t" style="top:1012.3px;font-size:21.5px;color:#6d7179;left:2205.5px;">22011360000002</span>
<div style="left:1356.5px;top:613.5px;width:555.0px;height:461.0px;background:#fff;border:2px solid #ededf1;border-radius:13px;box-shadow:0 4px 16px rgba(40,45,70,.09)"></div>
<div style="left:1380.5px;top:665.0px;width:206.5px;height:51.5px;background:#eef0f6;border-radius:11px"></div>
<span class="t" style="top:676.9px;font-size:28.5px;color:#16181d;-webkit-text-stroke:0.55px #16181d;left:1397.0px;">Modifikatorlar</span>
<span class="t" style="top:731.6px;font-size:27px;color:#1d1f25;left:1397.0px;">Acılı</span>
<span class="t" style="top:769.6px;font-size:26px;color:#1d1f25;left:1397.0px;">Porsiya</span>
<span class="t" style="top:808.7px;font-size:26px;color:#1d1f25;left:1397.0px;">Əlava Sous</span>
<div class="key" style="left:1599.5px;top:640.0px;width:91.5px;height:93.0px;"></div>
<span class="t" style="top:667.1px;font-size:40px;color:#17191e;-webkit-text-stroke:0.8px #17191e;left:1645.2px;transform:translateX(-50%);">7</span>
<div class="key" style="left:1697.5px;top:640.0px;width:92.0px;height:93.0px;"></div>
<span class="t" style="top:667.1px;font-size:40px;color:#17191e;-webkit-text-stroke:0.8px #17191e;left:1743.5px;transform:translateX(-50%);">8</span>
<div class="key" style="left:1796.5px;top:640.0px;width:91.5px;height:93.0px;"></div>
<span class="t" style="top:667.1px;font-size:40px;color:#17191e;-webkit-text-stroke:0.8px #17191e;left:1842.2px;transform:translateX(-50%);">9</span>
<div class="key" style="left:1599.5px;top:741.5px;width:91.5px;height:92.5px;"></div>
<span class="t" style="top:768.4px;font-size:40px;color:#17191e;-webkit-text-stroke:0.8px #17191e;left:1645.2px;transform:translateX(-50%);">4</span>
<div class="key" style="left:1697.5px;top:741.5px;width:92.0px;height:92.5px;"></div>
<span class="t" style="top:768.4px;font-size:40px;color:#17191e;-webkit-text-stroke:0.8px #17191e;left:1743.5px;transform:translateX(-50%);">5</span>
<div class="key" style="left:1796.5px;top:741.5px;width:91.5px;height:92.5px;"></div>
<span class="t" style="top:768.4px;font-size:40px;color:#17191e;-webkit-text-stroke:0.8px #17191e;left:1842.2px;transform:translateX(-50%);">6</span>
<div class="key" style="left:1599.5px;top:842.5px;width:91.5px;height:92.5px;"></div>
<span class="t" style="top:869.4px;font-size:40px;color:#17191e;-webkit-text-stroke:0.8px #17191e;left:1645.2px;transform:translateX(-50%);">1</span>
<div class="key" style="left:1697.5px;top:842.5px;width:92.0px;height:92.5px;"></div>
<span class="t" style="top:869.4px;font-size:40px;color:#17191e;-webkit-text-stroke:0.8px #17191e;left:1743.5px;transform:translateX(-50%);">2</span>
<div class="key" style="left:1796.5px;top:842.5px;width:91.5px;height:92.5px;"></div>
<span class="t" style="top:869.4px;font-size:40px;color:#17191e;-webkit-text-stroke:0.8px #17191e;left:1842.2px;transform:translateX(-50%);">3</span>
<div class="key" style="left:1599.5px;top:943.0px;width:91.5px;height:93.0px;"></div>
<svg class="a" style="left:1628.2px;top:979.0px;" width="34.0" height="24.0" viewBox="0 0 34 24"><g fill="none" stroke="#17191e" stroke-width="2.600" stroke-linejoin="round" stroke-linecap="round"><path d="M11 2 H30 Q32.500 2 32.500 4.500 V19.500 Q32.500 22 30 22 H11 L2 12 Z"/><path d="M16.500 7.500 L25.500 16.500 M25.500 7.500 L16.500 16.500"/></g></svg>
<div class="key" style="left:1697.5px;top:943.0px;width:92.0px;height:93.0px;"></div>
<span class="t" style="top:970.1px;font-size:40px;color:#17191e;-webkit-text-stroke:0.8px #17191e;left:1743.5px;transform:translateX(-50%);">0</span>
<div class="key" style="left:1796.5px;top:943.0px;width:91.5px;height:93.0px;"></div>
<span class="t" style="top:969.6px;font-size:40px;color:#17191e;-webkit-text-stroke:0.8px #17191e;left:1842.2px;transform:translateX(-50%);">.</span>
<div style="left:1581.5px;top:1033.0px;width:924.0px;height:641.0px;background:#fff;border:2px solid #e9eaee;border-radius:14px;box-shadow:0 4px 18px rgba(40,45,70,.13)"></div>
<div style="left:1603.5px;top:1058.0px;width:358.5px;height:57.5px;border:2px solid #e7e9ef;border-radius:11px;background:#f8f9fc"></div>
<span class="t" style="top:1076.8px;font-size:25px;color:#16181d;-webkit-text-stroke:0.6px #16181d;left:1693.0px;transform:translateX(-50%);">Tam Hesab</span>
<div style="left:1783.0px;top:1057.0px;width:179.0px;height:59.0px;background:#2379e1;border-radius:11px;box-shadow:0 1px 5px rgba(35,121,225,.45)"></div>
<span class="t" style="top:1076.8px;font-size:25px;color:#dbf6ff;-webkit-text-stroke:0.6px #dbf6ff;left:1872.5px;transform:translateX(-50%);">Hesabı Böl</span>
<span class="t" style="top:1074.3px;font-size:28px;color:#111318;-webkit-text-stroke:0.9px #111318;letter-spacing:-0.2px;left:1998.5px;">Hesab Bölmə</span>
<div style="left:2190.5px;top:1058.0px;width:294.5px;height:57.5px;border:2px solid #e7e9ef;border-radius:11px;background:#f8f9fc"></div>
<div style="left:2190.5px;top:1058.5px;width:128.5px;height:57.0px;background:#2e9558;border-radius:11px;box-shadow:0 1px 4px rgba(46,149,88,.4)"></div>
<span class="t" style="top:1076.8px;font-size:25px;color:#dcffea;-webkit-text-stroke:0.6px #dcffea;left:2255.0px;transform:translateX(-50%);">Böl</span>
<span class="t" style="top:1077.5px;font-size:24.2px;color:#16181d;-webkit-text-stroke:0.5px #16181d;left:2400.0px;transform:translateX(-50%);">Ödəniş</span>
<div style="left:1603.5px;top:1127.0px;width:358.5px;height:364.5px;border:2px solid #e3e5eb;border-radius:11px;background:#fff;overflow:hidden"><div style="left:0;top:0;width:100%;height:89.500px;background:#e4edfb"></div><div style="left:0;top:88.800px;width:100%;height:2px;background:#e1e5ee"></div><div style="left:0;top:179.500px;width:100%;height:2px;background:#e6e8ec"></div><div style="left:0;top:270.500px;width:100%;height:2px;background:#e6e8ec"></div></div>
<svg class="a" style="left:1616px;top:1150.0px;border-radius:8px" width="44" height="44" viewBox="0 0 44 44"><use href="#ph1" width="44" height="44"/></svg>
<span class="t" style="top:1145.7px;font-size:24.3px;color:#121418;-webkit-text-stroke:0.6px #121418;left:1673.5px;">Kabab</span>
<svg class="a" style="left:1675.0px;top:1181.5px;" width="19.0" height="18.0" viewBox="0 0 19 18"><path d="M1 9 H17.5 M10.5 2.500 L17.5 9 L10.5 15.500" fill="none" stroke="#26282e" stroke-width="2" stroke-linecap="round" stroke-linejoin="round"/></svg>
<span class="t" style="top:1179.5px;font-size:22.5px;color:#26282e;left:1702.0px;">Acılı</span>
<span class="t" style="top:1160.5px;font-size:24.8px;color:#16181d;-webkit-text-stroke:0.4px #16181d;right:584.5px;">2x</span>
<svg class="a" style="left:1616px;top:1240.9px;border-radius:8px" width="44" height="44" viewBox="0 0 44 44"><use href="#ph2" width="44" height="44"/></svg>
<span class="t" style="top:1236.6px;font-size:24.3px;color:#121418;-webkit-text-stroke:0.6px #121418;left:1673.5px;">Plov</span>
<svg class="a" style="left:1675.0px;top:1272.4px;" width="19.0" height="18.0" viewBox="0 0 19 18"><path d="M1 9 H17.5 M10.5 2.500 L17.5 9 L10.5 15.500" fill="none" stroke="#26282e" stroke-width="2" stroke-linecap="round" stroke-linejoin="round"/></svg>
<span class="t" style="top:1270.4px;font-size:22.5px;color:#26282e;left:1702.0px;">Porsiya</span>
<span class="t" style="top:1251.4px;font-size:24.8px;color:#16181d;-webkit-text-stroke:0.4px #16181d;right:584.5px;">2x</span>
<svg class="a" style="left:1616px;top:1331.8px;border-radius:8px" width="44" height="44" viewBox="0 0 44 44"><use href="#ph5" width="44" height="44"/></svg>
<span class="t" style="top:1327.5px;font-size:24.3px;color:#121418;-webkit-text-stroke:0.6px #121418;left:1673.5px;">Sufle Özal Tort</span>
<svg class="a" style="left:1675.0px;top:1363.3px;" width="19.0" height="18.0" viewBox="0 0 19 18"><path d="M1 9 H17.5 M10.5 2.500 L17.5 9 L10.5 15.500" fill="none" stroke="#26282e" stroke-width="2" stroke-linecap="round" stroke-linejoin="round"/></svg>
<span class="t" style="top:1361.3px;font-size:22.5px;color:#26282e;left:1702.0px;">Əlavə Sous</span>
<span class="t" style="top:1342.3px;font-size:24.8px;color:#16181d;-webkit-text-stroke:0.4px #16181d;right:584.5px;">2x</span>
<svg class="a" style="left:1616px;top:1422.7px;border-radius:8px" width="44" height="44" viewBox="0 0 44 44"><use href="#ph4" width="44" height="44"/></svg>
<span class="t" style="top:1418.4px;font-size:24.3px;color:#121418;-webkit-text-stroke:0.6px #121418;left:1673.5px;">Soup</span>
<span class="t" style="top:1452.2px;font-size:22.5px;color:#26282e;left:1673.5px;">1x Su</span>
<span class="t" style="top:1433.2px;font-size:24.8px;color:#16181d;-webkit-text-stroke:0.4px #16181d;right:584.5px;">2x</span>
<div style="left:1976.0px;top:1127.0px;width:251.0px;height:364.0px;background:#eef2f9;border-radius:10px 10px 3px 3px"></div>
<div style="left:1976.0px;top:1127.0px;width:251.0px;height:46.0px;background:#d8e8f6;border-radius:10px 10px 0 0"></div>
<span class="t" style="top:1138.3px;font-size:24.5px;color:#16181d;-webkit-text-stroke:0.6px #16181d;left:2100.5px;transform:translateX(-50%);">Sifariş 1</span>
<div style="left:1984.0px;top:1180.5px;width:235.5px;height:61.0px;background:#fff;box-shadow:0 0 0 1.5px #e3e6ee;border-radius:9px"></div>
<span class="t" style="top:1198.5px;font-size:25.3px;color:#16181d;-webkit-text-stroke:0.6px #16181d;left:1995.0px;">2x Kabab</span>
<svg class="a" style="left:2186.5px;top:1204.5px;" width="15.0" height="15.0" viewBox="0 0 15 15"><path d="M1.500 1.500 L13.500 13.500 M13.500 1.500 L1.500 13.500" stroke="#8f929b" stroke-width="1.800" stroke-linecap="round"/></svg>
<div style="left:1984.0px;top:1251.5px;width:235.5px;height:61.0px;background:#fff;box-shadow:0 0 0 1.5px #e3e6ee;border-radius:9px"></div>
<span class="t" style="top:1269.5px;font-size:25.3px;color:#16181d;-webkit-text-stroke:0.6px #16181d;left:1995.0px;">1x Su</span>
<svg class="a" style="left:2186.5px;top:1275.5px;" width="15.0" height="15.0" viewBox="0 0 15 15"><path d="M1.500 1.500 L13.500 13.500 M13.500 1.500 L1.500 13.500" stroke="#8f929b" stroke-width="1.800" stroke-linecap="round"/></svg>
<div style="left:2233.0px;top:1127.0px;width:252.0px;height:364.0px;background:#eef0f8;border-radius:10px 10px 3px 3px"></div>
<div style="left:2233.0px;top:1127.0px;width:252.0px;height:46.0px;background:#dcdce0;border-radius:10px 10px 0 0"></div>
<span class="t" style="top:1138.3px;font-size:24.5px;color:#16181d;-webkit-text-stroke:0.6px #16181d;left:2359.0px;transform:translateX(-50%);">Sifariş 2</span>
<div class="key2" style="left:2241.0px;top:1181.5px;width:72.5px;height:70.5px;"></div>
<span class="t" style="top:1202.0px;font-size:31px;color:#17191e;-webkit-text-stroke:0.5px #17191e;left:2277.2px;transform:translateX(-50%);">7</span>
<div class="key2" style="left:2321.0px;top:1181.5px;width:74.0px;height:70.5px;"></div>
<span class="t" style="top:1202.0px;font-size:31px;color:#17191e;-webkit-text-stroke:0.5px #17191e;left:2358.0px;transform:translateX(-50%);">8</span>
<div class="key2" style="left:2403.0px;top:1181.5px;width:74.0px;height:70.5px;"></div>
<span class="t" style="top:1202.0px;font-size:31px;color:#17191e;-webkit-text-stroke:0.5px #17191e;left:2440.0px;transform:translateX(-50%);">9</span>
<div class="key2" style="left:2241.0px;top:1259.0px;width:72.5px;height:70.0px;"></div>
<span class="t" style="top:1279.3px;font-size:31px;color:#17191e;-webkit-text-stroke:0.5px #17191e;left:2277.2px;transform:translateX(-50%);">4</span>
<div class="key2" style="left:2321.0px;top:1259.0px;width:74.0px;height:70.0px;"></div>
<span class="t" style="top:1279.3px;font-size:31px;color:#17191e;-webkit-text-stroke:0.5px #17191e;left:2358.0px;transform:translateX(-50%);">5</span>
<div class="key2" style="left:2403.0px;top:1259.0px;width:74.0px;height:70.0px;"></div>
<span class="t" style="top:1279.3px;font-size:31px;color:#17191e;-webkit-text-stroke:0.5px #17191e;left:2440.0px;transform:translateX(-50%);">6</span>
<div class="key2" style="left:2241.0px;top:1336.5px;width:72.5px;height:70.5px;"></div>
<span class="t" style="top:1357.0px;font-size:31px;color:#17191e;-webkit-text-stroke:0.5px #17191e;left:2277.2px;transform:translateX(-50%);">1</span>
<div class="key2" style="left:2321.0px;top:1336.5px;width:74.0px;height:70.5px;"></div>
<span class="t" style="top:1357.0px;font-size:31px;color:#17191e;-webkit-text-stroke:0.5px #17191e;left:2358.0px;transform:translateX(-50%);">2</span>
<div class="key2" style="left:2403.0px;top:1336.5px;width:74.0px;height:70.5px;"></div>
<span class="t" style="top:1357.0px;font-size:31px;color:#17191e;-webkit-text-stroke:0.5px #17191e;left:2440.0px;transform:translateX(-50%);">3</span>
<div class="key2" style="left:2241.0px;top:1414.0px;width:72.5px;height:70.0px;"></div>
<svg class="a" style="left:2263.7px;top:1440.4px;" width="27.2" height="19.2" viewBox="0 0 34 24"><g fill="none" stroke="#17191e" stroke-width="2.600" stroke-linejoin="round" stroke-linecap="round"><path d="M11 2 H30 Q32.500 2 32.500 4.500 V19.500 Q32.500 22 30 22 H11 L2 12 Z"/><path d="M16.500 7.500 L25.500 16.500 M25.500 7.500 L16.500 16.500"/></g></svg>
<div class="key2" style="left:2321.0px;top:1414.0px;width:74.0px;height:70.0px;"></div>
<span class="t" style="top:1434.3px;font-size:31px;color:#17191e;-webkit-text-stroke:0.5px #17191e;left:2358.0px;transform:translateX(-50%);">0</span>
<div class="key2" style="left:2403.0px;top:1414.0px;width:74.0px;height:70.0px;"></div>
<span class="t" style="top:1433.9px;font-size:32px;color:#17191e;-webkit-text-stroke:0.6px #17191e;left:2440.0px;transform:translateX(-50%);">.</span>
<div style="left:1603.5px;top:1500.0px;width:357.5px;height:2.0px;background:#e6e8ec"></div>
<div style="left:1976.0px;top:1500.0px;width:509.0px;height:2.0px;background:#e6e8ec"></div>
<span class="t" style="top:1519.9px;font-size:27.3px;color:#14161a;left:1603.5px;">Masa 2</span>
<span class="t" style="top:1518.5px;font-size:29px;color:#111318;font-weight:700;right:573.0px;">125,50₼</span>
<span class="t" style="top:1519.9px;font-size:27.3px;color:#14161a;left:1977.5px;">Masa 2</span>
<span class="t" style="right:43.0px;top:1518.5px;font-size:28px;color:#14161a">Cəmi: <b style="font-size:29px;color:#111318">125,50₼</b></span>
<div style="left:1602.5px;top:1573.5px;width:152.5px;height:79.5px;background:#d4e7f6;border-radius:11px"></div>
<span class="t" style="top:1599.3px;font-size:28px;color:#10131a;-webkit-text-stroke:0.6px #10131a;left:1679.0px;transform:translateX(-50%);">İstifadəçi</span>
<div style="left:1770.5px;top:1573.5px;width:244.0px;height:79.5px;background:#5b6379;border-radius:11px;box-shadow:0 1px 3px rgba(60,66,90,.4)"></div>
<span class="t" style="top:1600.6px;font-size:26.5px;color:#f3f4f7;-webkit-text-stroke:0.7px #f3f4f7;left:1892.5px;transform:translateX(-50%);">Mətbəxə Göndər</span>
<div style="left:2029.5px;top:1573.5px;width:252.5px;height:79.5px;background:#fff;border:2px solid #e7e9ed;border-radius:11px"></div>
<span class="t" style="top:1583.4px;font-size:19px;color:#41454e;left:2044.5px;">Məbləğ</span>
<span class="t" style="top:1582.6px;font-size:20px;color:#15171c;font-weight:700;right:263.0px;">125,50₼</span>
<div style="left:2044.5px;top:1612.0px;width:220.5px;height:2.0px;background:#eceef1"></div>
<span class="t" style="top:1624.3px;font-size:18px;color:#41454e;left:2044.5px;">Vergi (15%)</span>
<span class="t" style="top:1622.6px;font-size:20px;color:#15171c;font-weight:700;right:263.0px;">18,83₼</span>
<div style="left:2297.5px;top:1573.5px;width:189.0px;height:79.5px;background:#19a8a4;border-radius:11px;box-shadow:0 1px 4px rgba(25,168,164,.45);overflow:hidden"><svg class="a" style="left:0;top:0" width="189" height="80" viewBox="0 0 189 80"><path d="M82 0 Q112 8 121 44 Q124 52 127 44 Q136 12 170 0 Z" fill="#5cc9c0" opacity=".75"/></svg></div>
<span class="t" style="top:1587.3px;font-size:28px;color:#c9fff1;-webkit-text-stroke:0.7px #c9fff1;left:2392.0px;transform:translateX(-50%);">Ödəmə</span>
<span class="t" style="top:1621.6px;font-size:20px;color:#a8ebe3;left:2392.0px;transform:translateX(-50%);">F12</span>
</body></html>
